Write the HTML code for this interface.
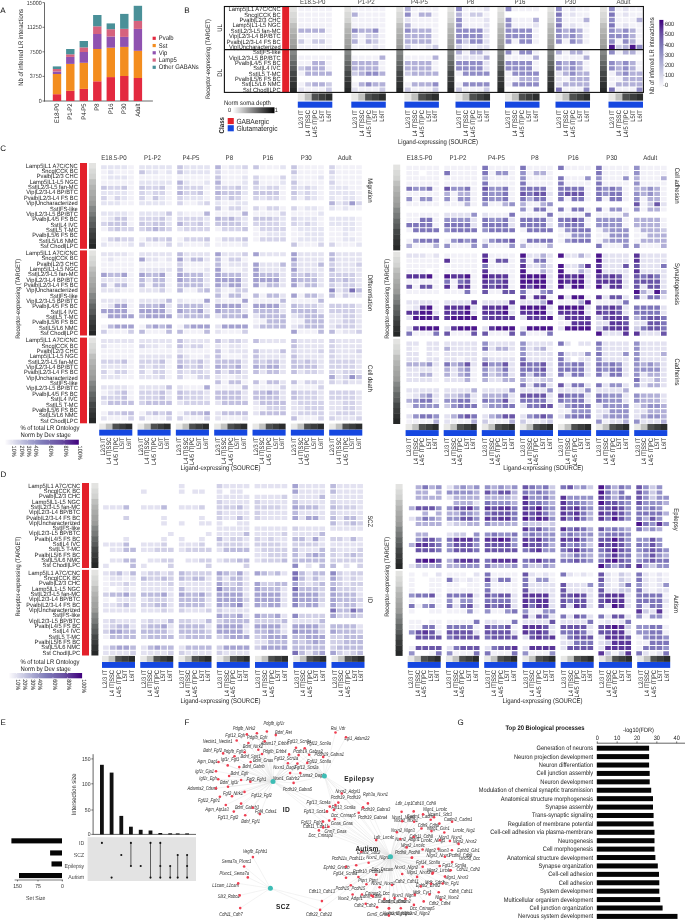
<!DOCTYPE html>
<html><head><meta charset="utf-8"><title>Figure</title>
<style>html,body{margin:0;padding:0;background:#fff;}body{width:685px;height:920px;overflow:hidden;}svg{display:block;}</style>
</head><body>
<svg width="685" height="920" viewBox="0 0 685 920" text-rendering="geometricPrecision" font-family='"Liberation Sans", Arial, sans-serif'>
<text x="0.2" y="13.1" font-size="8" fill="#111">A</text>
<text x="184.2" y="13.1" font-size="8" fill="#111">B</text>
<text x="0.2" y="151.3" font-size="8" fill="#111">C</text>
<text x="0.4" y="476.8" font-size="8" fill="#111">D</text>
<text x="0.4" y="725" font-size="8" fill="#111">E</text>
<text x="184.5" y="725" font-size="8" fill="#111">F</text>
<text x="457.6" y="725" font-size="8" fill="#111">G</text>
<line x1="44.5" y1="2.6" x2="44.5" y2="101.5" stroke="#444" stroke-width="0.8"/>
<line x1="44.1" y1="101" x2="152.9" y2="101" stroke="#444" stroke-width="0.8"/>
<line x1="42.5" y1="2.6" x2="44.5" y2="2.6" stroke="#444" stroke-width="0.7"/>
<text x="41.6" y="4.5" text-anchor="end" font-size="5.99" fill="#333" textLength="14.74" lengthAdjust="spacingAndGlyphs">15000</text>
<line x1="42.5" y1="27.3" x2="44.5" y2="27.3" stroke="#444" stroke-width="0.7"/>
<text x="41.6" y="29.2" text-anchor="end" font-size="5.99" fill="#333" textLength="14.35" lengthAdjust="spacingAndGlyphs">11250</text>
<line x1="42.5" y1="51.8" x2="44.5" y2="51.8" stroke="#444" stroke-width="0.7"/>
<text x="41.6" y="53.7" text-anchor="end" font-size="5.99" fill="#333" textLength="11.79" lengthAdjust="spacingAndGlyphs">7500</text>
<line x1="42.5" y1="76.4" x2="44.5" y2="76.4" stroke="#444" stroke-width="0.7"/>
<text x="41.6" y="78.3" text-anchor="end" font-size="5.99" fill="#333" textLength="11.79" lengthAdjust="spacingAndGlyphs">3750</text>
<line x1="42.5" y1="101" x2="44.5" y2="101" stroke="#444" stroke-width="0.7"/>
<text x="41.6" y="102.9" text-anchor="end" font-size="5.99" fill="#333" textLength="2.95" lengthAdjust="spacingAndGlyphs">0</text>
<text transform="translate(23 47.4) rotate(-90)" text-anchor="middle" font-size="6.67" fill="#222" textLength="76.74" lengthAdjust="spacingAndGlyphs">Nb of inferred LR interactions</text>
<rect x="52.8" y="94.2" width="8.4" height="6.8" fill="#e32a40"/>
<rect x="52.8" y="74" width="8.4" height="20.2" fill="#f38d1f"/>
<rect x="52.8" y="71.5" width="8.4" height="2.5" fill="#8f52b0"/>
<rect x="52.8" y="69" width="8.4" height="2.5" fill="#d6637e"/>
<rect x="52.8" y="66.4" width="8.4" height="2.6" fill="#4a9098"/>
<rect x="66.1" y="90.8" width="8.4" height="10.2" fill="#e32a40"/>
<rect x="66.1" y="63.9" width="8.4" height="26.9" fill="#f38d1f"/>
<rect x="66.1" y="56.9" width="8.4" height="7" fill="#8f52b0"/>
<rect x="66.1" y="54.3" width="8.4" height="2.6" fill="#d6637e"/>
<rect x="66.1" y="49" width="8.4" height="5.3" fill="#4a9098"/>
<rect x="79.6" y="88.9" width="8.4" height="12.1" fill="#e32a40"/>
<rect x="79.6" y="62.8" width="8.4" height="26.1" fill="#f38d1f"/>
<rect x="79.6" y="52" width="8.4" height="10.8" fill="#8f52b0"/>
<rect x="79.6" y="47.4" width="8.4" height="4.6" fill="#d6637e"/>
<rect x="79.6" y="41" width="8.4" height="6.4" fill="#4a9098"/>
<rect x="93.1" y="81.3" width="8.4" height="19.7" fill="#e32a40"/>
<rect x="93.1" y="49" width="8.4" height="32.3" fill="#f38d1f"/>
<rect x="93.1" y="34" width="8.4" height="15" fill="#8f52b0"/>
<rect x="93.1" y="26.3" width="8.4" height="7.7" fill="#d6637e"/>
<rect x="93.1" y="15" width="8.4" height="11.3" fill="#4a9098"/>
<rect x="106.6" y="77.1" width="8.4" height="23.9" fill="#e32a40"/>
<rect x="106.6" y="47.7" width="8.4" height="29.4" fill="#f38d1f"/>
<rect x="106.6" y="36.5" width="8.4" height="11.2" fill="#8f52b0"/>
<rect x="106.6" y="29.2" width="8.4" height="7.3" fill="#d6637e"/>
<rect x="106.6" y="23.4" width="8.4" height="5.8" fill="#4a9098"/>
<rect x="120.1" y="76" width="8.4" height="25" fill="#e32a40"/>
<rect x="120.1" y="46.9" width="8.4" height="29.1" fill="#f38d1f"/>
<rect x="120.1" y="36.9" width="8.4" height="10" fill="#8f52b0"/>
<rect x="120.1" y="28.8" width="8.4" height="8.1" fill="#d6637e"/>
<rect x="120.1" y="13.9" width="8.4" height="14.9" fill="#4a9098"/>
<rect x="133.7" y="78" width="8.4" height="23" fill="#e32a40"/>
<rect x="133.7" y="50.8" width="8.4" height="27.2" fill="#f38d1f"/>
<rect x="133.7" y="28.9" width="8.4" height="21.9" fill="#8f52b0"/>
<rect x="133.7" y="20.9" width="8.4" height="8" fill="#d6637e"/>
<rect x="133.7" y="5.8" width="8.4" height="15.1" fill="#4a9098"/>
<text transform="translate(59 103.6) rotate(-90)" text-anchor="end" font-size="6.55" fill="#222" textLength="19.35" lengthAdjust="spacingAndGlyphs">E18-P0</text>
<text transform="translate(72.3 103.6) rotate(-90)" text-anchor="end" font-size="6.55" fill="#222" textLength="16.12" lengthAdjust="spacingAndGlyphs">P1-P2</text>
<text transform="translate(85.8 103.6) rotate(-90)" text-anchor="end" font-size="6.55" fill="#222" textLength="16.12" lengthAdjust="spacingAndGlyphs">P4-P5</text>
<text transform="translate(99.3 103.6) rotate(-90)" text-anchor="end" font-size="6.55" fill="#222" textLength="7.09" lengthAdjust="spacingAndGlyphs">P8</text>
<text transform="translate(112.8 103.6) rotate(-90)" text-anchor="end" font-size="6.55" fill="#222" textLength="10.32" lengthAdjust="spacingAndGlyphs">P16</text>
<text transform="translate(126.3 103.6) rotate(-90)" text-anchor="end" font-size="6.55" fill="#222" textLength="10.32" lengthAdjust="spacingAndGlyphs">P30</text>
<text transform="translate(139.9 103.6) rotate(-90)" text-anchor="end" font-size="6.55" fill="#222" textLength="13.22" lengthAdjust="spacingAndGlyphs">Adult</text>
<rect x="152.6" y="36.7" width="3.2" height="3.2" fill="#e32a40"/>
<text x="158.8" y="40.3" font-size="6.67" fill="#222" textLength="14.76" lengthAdjust="spacingAndGlyphs">Pvalb</text>
<rect x="152.6" y="43.95" width="3.2" height="3.2" fill="#f38d1f"/>
<text x="158.8" y="47.55" font-size="6.67" fill="#222" textLength="8.52" lengthAdjust="spacingAndGlyphs">Sst</text>
<rect x="152.6" y="51.2" width="3.2" height="3.2" fill="#8f52b0"/>
<text x="158.8" y="54.8" font-size="6.67" fill="#222" textLength="8.42" lengthAdjust="spacingAndGlyphs">Vip</text>
<rect x="152.6" y="58.45" width="3.2" height="3.2" fill="#d6637e"/>
<text x="158.8" y="62.05" font-size="6.67" fill="#222" textLength="18.04" lengthAdjust="spacingAndGlyphs">Lamp5</text>
<rect x="152.6" y="65.7" width="3.2" height="3.2" fill="#4a9098"/>
<text x="158.8" y="69.3" font-size="6.67" fill="#222" textLength="40" lengthAdjust="spacingAndGlyphs">Other GABANs</text>
<rect x="282.2" y="6.5" width="7" height="85.9" fill="#e3212b"/>
<rect x="290" y="6.5" width="6.9" height="5.44" fill="#e3e3e1"/>
<rect x="290" y="11.89" width="6.9" height="5.44" fill="#d9dad8"/>
<rect x="290" y="17.27" width="6.9" height="5.44" fill="#d2d3d1"/>
<rect x="290" y="22.66" width="6.9" height="5.44" fill="#bfc0be"/>
<rect x="290" y="28.05" width="6.9" height="5.44" fill="#b3b4b2"/>
<rect x="290" y="33.44" width="6.9" height="5.44" fill="#aaaba9"/>
<rect x="290" y="38.83" width="6.9" height="5.44" fill="#a2a3a1"/>
<rect x="290" y="44.21" width="6.9" height="5.44" fill="#9a9b99"/>
<rect x="290" y="49.6" width="6.9" height="5.4" fill="#848786"/>
<rect x="290" y="54.95" width="6.9" height="5.4" fill="#777a79"/>
<rect x="290" y="60.3" width="6.9" height="5.4" fill="#636766"/>
<rect x="290" y="65.65" width="6.9" height="5.4" fill="#585b5b"/>
<rect x="290" y="71" width="6.9" height="5.4" fill="#444747"/>
<rect x="290" y="76.35" width="6.9" height="5.4" fill="#3a3c3c"/>
<rect x="290" y="81.7" width="6.9" height="5.4" fill="#2f3131"/>
<rect x="290" y="87.05" width="6.9" height="5.4" fill="#262828"/>
<rect x="344.4" y="6.5" width="6.9" height="5.44" fill="#e3e3e1"/>
<rect x="344.4" y="11.89" width="6.9" height="5.44" fill="#d9dad8"/>
<rect x="344.4" y="17.27" width="6.9" height="5.44" fill="#d2d3d1"/>
<rect x="344.4" y="22.66" width="6.9" height="5.44" fill="#bfc0be"/>
<rect x="344.4" y="28.05" width="6.9" height="5.44" fill="#b3b4b2"/>
<rect x="344.4" y="33.44" width="6.9" height="5.44" fill="#aaaba9"/>
<rect x="344.4" y="38.83" width="6.9" height="5.44" fill="#a2a3a1"/>
<rect x="344.4" y="44.21" width="6.9" height="5.44" fill="#9a9b99"/>
<rect x="344.4" y="49.6" width="6.9" height="5.4" fill="#848786"/>
<rect x="344.4" y="54.95" width="6.9" height="5.4" fill="#777a79"/>
<rect x="344.4" y="60.3" width="6.9" height="5.4" fill="#636766"/>
<rect x="344.4" y="65.65" width="6.9" height="5.4" fill="#585b5b"/>
<rect x="344.4" y="71" width="6.9" height="5.4" fill="#444747"/>
<rect x="344.4" y="76.35" width="6.9" height="5.4" fill="#3a3c3c"/>
<rect x="344.4" y="81.7" width="6.9" height="5.4" fill="#2f3131"/>
<rect x="344.4" y="87.05" width="6.9" height="5.4" fill="#262828"/>
<rect x="396.3" y="6.5" width="6.9" height="5.44" fill="#e3e3e1"/>
<rect x="396.3" y="11.89" width="6.9" height="5.44" fill="#d9dad8"/>
<rect x="396.3" y="17.27" width="6.9" height="5.44" fill="#d2d3d1"/>
<rect x="396.3" y="22.66" width="6.9" height="5.44" fill="#bfc0be"/>
<rect x="396.3" y="28.05" width="6.9" height="5.44" fill="#b3b4b2"/>
<rect x="396.3" y="33.44" width="6.9" height="5.44" fill="#aaaba9"/>
<rect x="396.3" y="38.83" width="6.9" height="5.44" fill="#a2a3a1"/>
<rect x="396.3" y="44.21" width="6.9" height="5.44" fill="#9a9b99"/>
<rect x="396.3" y="49.6" width="6.9" height="5.4" fill="#848786"/>
<rect x="396.3" y="54.95" width="6.9" height="5.4" fill="#777a79"/>
<rect x="396.3" y="60.3" width="6.9" height="5.4" fill="#636766"/>
<rect x="396.3" y="65.65" width="6.9" height="5.4" fill="#585b5b"/>
<rect x="396.3" y="71" width="6.9" height="5.4" fill="#444747"/>
<rect x="396.3" y="76.35" width="6.9" height="5.4" fill="#3a3c3c"/>
<rect x="396.3" y="81.7" width="6.9" height="5.4" fill="#2f3131"/>
<rect x="396.3" y="87.05" width="6.9" height="5.4" fill="#262828"/>
<rect x="447.4" y="6.5" width="6.9" height="5.44" fill="#e3e3e1"/>
<rect x="447.4" y="11.89" width="6.9" height="5.44" fill="#d9dad8"/>
<rect x="447.4" y="17.27" width="6.9" height="5.44" fill="#d2d3d1"/>
<rect x="447.4" y="22.66" width="6.9" height="5.44" fill="#bfc0be"/>
<rect x="447.4" y="28.05" width="6.9" height="5.44" fill="#b3b4b2"/>
<rect x="447.4" y="33.44" width="6.9" height="5.44" fill="#aaaba9"/>
<rect x="447.4" y="38.83" width="6.9" height="5.44" fill="#a2a3a1"/>
<rect x="447.4" y="44.21" width="6.9" height="5.44" fill="#9a9b99"/>
<rect x="447.4" y="49.6" width="6.9" height="5.4" fill="#848786"/>
<rect x="447.4" y="54.95" width="6.9" height="5.4" fill="#777a79"/>
<rect x="447.4" y="60.3" width="6.9" height="5.4" fill="#636766"/>
<rect x="447.4" y="65.65" width="6.9" height="5.4" fill="#585b5b"/>
<rect x="447.4" y="71" width="6.9" height="5.4" fill="#444747"/>
<rect x="447.4" y="76.35" width="6.9" height="5.4" fill="#3a3c3c"/>
<rect x="447.4" y="81.7" width="6.9" height="5.4" fill="#2f3131"/>
<rect x="447.4" y="87.05" width="6.9" height="5.4" fill="#262828"/>
<rect x="497.4" y="6.5" width="6.9" height="5.44" fill="#e3e3e1"/>
<rect x="497.4" y="11.89" width="6.9" height="5.44" fill="#d9dad8"/>
<rect x="497.4" y="17.27" width="6.9" height="5.44" fill="#d2d3d1"/>
<rect x="497.4" y="22.66" width="6.9" height="5.44" fill="#bfc0be"/>
<rect x="497.4" y="28.05" width="6.9" height="5.44" fill="#b3b4b2"/>
<rect x="497.4" y="33.44" width="6.9" height="5.44" fill="#aaaba9"/>
<rect x="497.4" y="38.83" width="6.9" height="5.44" fill="#a2a3a1"/>
<rect x="497.4" y="44.21" width="6.9" height="5.44" fill="#9a9b99"/>
<rect x="497.4" y="49.6" width="6.9" height="5.4" fill="#848786"/>
<rect x="497.4" y="54.95" width="6.9" height="5.4" fill="#777a79"/>
<rect x="497.4" y="60.3" width="6.9" height="5.4" fill="#636766"/>
<rect x="497.4" y="65.65" width="6.9" height="5.4" fill="#585b5b"/>
<rect x="497.4" y="71" width="6.9" height="5.4" fill="#444747"/>
<rect x="497.4" y="76.35" width="6.9" height="5.4" fill="#3a3c3c"/>
<rect x="497.4" y="81.7" width="6.9" height="5.4" fill="#2f3131"/>
<rect x="497.4" y="87.05" width="6.9" height="5.4" fill="#262828"/>
<rect x="547.4" y="6.5" width="6.9" height="5.44" fill="#e3e3e1"/>
<rect x="547.4" y="11.89" width="6.9" height="5.44" fill="#d9dad8"/>
<rect x="547.4" y="17.27" width="6.9" height="5.44" fill="#d2d3d1"/>
<rect x="547.4" y="22.66" width="6.9" height="5.44" fill="#bfc0be"/>
<rect x="547.4" y="28.05" width="6.9" height="5.44" fill="#b3b4b2"/>
<rect x="547.4" y="33.44" width="6.9" height="5.44" fill="#aaaba9"/>
<rect x="547.4" y="38.83" width="6.9" height="5.44" fill="#a2a3a1"/>
<rect x="547.4" y="44.21" width="6.9" height="5.44" fill="#9a9b99"/>
<rect x="547.4" y="49.6" width="6.9" height="5.4" fill="#848786"/>
<rect x="547.4" y="54.95" width="6.9" height="5.4" fill="#777a79"/>
<rect x="547.4" y="60.3" width="6.9" height="5.4" fill="#636766"/>
<rect x="547.4" y="65.65" width="6.9" height="5.4" fill="#585b5b"/>
<rect x="547.4" y="71" width="6.9" height="5.4" fill="#444747"/>
<rect x="547.4" y="76.35" width="6.9" height="5.4" fill="#3a3c3c"/>
<rect x="547.4" y="81.7" width="6.9" height="5.4" fill="#2f3131"/>
<rect x="547.4" y="87.05" width="6.9" height="5.4" fill="#262828"/>
<rect x="600" y="6.5" width="6.9" height="5.44" fill="#e3e3e1"/>
<rect x="600" y="11.89" width="6.9" height="5.44" fill="#d9dad8"/>
<rect x="600" y="17.27" width="6.9" height="5.44" fill="#d2d3d1"/>
<rect x="600" y="22.66" width="6.9" height="5.44" fill="#bfc0be"/>
<rect x="600" y="28.05" width="6.9" height="5.44" fill="#b3b4b2"/>
<rect x="600" y="33.44" width="6.9" height="5.44" fill="#aaaba9"/>
<rect x="600" y="38.83" width="6.9" height="5.44" fill="#a2a3a1"/>
<rect x="600" y="44.21" width="6.9" height="5.44" fill="#9a9b99"/>
<rect x="600" y="49.6" width="6.9" height="5.4" fill="#848786"/>
<rect x="600" y="54.95" width="6.9" height="5.4" fill="#777a79"/>
<rect x="600" y="60.3" width="6.9" height="5.4" fill="#636766"/>
<rect x="600" y="65.65" width="6.9" height="5.4" fill="#585b5b"/>
<rect x="600" y="71" width="6.9" height="5.4" fill="#444747"/>
<rect x="600" y="76.35" width="6.9" height="5.4" fill="#3a3c3c"/>
<rect x="600" y="81.7" width="6.9" height="5.4" fill="#2f3131"/>
<rect x="600" y="87.05" width="6.9" height="5.4" fill="#262828"/>
<path d="M298.4 9.2h5.8M305.2 9.2h5.8M312.2 9.2h5.8M319.1 9.2h5.8M326.0 9.2h5.8M351.9 9.2h5.8M358.8 9.2h5.8M365.7 9.2h5.8M372.6 9.2h5.8M379.5 9.2h5.8M411.8 9.2h5.8M418.8 9.2h5.8M425.6 9.2h5.8M432.6 9.2h5.8M462.9 9.2h5.8M469.9 9.2h5.8M476.8 9.2h5.8M512.4 9.2h5.8M519.3 9.2h5.8M526.2 9.2h5.8M533.1 9.2h5.8M562.9 9.2h5.8M576.8 9.2h5.8M583.6 9.2h5.8M615.9 9.2h5.8M629.8 9.2h5.8M636.6 9.2h5.8M298.4 14.6h5.8M305.2 14.6h5.8M312.2 14.6h5.8M319.1 14.6h5.8M326.0 14.6h5.8M358.8 14.6h5.8M365.7 14.6h5.8M372.6 14.6h5.8M379.5 14.6h5.8M411.8 14.6h5.8M432.6 14.6h5.8M462.9 14.6h5.8M483.7 14.6h5.8M562.9 14.6h5.8M576.8 14.6h5.8M583.6 14.6h5.8M615.9 14.6h5.8M629.8 14.6h5.8M636.6 14.6h5.8M298.4 20.0h5.8M305.2 20.0h5.8M312.2 20.0h5.8M319.1 20.0h5.8M326.0 20.0h5.8M351.9 20.0h5.8M358.8 20.0h5.8M365.7 20.0h5.8M372.6 20.0h5.8M379.5 20.0h5.8M411.8 20.0h5.8M418.8 20.0h5.8M425.6 20.0h5.8M432.6 20.0h5.8M462.9 20.0h5.8M469.9 20.0h5.8M476.8 20.0h5.8M512.4 20.0h5.8M519.3 20.0h5.8M526.2 20.0h5.8M562.9 20.0h5.8M569.8 20.0h5.8M576.8 20.0h5.8M615.9 20.0h5.8M622.8 20.0h5.8M629.8 20.0h5.8M298.4 25.4h5.8M305.2 25.4h5.8M312.2 25.4h5.8M319.1 25.4h5.8M326.0 25.4h5.8M351.9 25.4h5.8M358.8 25.4h5.8M365.7 25.4h5.8M372.6 25.4h5.8M379.5 25.4h5.8M411.8 25.4h5.8M418.8 25.4h5.8M425.6 25.4h5.8M432.6 25.4h5.8M462.9 25.4h5.8M469.9 25.4h5.8M476.8 25.4h5.8M512.4 25.4h5.8M519.3 25.4h5.8M526.2 25.4h5.8M562.9 25.4h5.8M576.8 25.4h5.8M583.6 25.4h5.8M615.9 25.4h5.8M629.8 25.4h5.8M636.6 25.4h5.8M326.0 30.7h5.8M379.5 30.7h5.8M432.6 30.7h5.8M533.1 30.7h5.8M583.6 30.7h5.8M636.6 30.7h5.8M298.4 36.1h5.8M305.2 36.1h5.8M312.2 36.1h5.8M319.1 36.1h5.8M326.0 36.1h5.8M358.8 36.1h5.8M379.5 36.1h5.8M432.6 36.1h5.8M533.1 36.1h5.8M583.6 36.1h5.8M636.6 36.1h5.8M305.2 41.5h5.8M326.0 41.5h5.8M358.8 41.5h5.8M379.5 41.5h5.8M432.6 41.5h5.8M512.4 41.5h5.8M533.1 41.5h5.8M562.9 41.5h5.8M583.6 41.5h5.8M615.9 41.5h5.8M636.6 41.5h5.8M298.4 46.9h5.8M305.2 46.9h5.8M312.2 46.9h5.8M319.1 46.9h5.8M326.0 46.9h5.8M351.9 46.9h5.8M358.8 46.9h5.8M365.7 46.9h5.8M379.5 46.9h5.8M411.8 46.9h5.8M418.8 46.9h5.8M462.9 46.9h5.8M469.9 46.9h5.8" stroke="#f2f1f8" stroke-width="4.29"/>
<path d="M483.7 9.2h5.8M569.8 9.2h5.8M622.8 9.2h5.8M569.8 14.6h5.8M622.8 14.6h5.8M404.9 20.0h5.8M483.7 20.0h5.8M483.7 25.4h5.8M533.1 25.4h5.8M569.8 25.4h5.8M622.8 25.4h5.8M483.7 30.7h5.8M483.7 36.1h5.8M483.7 41.5h5.8M372.6 46.9h5.8M425.6 46.9h5.8M476.8 46.9h5.8M483.7 46.9h5.8" stroke="#e3e2f1" stroke-width="4.29"/>
<path d="M469.9 14.6h5.8M476.8 14.6h5.8M351.9 36.1h5.8M365.7 36.1h5.8M372.6 36.1h5.8M298.4 41.5h5.8M312.2 41.5h5.8M319.1 41.5h5.8M372.6 41.5h5.8M462.9 41.5h5.8M404.9 46.9h5.8M432.6 46.9h5.8M456.1 46.9h5.8M615.9 46.9h5.8" stroke="#cccbe5" stroke-width="4.29"/>
<path d="M404.9 9.2h5.8M351.9 14.6h5.8M418.8 14.6h5.8M425.6 14.6h5.8M456.1 14.6h5.8M533.1 20.0h5.8M583.6 20.0h5.8M636.6 20.0h5.8M404.9 25.4h5.8M298.4 30.7h5.8M305.2 30.7h5.8M312.2 30.7h5.8M319.1 30.7h5.8M358.8 30.7h5.8M365.7 30.7h5.8M411.8 30.7h5.8M418.8 30.7h5.8M425.6 30.7h5.8M562.9 30.7h5.8M576.8 30.7h5.8M615.9 30.7h5.8M629.8 30.7h5.8M404.9 36.1h5.8M411.8 36.1h5.8M418.8 36.1h5.8M425.6 36.1h5.8M562.9 36.1h5.8M576.8 36.1h5.8M629.8 36.1h5.8M351.9 41.5h5.8M365.7 41.5h5.8M404.9 41.5h5.8M411.8 41.5h5.8M418.8 41.5h5.8M425.6 41.5h5.8M576.8 41.5h5.8M629.8 41.5h5.8M622.8 46.9h5.8" stroke="#b2b0d8" stroke-width="4.29"/>
<path d="M456.1 9.2h5.8M505.6 9.2h5.8M556.0 9.2h5.8M609.0 9.2h5.8M404.9 14.6h5.8M456.1 20.0h5.8M505.6 20.0h5.8M556.0 20.0h5.8M609.0 20.0h5.8M456.1 25.4h5.8M505.6 25.4h5.8M351.9 30.7h5.8M372.6 30.7h5.8M404.9 30.7h5.8M456.1 30.7h5.8M462.9 30.7h5.8M469.9 30.7h5.8M476.8 30.7h5.8M505.6 30.7h5.8M512.4 30.7h5.8M519.3 30.7h5.8M526.2 30.7h5.8M556.0 30.7h5.8M569.8 30.7h5.8M609.0 30.7h5.8M622.8 30.7h5.8M456.1 36.1h5.8M462.9 36.1h5.8M469.9 36.1h5.8M476.8 36.1h5.8M505.6 36.1h5.8M512.4 36.1h5.8M519.3 36.1h5.8M526.2 36.1h5.8M556.0 36.1h5.8M569.8 36.1h5.8M609.0 36.1h5.8M615.9 36.1h5.8M622.8 36.1h5.8M456.1 41.5h5.8M469.9 41.5h5.8M476.8 41.5h5.8M505.6 41.5h5.8M519.3 41.5h5.8M526.2 41.5h5.8M556.0 41.5h5.8M569.8 41.5h5.8M609.0 41.5h5.8M622.8 41.5h5.8M636.6 46.9h5.8" stroke="#908cc6" stroke-width="4.29"/>
<path d="M556.0 14.6h5.8M609.0 14.6h5.8M556.0 25.4h5.8M609.0 25.4h5.8" stroke="#7e76ba" stroke-width="4.29"/>
<path d="M609.0 46.9h5.8M629.8 46.9h5.8" stroke="#4b168c" stroke-width="4.29"/>
<path d="M462.9 52.3h5.8M483.7 52.3h5.8M512.4 52.3h5.8M533.1 52.3h5.8M562.9 52.3h5.8M583.6 52.3h5.8M615.9 52.3h5.8M636.6 52.3h5.8M298.4 57.6h5.8M305.2 57.6h5.8M312.2 57.6h5.8M319.1 57.6h5.8M326.0 57.6h5.8M351.9 57.6h5.8M358.8 57.6h5.8M365.7 57.6h5.8M372.6 57.6h5.8M404.9 57.6h5.8M411.8 57.6h5.8M418.8 57.6h5.8M425.6 57.6h5.8M505.6 57.6h5.8M512.4 57.6h5.8M519.3 57.6h5.8M526.2 57.6h5.8M556.0 57.6h5.8M562.9 57.6h5.8M569.8 57.6h5.8M576.8 57.6h5.8M298.4 63.0h5.8M305.2 63.0h5.8M326.0 63.0h5.8M379.5 63.0h5.8M432.6 63.0h5.8M533.1 63.0h5.8M583.6 63.0h5.8M636.6 63.0h5.8M326.0 68.3h5.8M379.5 68.3h5.8M432.6 68.3h5.8M533.1 68.3h5.8M583.6 68.3h5.8M636.6 68.3h5.8M298.4 73.7h5.8M456.1 73.7h5.8M505.6 73.7h5.8M609.0 73.7h5.8M505.6 79.0h5.8M512.4 79.0h5.8M562.9 79.0h5.8M609.0 79.0h5.8M615.9 79.0h5.8M298.4 84.4h5.8M351.9 84.4h5.8M404.9 84.4h5.8M456.1 84.4h5.8M505.6 84.4h5.8M609.0 84.4h5.8M305.2 89.7h5.8M312.2 89.7h5.8M319.1 89.7h5.8M358.8 89.7h5.8M365.7 89.7h5.8M372.6 89.7h5.8M411.8 89.7h5.8M418.8 89.7h5.8M425.6 89.7h5.8M462.9 89.7h5.8M469.9 89.7h5.8M476.8 89.7h5.8M562.9 89.7h5.8M569.8 89.7h5.8M576.8 89.7h5.8M615.9 89.7h5.8M622.8 89.7h5.8M629.8 89.7h5.8" stroke="#f2f1f8" stroke-width="4.25"/>
<path d="M456.1 57.6h5.8M462.9 57.6h5.8M469.9 57.6h5.8M476.8 57.6h5.8M483.7 63.0h5.8M483.7 68.3h5.8M556.0 73.7h5.8M556.0 79.0h5.8M556.0 84.4h5.8M298.4 89.7h5.8M351.9 89.7h5.8" stroke="#e3e2f1" stroke-width="4.25"/>
<path d="M298.4 68.3h5.8M351.9 73.7h5.8M404.9 73.7h5.8M305.2 84.4h5.8M326.0 84.4h5.8M326.0 89.7h5.8M379.5 89.7h5.8M404.9 89.7h5.8M432.6 89.7h5.8M456.1 89.7h5.8M483.7 89.7h5.8" stroke="#cccbe5" stroke-width="4.25"/>
<path d="M456.1 52.3h5.8M469.9 52.3h5.8M476.8 52.3h5.8M556.0 52.3h5.8M569.8 52.3h5.8M576.8 52.3h5.8M622.8 52.3h5.8M629.8 52.3h5.8M379.5 57.6h5.8M432.6 57.6h5.8M483.7 57.6h5.8M533.1 57.6h5.8M583.6 57.6h5.8M312.2 63.0h5.8M319.1 63.0h5.8M351.9 63.0h5.8M358.8 63.0h5.8M365.7 63.0h5.8M372.6 63.0h5.8M404.9 63.0h5.8M411.8 63.0h5.8M418.8 63.0h5.8M425.6 63.0h5.8M562.9 63.0h5.8M576.8 63.0h5.8M615.9 63.0h5.8M629.8 63.0h5.8M305.2 68.3h5.8M312.2 68.3h5.8M319.1 68.3h5.8M351.9 68.3h5.8M358.8 68.3h5.8M365.7 68.3h5.8M372.6 68.3h5.8M404.9 68.3h5.8M411.8 68.3h5.8M418.8 68.3h5.8M425.6 68.3h5.8M562.9 68.3h5.8M576.8 68.3h5.8M615.9 68.3h5.8M629.8 68.3h5.8M305.2 73.7h5.8M312.2 73.7h5.8M319.1 73.7h5.8M326.0 73.7h5.8M358.8 73.7h5.8M379.5 73.7h5.8M411.8 73.7h5.8M418.8 73.7h5.8M425.6 73.7h5.8M432.6 73.7h5.8M562.9 73.7h5.8M576.8 73.7h5.8M583.6 73.7h5.8M615.9 73.7h5.8M629.8 73.7h5.8M636.6 73.7h5.8M519.3 79.0h5.8M526.2 79.0h5.8M533.1 79.0h5.8M569.8 79.0h5.8M576.8 79.0h5.8M583.6 79.0h5.8M622.8 79.0h5.8M629.8 79.0h5.8M636.6 79.0h5.8M312.2 84.4h5.8M319.1 84.4h5.8M358.8 84.4h5.8M372.6 84.4h5.8M379.5 84.4h5.8M411.8 84.4h5.8M418.8 84.4h5.8M425.6 84.4h5.8M562.9 84.4h5.8M569.8 84.4h5.8M576.8 84.4h5.8M583.6 84.4h5.8M615.9 84.4h5.8M622.8 84.4h5.8M629.8 84.4h5.8M636.6 84.4h5.8" stroke="#b2b0d8" stroke-width="4.25"/>
<path d="M505.6 52.3h5.8M519.3 52.3h5.8M526.2 52.3h5.8M609.0 52.3h5.8M456.1 63.0h5.8M462.9 63.0h5.8M469.9 63.0h5.8M476.8 63.0h5.8M505.6 63.0h5.8M512.4 63.0h5.8M519.3 63.0h5.8M526.2 63.0h5.8M556.0 63.0h5.8M569.8 63.0h5.8M609.0 63.0h5.8M622.8 63.0h5.8M456.1 68.3h5.8M462.9 68.3h5.8M469.9 68.3h5.8M476.8 68.3h5.8M505.6 68.3h5.8M512.4 68.3h5.8M519.3 68.3h5.8M526.2 68.3h5.8M556.0 68.3h5.8M569.8 68.3h5.8M609.0 68.3h5.8M622.8 68.3h5.8M365.7 73.7h5.8M372.6 73.7h5.8M462.9 73.7h5.8M469.9 73.7h5.8M476.8 73.7h5.8M483.7 73.7h5.8M512.4 73.7h5.8M519.3 73.7h5.8M526.2 73.7h5.8M533.1 73.7h5.8M569.8 73.7h5.8M622.8 73.7h5.8M365.7 84.4h5.8M432.6 84.4h5.8M462.9 84.4h5.8M469.9 84.4h5.8M476.8 84.4h5.8M483.7 84.4h5.8M512.4 84.4h5.8M519.3 84.4h5.8M526.2 84.4h5.8M533.1 84.4h5.8M583.6 89.7h5.8M636.6 89.7h5.8" stroke="#908cc6" stroke-width="4.25"/>
<path d="M556.0 89.7h5.8M609.0 89.7h5.8" stroke="#7e76ba" stroke-width="4.25"/>
<text x="280.6" y="11.19" text-anchor="end" font-size="6.04" fill="#222" textLength="51.99" lengthAdjust="spacingAndGlyphs">Lamp5|L1 A7C/CNC</text>
<text x="280.6" y="16.58" text-anchor="end" font-size="6.04" fill="#222" textLength="36.33" lengthAdjust="spacingAndGlyphs">Sncg|CCK BC</text>
<text x="280.6" y="21.97" text-anchor="end" font-size="6.04" fill="#222" textLength="41.12" lengthAdjust="spacingAndGlyphs">Pvalb|L2/3 CHC</text>
<text x="280.6" y="27.36" text-anchor="end" font-size="6.04" fill="#222" textLength="48.16" lengthAdjust="spacingAndGlyphs">Lamp5|L1-L5 NGC</text>
<text x="280.6" y="32.74" text-anchor="end" font-size="6.04" fill="#222" textLength="49.75" lengthAdjust="spacingAndGlyphs">Sst|L2/3-L5 fan-MC</text>
<text x="280.6" y="38.13" text-anchor="end" font-size="6.04" fill="#222" textLength="51.57" lengthAdjust="spacingAndGlyphs">Vip|L2/3-L4 BP/BTC</text>
<text x="280.6" y="43.52" text-anchor="end" font-size="6.04" fill="#222" textLength="53.91" lengthAdjust="spacingAndGlyphs">Pvalb|L2/3-L4 FS BC</text>
<text x="280.6" y="48.91" text-anchor="end" font-size="6.04" fill="#222" textLength="51.57" lengthAdjust="spacingAndGlyphs">Vip|Uncharacterized</text>
<text x="280.6" y="54.27" text-anchor="end" font-size="6.04" fill="#222" textLength="27.69" lengthAdjust="spacingAndGlyphs">Sst|FS-like</text>
<text x="280.6" y="59.62" text-anchor="end" font-size="6.04" fill="#222" textLength="51.57" lengthAdjust="spacingAndGlyphs">Vip|L2/3-L5 BP/BTC</text>
<text x="280.6" y="64.97" text-anchor="end" font-size="6.04" fill="#222" textLength="45.6" lengthAdjust="spacingAndGlyphs">Pvalb|L4/5 FS BC</text>
<text x="280.6" y="70.33" text-anchor="end" font-size="6.04" fill="#222" textLength="27.38" lengthAdjust="spacingAndGlyphs">Sst|L4 IVC</text>
<text x="280.6" y="75.67" text-anchor="end" font-size="6.04" fill="#222" textLength="31.74" lengthAdjust="spacingAndGlyphs">Sst|L5 T-MC</text>
<text x="280.6" y="81.03" text-anchor="end" font-size="6.04" fill="#222" textLength="45.6" lengthAdjust="spacingAndGlyphs">Pvalb|L5/6 FS BC</text>
<text x="280.6" y="86.38" text-anchor="end" font-size="6.04" fill="#222" textLength="38.88" lengthAdjust="spacingAndGlyphs">Sst|L5/L6 NMC</text>
<text x="280.6" y="91.73" text-anchor="end" font-size="6.04" fill="#222" textLength="37.61" lengthAdjust="spacingAndGlyphs">Sst Chodl|LPC</text>
<rect x="224.4" y="6.5" width="419.0" height="85.9" fill="none" stroke="#111" stroke-width="1.1"/>
<line x1="224.4" y1="49.6" x2="643.4" y2="49.6" stroke="#111" stroke-width="1.3"/>
<text transform="translate(221.6 28) rotate(-90)" text-anchor="middle" font-size="6.78" fill="#222" textLength="7.67" lengthAdjust="spacingAndGlyphs">UL</text>
<text transform="translate(221.6 72.8) rotate(-90)" text-anchor="middle" font-size="6.78" fill="#222" textLength="7.67" lengthAdjust="spacingAndGlyphs">DL</text>
<text transform="translate(210 59) rotate(-90)" text-anchor="middle" font-size="6.38" fill="#222" textLength="79.96" lengthAdjust="spacingAndGlyphs">Receptor-expressing (TARGET)</text>
<text x="312.75" y="4.3" text-anchor="middle" font-size="6.89" fill="#444" textLength="25.43" lengthAdjust="spacingAndGlyphs">E18.5-P0</text>
<text x="366.25" y="4.3" text-anchor="middle" font-size="6.89" fill="#444" textLength="16.95" lengthAdjust="spacingAndGlyphs">P1-P2</text>
<text x="419.35" y="4.3" text-anchor="middle" font-size="6.89" fill="#444" textLength="16.95" lengthAdjust="spacingAndGlyphs">P4-P5</text>
<text x="470.45" y="4.3" text-anchor="middle" font-size="6.89" fill="#444" textLength="7.46" lengthAdjust="spacingAndGlyphs">P8</text>
<text x="519.95" y="4.3" text-anchor="middle" font-size="6.89" fill="#444" textLength="10.85" lengthAdjust="spacingAndGlyphs">P16</text>
<text x="570.45" y="4.3" text-anchor="middle" font-size="6.89" fill="#444" textLength="10.85" lengthAdjust="spacingAndGlyphs">P30</text>
<text x="623.45" y="4.3" text-anchor="middle" font-size="6.89" fill="#444" textLength="13.9" lengthAdjust="spacingAndGlyphs">Adult</text>
<rect x="297.8" y="93.4" width="6.95" height="7.2" fill="#e8e8e6"/>
<rect x="304.7" y="93.4" width="6.95" height="7.2" fill="#c0c1bf"/>
<rect x="311.6" y="93.4" width="6.95" height="7.2" fill="#4d4f4f"/>
<rect x="318.5" y="93.4" width="6.95" height="7.2" fill="#3b3d3d"/>
<rect x="325.4" y="93.4" width="6.95" height="7.2" fill="#2b2d2d"/>
<rect x="297.8" y="101.6" width="34.5" height="6.1" fill="#1547e0"/>
<text transform="translate(303.25 110.2) rotate(-90)" text-anchor="end" font-size="6.5" fill="#222" textLength="17.9" lengthAdjust="spacingAndGlyphs">L2/3 IT</text>
<text transform="translate(310.15 110.2) rotate(-90)" text-anchor="end" font-size="6.5" fill="#222" textLength="26.42" lengthAdjust="spacingAndGlyphs">L4 IT|SSC</text>
<text transform="translate(317.05 110.2) rotate(-90)" text-anchor="end" font-size="6.5" fill="#222" textLength="27.38" lengthAdjust="spacingAndGlyphs">L4/5 IT|PC</text>
<text transform="translate(323.95 110.2) rotate(-90)" text-anchor="end" font-size="6.5" fill="#222" textLength="11.51" lengthAdjust="spacingAndGlyphs">L5IT</text>
<text transform="translate(330.85 110.2) rotate(-90)" text-anchor="end" font-size="6.5" fill="#222" textLength="11.51" lengthAdjust="spacingAndGlyphs">L6IT</text>
<rect x="351.3" y="93.4" width="6.95" height="7.2" fill="#e8e8e6"/>
<rect x="358.2" y="93.4" width="6.95" height="7.2" fill="#c0c1bf"/>
<rect x="365.1" y="93.4" width="6.95" height="7.2" fill="#4d4f4f"/>
<rect x="372" y="93.4" width="6.95" height="7.2" fill="#3b3d3d"/>
<rect x="378.9" y="93.4" width="6.95" height="7.2" fill="#2b2d2d"/>
<rect x="351.3" y="101.6" width="34.5" height="6.1" fill="#1547e0"/>
<text transform="translate(356.75 110.2) rotate(-90)" text-anchor="end" font-size="6.5" fill="#222" textLength="17.9" lengthAdjust="spacingAndGlyphs">L2/3 IT</text>
<text transform="translate(363.65 110.2) rotate(-90)" text-anchor="end" font-size="6.5" fill="#222" textLength="26.42" lengthAdjust="spacingAndGlyphs">L4 IT|SSC</text>
<text transform="translate(370.55 110.2) rotate(-90)" text-anchor="end" font-size="6.5" fill="#222" textLength="27.38" lengthAdjust="spacingAndGlyphs">L4/5 IT|PC</text>
<text transform="translate(377.45 110.2) rotate(-90)" text-anchor="end" font-size="6.5" fill="#222" textLength="11.51" lengthAdjust="spacingAndGlyphs">L5IT</text>
<text transform="translate(384.35 110.2) rotate(-90)" text-anchor="end" font-size="6.5" fill="#222" textLength="11.51" lengthAdjust="spacingAndGlyphs">L6IT</text>
<rect x="404.4" y="93.4" width="6.95" height="7.2" fill="#e8e8e6"/>
<rect x="411.3" y="93.4" width="6.95" height="7.2" fill="#c0c1bf"/>
<rect x="418.2" y="93.4" width="6.95" height="7.2" fill="#4d4f4f"/>
<rect x="425.1" y="93.4" width="6.95" height="7.2" fill="#3b3d3d"/>
<rect x="432" y="93.4" width="6.95" height="7.2" fill="#2b2d2d"/>
<rect x="404.4" y="101.6" width="34.5" height="6.1" fill="#1547e0"/>
<text transform="translate(409.85 110.2) rotate(-90)" text-anchor="end" font-size="6.5" fill="#222" textLength="17.9" lengthAdjust="spacingAndGlyphs">L2/3 IT</text>
<text transform="translate(416.75 110.2) rotate(-90)" text-anchor="end" font-size="6.5" fill="#222" textLength="26.42" lengthAdjust="spacingAndGlyphs">L4 IT|SSC</text>
<text transform="translate(423.65 110.2) rotate(-90)" text-anchor="end" font-size="6.5" fill="#222" textLength="27.38" lengthAdjust="spacingAndGlyphs">L4/5 IT|PC</text>
<text transform="translate(430.55 110.2) rotate(-90)" text-anchor="end" font-size="6.5" fill="#222" textLength="11.51" lengthAdjust="spacingAndGlyphs">L5IT</text>
<text transform="translate(437.45 110.2) rotate(-90)" text-anchor="end" font-size="6.5" fill="#222" textLength="11.51" lengthAdjust="spacingAndGlyphs">L6IT</text>
<rect x="455.5" y="93.4" width="6.95" height="7.2" fill="#e8e8e6"/>
<rect x="462.4" y="93.4" width="6.95" height="7.2" fill="#c0c1bf"/>
<rect x="469.3" y="93.4" width="6.95" height="7.2" fill="#4d4f4f"/>
<rect x="476.2" y="93.4" width="6.95" height="7.2" fill="#3b3d3d"/>
<rect x="483.1" y="93.4" width="6.95" height="7.2" fill="#2b2d2d"/>
<rect x="455.5" y="101.6" width="34.5" height="6.1" fill="#1547e0"/>
<text transform="translate(460.95 110.2) rotate(-90)" text-anchor="end" font-size="6.5" fill="#222" textLength="17.9" lengthAdjust="spacingAndGlyphs">L2/3 IT</text>
<text transform="translate(467.85 110.2) rotate(-90)" text-anchor="end" font-size="6.5" fill="#222" textLength="26.42" lengthAdjust="spacingAndGlyphs">L4 IT|SSC</text>
<text transform="translate(474.75 110.2) rotate(-90)" text-anchor="end" font-size="6.5" fill="#222" textLength="27.38" lengthAdjust="spacingAndGlyphs">L4/5 IT|PC</text>
<text transform="translate(481.65 110.2) rotate(-90)" text-anchor="end" font-size="6.5" fill="#222" textLength="11.51" lengthAdjust="spacingAndGlyphs">L5IT</text>
<text transform="translate(488.55 110.2) rotate(-90)" text-anchor="end" font-size="6.5" fill="#222" textLength="11.51" lengthAdjust="spacingAndGlyphs">L6IT</text>
<rect x="505" y="93.4" width="6.95" height="7.2" fill="#e8e8e6"/>
<rect x="511.9" y="93.4" width="6.95" height="7.2" fill="#c0c1bf"/>
<rect x="518.8" y="93.4" width="6.95" height="7.2" fill="#4d4f4f"/>
<rect x="525.7" y="93.4" width="6.95" height="7.2" fill="#3b3d3d"/>
<rect x="532.6" y="93.4" width="6.95" height="7.2" fill="#2b2d2d"/>
<rect x="505" y="101.6" width="34.5" height="6.1" fill="#1547e0"/>
<text transform="translate(510.45 110.2) rotate(-90)" text-anchor="end" font-size="6.5" fill="#222" textLength="17.9" lengthAdjust="spacingAndGlyphs">L2/3 IT</text>
<text transform="translate(517.35 110.2) rotate(-90)" text-anchor="end" font-size="6.5" fill="#222" textLength="26.42" lengthAdjust="spacingAndGlyphs">L4 IT|SSC</text>
<text transform="translate(524.25 110.2) rotate(-90)" text-anchor="end" font-size="6.5" fill="#222" textLength="27.38" lengthAdjust="spacingAndGlyphs">L4/5 IT|PC</text>
<text transform="translate(531.15 110.2) rotate(-90)" text-anchor="end" font-size="6.5" fill="#222" textLength="11.51" lengthAdjust="spacingAndGlyphs">L5IT</text>
<text transform="translate(538.05 110.2) rotate(-90)" text-anchor="end" font-size="6.5" fill="#222" textLength="11.51" lengthAdjust="spacingAndGlyphs">L6IT</text>
<rect x="555.5" y="93.4" width="6.95" height="7.2" fill="#e8e8e6"/>
<rect x="562.4" y="93.4" width="6.95" height="7.2" fill="#c0c1bf"/>
<rect x="569.3" y="93.4" width="6.95" height="7.2" fill="#4d4f4f"/>
<rect x="576.2" y="93.4" width="6.95" height="7.2" fill="#3b3d3d"/>
<rect x="583.1" y="93.4" width="6.95" height="7.2" fill="#2b2d2d"/>
<rect x="555.5" y="101.6" width="34.5" height="6.1" fill="#1547e0"/>
<text transform="translate(560.95 110.2) rotate(-90)" text-anchor="end" font-size="6.5" fill="#222" textLength="17.9" lengthAdjust="spacingAndGlyphs">L2/3 IT</text>
<text transform="translate(567.85 110.2) rotate(-90)" text-anchor="end" font-size="6.5" fill="#222" textLength="26.42" lengthAdjust="spacingAndGlyphs">L4 IT|SSC</text>
<text transform="translate(574.75 110.2) rotate(-90)" text-anchor="end" font-size="6.5" fill="#222" textLength="27.38" lengthAdjust="spacingAndGlyphs">L4/5 IT|PC</text>
<text transform="translate(581.65 110.2) rotate(-90)" text-anchor="end" font-size="6.5" fill="#222" textLength="11.51" lengthAdjust="spacingAndGlyphs">L5IT</text>
<text transform="translate(588.55 110.2) rotate(-90)" text-anchor="end" font-size="6.5" fill="#222" textLength="11.51" lengthAdjust="spacingAndGlyphs">L6IT</text>
<rect x="608.5" y="93.4" width="6.95" height="7.2" fill="#e8e8e6"/>
<rect x="615.4" y="93.4" width="6.95" height="7.2" fill="#c0c1bf"/>
<rect x="622.3" y="93.4" width="6.95" height="7.2" fill="#4d4f4f"/>
<rect x="629.2" y="93.4" width="6.95" height="7.2" fill="#3b3d3d"/>
<rect x="636.1" y="93.4" width="6.95" height="7.2" fill="#2b2d2d"/>
<rect x="608.5" y="101.6" width="34.5" height="6.1" fill="#1547e0"/>
<text transform="translate(613.95 110.2) rotate(-90)" text-anchor="end" font-size="6.5" fill="#222" textLength="17.9" lengthAdjust="spacingAndGlyphs">L2/3 IT</text>
<text transform="translate(620.85 110.2) rotate(-90)" text-anchor="end" font-size="6.5" fill="#222" textLength="26.42" lengthAdjust="spacingAndGlyphs">L4 IT|SSC</text>
<text transform="translate(627.75 110.2) rotate(-90)" text-anchor="end" font-size="6.5" fill="#222" textLength="27.38" lengthAdjust="spacingAndGlyphs">L4/5 IT|PC</text>
<text transform="translate(634.65 110.2) rotate(-90)" text-anchor="end" font-size="6.5" fill="#222" textLength="11.51" lengthAdjust="spacingAndGlyphs">L5IT</text>
<text transform="translate(641.55 110.2) rotate(-90)" text-anchor="end" font-size="6.5" fill="#222" textLength="11.51" lengthAdjust="spacingAndGlyphs">L6IT</text>
<text x="438" y="144.3" text-anchor="middle" font-size="6.75" fill="#222" textLength="79.97" lengthAdjust="spacingAndGlyphs">Ligand-expressing (SOURCE)</text>
<text x="224" y="105.2" font-size="6.67" fill="#222" textLength="46.89" lengthAdjust="spacingAndGlyphs">Norm soma depth</text>
<defs><linearGradient id="gdep" x1="0" x2="1" y1="0" y2="0"><stop offset="0" stop-color="#ffffff"/><stop offset="1" stop-color="#000000"/></linearGradient><linearGradient id="gpur" x1="0" x2="1" y1="0" y2="0"><stop offset="0" stop-color="#fcfbfd"/><stop offset="0.25" stop-color="#bcbddc"/><stop offset="0.5" stop-color="#807dba"/><stop offset="0.75" stop-color="#6a51a3"/><stop offset="1" stop-color="#3f007d"/></linearGradient><linearGradient id="gpurv" x1="0" x2="0" y1="1" y2="0"><stop offset="0" stop-color="#fcfbfd"/><stop offset="0.3" stop-color="#bcbddc"/><stop offset="0.6" stop-color="#807dba"/><stop offset="0.8" stop-color="#6a51a3"/><stop offset="1" stop-color="#3f007d"/></linearGradient></defs>
<rect x="232.7" y="107.3" width="41.8" height="5.9" fill="url(#gdep)"/>
<text x="229.5" y="112.3" text-anchor="middle" font-size="6.21" fill="#222" textLength="3.06" lengthAdjust="spacingAndGlyphs">0</text>
<text x="276.3" y="112.3" text-anchor="middle" font-size="6.21" fill="#222" textLength="3.06" lengthAdjust="spacingAndGlyphs">1</text>
<text transform="translate(223.6 125.2) rotate(-90)" text-anchor="middle" font-size="7.01" font-weight="bold" fill="#222" textLength="16.54" lengthAdjust="spacingAndGlyphs">Class</text>
<rect x="227.7" y="118" width="6.1" height="6.1" fill="#e3212b"/>
<rect x="227.7" y="125.2" width="6.1" height="6.1" fill="#1547e0"/>
<text x="236.4" y="123.6" font-size="7.46" fill="#222" textLength="32.65" lengthAdjust="spacingAndGlyphs">GABAergic</text>
<text x="236.4" y="131" font-size="7.46" fill="#222" textLength="41.08" lengthAdjust="spacingAndGlyphs">Glutamatergic</text>
<rect x="659.3" y="19.9" width="4.1" height="67.6" fill="url(#gpurv)"/>
<line x1="663.4" y1="85.4" x2="664.4" y2="85.4" stroke="#444" stroke-width="0.5"/>
<text x="665" y="87.4" font-size="6.21" fill="#222" textLength="3.06" lengthAdjust="spacingAndGlyphs">0</text>
<line x1="663.4" y1="75.2" x2="664.4" y2="75.2" stroke="#444" stroke-width="0.5"/>
<text x="665" y="77.2" font-size="6.21" fill="#222" textLength="9.18" lengthAdjust="spacingAndGlyphs">100</text>
<line x1="663.4" y1="65" x2="664.4" y2="65" stroke="#444" stroke-width="0.5"/>
<text x="665" y="67" font-size="6.21" fill="#222" textLength="9.18" lengthAdjust="spacingAndGlyphs">200</text>
<line x1="663.4" y1="54.8" x2="664.4" y2="54.8" stroke="#444" stroke-width="0.5"/>
<text x="665" y="56.8" font-size="6.21" fill="#222" textLength="9.18" lengthAdjust="spacingAndGlyphs">300</text>
<line x1="663.4" y1="44.6" x2="664.4" y2="44.6" stroke="#444" stroke-width="0.5"/>
<text x="665" y="46.6" font-size="6.21" fill="#222" textLength="9.18" lengthAdjust="spacingAndGlyphs">400</text>
<line x1="663.4" y1="34.4" x2="664.4" y2="34.4" stroke="#444" stroke-width="0.5"/>
<text x="665" y="36.4" font-size="6.21" fill="#222" textLength="9.18" lengthAdjust="spacingAndGlyphs">500</text>
<line x1="663.4" y1="24.2" x2="664.4" y2="24.2" stroke="#444" stroke-width="0.5"/>
<text x="665" y="26.2" font-size="6.21" fill="#222" textLength="9.18" lengthAdjust="spacingAndGlyphs">600</text>
<text transform="translate(653.8 55.8) rotate(-90)" text-anchor="middle" font-size="6.67" fill="#222" textLength="76.74" lengthAdjust="spacingAndGlyphs">Nb of inferred LR interactions</text>
<rect x="80" y="163" width="7" height="85.8" fill="#e3212b"/>
<rect x="89" y="163" width="7" height="5.76" fill="#e3e3e1"/>
<rect x="89" y="168.36" width="7" height="5.76" fill="#d9dad8"/>
<rect x="89" y="173.72" width="7" height="5.76" fill="#d2d3d1"/>
<rect x="89" y="179.09" width="7" height="5.76" fill="#bfc0be"/>
<rect x="89" y="184.45" width="7" height="5.76" fill="#b3b4b2"/>
<rect x="89" y="189.81" width="7" height="5.76" fill="#aaaba9"/>
<rect x="89" y="195.18" width="7" height="5.76" fill="#a2a3a1"/>
<rect x="89" y="200.54" width="7" height="5.76" fill="#9a9b99"/>
<rect x="89" y="205.9" width="7" height="5.76" fill="#848786"/>
<rect x="89" y="211.26" width="7" height="5.76" fill="#777a79"/>
<rect x="89" y="216.62" width="7" height="5.76" fill="#636766"/>
<rect x="89" y="221.99" width="7" height="5.76" fill="#585b5b"/>
<rect x="89" y="227.35" width="7" height="5.76" fill="#444747"/>
<rect x="89" y="232.71" width="7" height="5.76" fill="#3a3c3c"/>
<rect x="89" y="238.08" width="7" height="5.76" fill="#2f3131"/>
<rect x="89" y="243.44" width="7" height="5.36" fill="#262828"/>
<path d="M128.2 167.2h5.65M221.9 167.2h5.65M259.9 167.2h5.65M266.7 167.2h5.65M273.4 167.2h5.65M297.9 167.2h5.65M304.7 167.2h5.65M311.4 167.2h5.65M318.2 167.2h5.65M335.9 167.2h5.65M342.7 167.2h5.65M349.4 167.2h5.65M356.2 167.2h5.65M101.1 172.3h5.65M114.6 172.3h5.65M121.4 172.3h5.65M128.2 172.3h5.65M159.4 172.3h5.65M221.9 172.3h5.65M228.7 172.3h5.65M235.4 172.3h5.65M242.2 172.3h5.65M297.9 172.3h5.65M304.7 172.3h5.65M311.4 172.3h5.65M318.2 172.3h5.65M335.9 172.3h5.65M342.7 172.3h5.65M349.4 172.3h5.65M356.2 172.3h5.65M101.1 177.5h5.65M128.2 177.5h5.65M139.2 177.5h5.65M145.9 177.5h5.65M152.7 177.5h5.65M159.4 177.5h5.65M166.2 177.5h5.65M177.2 177.5h5.65M183.9 177.5h5.65M190.7 177.5h5.65M197.4 177.5h5.65M204.2 177.5h5.65M221.9 177.5h5.65M228.7 177.5h5.65M235.4 177.5h5.65M259.9 177.5h5.65M266.7 177.5h5.65M273.4 177.5h5.65M297.9 177.5h5.65M304.7 177.5h5.65M311.4 177.5h5.65M335.9 177.5h5.65M342.7 177.5h5.65M349.4 177.5h5.65M356.2 177.5h5.65M101.1 182.6h5.65M107.9 182.6h5.65M114.6 182.6h5.65M121.4 182.6h5.65M128.2 182.6h5.65M190.7 182.6h5.65M197.4 182.6h5.65M221.9 182.6h5.65M228.7 182.6h5.65M235.4 182.6h5.65M259.9 182.6h5.65M266.7 182.6h5.65M273.4 182.6h5.65M297.9 182.6h5.65M304.7 182.6h5.65M311.4 182.6h5.65M318.2 182.6h5.65M335.9 182.6h5.65M342.7 182.6h5.65M349.4 182.6h5.65M356.2 182.6h5.65M128.2 187.8h5.65M166.2 187.8h5.65M204.2 187.8h5.65M280.2 187.8h5.65M318.2 187.8h5.65M349.4 187.8h5.65M356.2 187.8h5.65M128.2 193.0h5.65M166.2 193.0h5.65M204.2 193.0h5.65M280.2 193.0h5.65M318.2 193.0h5.65M356.2 193.0h5.65M107.9 198.1h5.65M128.2 198.1h5.65M145.9 198.1h5.65M166.2 198.1h5.65M204.2 198.1h5.65M242.2 198.1h5.65M280.2 198.1h5.65M297.9 198.1h5.65M318.2 198.1h5.65M335.9 198.1h5.65M356.2 198.1h5.65M121.4 203.3h5.65M128.2 203.3h5.65M166.2 203.3h5.65M183.9 203.3h5.65M190.7 203.3h5.65M221.9 203.3h5.65M228.7 203.3h5.65M221.9 208.4h5.65M242.2 208.4h5.65M259.9 208.4h5.65M280.2 208.4h5.65M297.9 208.4h5.65M318.2 208.4h5.65M335.9 208.4h5.65M349.4 208.4h5.65M356.2 208.4h5.65M128.2 213.6h5.65M183.9 213.6h5.65M190.7 213.6h5.65M197.4 213.6h5.65M215.2 213.6h5.65M221.9 213.6h5.65M228.7 213.6h5.65M235.4 213.6h5.65M253.2 213.6h5.65M259.9 213.6h5.65M266.7 213.6h5.65M273.4 213.6h5.65M291.2 213.6h5.65M297.9 213.6h5.65M304.7 213.6h5.65M311.4 213.6h5.65M101.1 218.8h5.65M128.2 218.8h5.65M318.2 218.8h5.65M356.2 218.8h5.65M128.2 223.9h5.65M318.2 223.9h5.65M356.2 223.9h5.65M101.1 229.1h5.65M215.2 229.1h5.65M253.2 229.1h5.65M291.2 229.1h5.65M329.2 229.1h5.65M335.9 229.1h5.65M356.2 229.1h5.65M253.2 234.2h5.65M259.9 234.2h5.65M291.2 234.2h5.65M297.9 234.2h5.65M329.2 234.2h5.65M335.9 234.2h5.65M349.4 234.2h5.65M356.2 234.2h5.65M101.1 239.4h5.65M139.2 239.4h5.65M177.2 239.4h5.65M215.2 239.4h5.65M253.2 239.4h5.65M291.2 239.4h5.65M329.2 239.4h5.65M335.9 239.4h5.65M356.2 239.4h5.65M107.9 244.6h5.65M114.6 244.6h5.65M121.4 244.6h5.65M145.9 244.6h5.65M152.7 244.6h5.65M159.4 244.6h5.65M183.9 244.6h5.65M190.7 244.6h5.65M197.4 244.6h5.65M215.2 244.6h5.65M221.9 244.6h5.65M228.7 244.6h5.65M235.4 244.6h5.65M297.9 244.6h5.65M304.7 244.6h5.65M311.4 244.6h5.65M335.9 244.6h5.65M342.7 244.6h5.65M349.4 244.6h5.65" stroke="#f2f1f8" stroke-width="4.06"/>
<path d="M101.1 167.2h5.65M107.9 167.2h5.65M114.6 167.2h5.65M121.4 167.2h5.65M139.2 167.2h5.65M145.9 167.2h5.65M152.7 167.2h5.65M159.4 167.2h5.65M166.2 167.2h5.65M183.9 167.2h5.65M190.7 167.2h5.65M197.4 167.2h5.65M204.2 167.2h5.65M228.7 167.2h5.65M235.4 167.2h5.65M280.2 167.2h5.65M107.9 172.3h5.65M145.9 172.3h5.65M152.7 172.3h5.65M166.2 172.3h5.65M183.9 172.3h5.65M190.7 172.3h5.65M197.4 172.3h5.65M204.2 172.3h5.65M107.9 177.5h5.65M114.6 177.5h5.65M121.4 177.5h5.65M242.2 177.5h5.65M291.2 177.5h5.65M318.2 177.5h5.65M329.2 177.5h5.65M139.2 182.6h5.65M145.9 182.6h5.65M152.7 182.6h5.65M159.4 182.6h5.65M166.2 182.6h5.65M183.9 182.6h5.65M204.2 182.6h5.65M242.2 182.6h5.65M280.2 182.6h5.65M242.2 187.8h5.65M259.9 187.8h5.65M297.9 187.8h5.65M311.4 187.8h5.65M329.2 187.8h5.65M335.9 187.8h5.65M342.7 187.8h5.65M101.1 193.0h5.65M107.9 193.0h5.65M114.6 193.0h5.65M121.4 193.0h5.65M145.9 193.0h5.65M242.2 193.0h5.65M297.9 193.0h5.65M311.4 193.0h5.65M329.2 193.0h5.65M335.9 193.0h5.65M342.7 193.0h5.65M349.4 193.0h5.65M121.4 198.1h5.65M159.4 198.1h5.65M183.9 198.1h5.65M190.7 198.1h5.65M197.4 198.1h5.65M221.9 198.1h5.65M259.9 198.1h5.65M311.4 198.1h5.65M329.2 198.1h5.65M342.7 198.1h5.65M349.4 198.1h5.65M101.1 203.3h5.65M107.9 203.3h5.65M114.6 203.3h5.65M139.2 203.3h5.65M145.9 203.3h5.65M152.7 203.3h5.65M159.4 203.3h5.65M197.4 203.3h5.65M215.2 203.3h5.65M235.4 203.3h5.65M242.2 203.3h5.65M335.9 203.3h5.65M304.7 208.4h5.65M311.4 208.4h5.65M329.2 208.4h5.65M342.7 208.4h5.65M101.1 213.6h5.65M107.9 213.6h5.65M114.6 213.6h5.65M121.4 213.6h5.65M139.2 213.6h5.65M145.9 213.6h5.65M152.7 213.6h5.65M159.4 213.6h5.65M177.2 213.6h5.65M318.2 213.6h5.65M107.9 218.8h5.65M166.2 218.8h5.65M204.2 218.8h5.65M242.2 218.8h5.65M280.2 218.8h5.65M297.9 218.8h5.65M304.7 218.8h5.65M311.4 218.8h5.65M329.2 218.8h5.65M335.9 218.8h5.65M342.7 218.8h5.65M349.4 218.8h5.65M166.2 223.9h5.65M204.2 223.9h5.65M242.2 223.9h5.65M280.2 223.9h5.65M297.9 223.9h5.65M311.4 223.9h5.65M329.2 223.9h5.65M335.9 223.9h5.65M342.7 223.9h5.65M349.4 223.9h5.65M177.2 229.1h5.65M297.9 229.1h5.65M304.7 229.1h5.65M311.4 229.1h5.65M318.2 229.1h5.65M342.7 229.1h5.65M349.4 229.1h5.65M266.7 234.2h5.65M273.4 234.2h5.65M280.2 234.2h5.65M304.7 234.2h5.65M311.4 234.2h5.65M318.2 234.2h5.65M342.7 234.2h5.65M297.9 239.4h5.65M304.7 239.4h5.65M311.4 239.4h5.65M318.2 239.4h5.65M342.7 239.4h5.65M349.4 239.4h5.65M101.1 244.6h5.65M128.2 244.6h5.65M177.2 244.6h5.65M204.2 244.6h5.65M242.2 244.6h5.65M356.2 244.6h5.65" stroke="#e4e4f2" stroke-width="4.06"/>
<path d="M242.2 167.2h5.65M329.2 167.2h5.65M215.2 172.3h5.65M329.2 172.3h5.65M253.2 177.5h5.65M280.2 177.5h5.65M329.2 182.6h5.65M107.9 187.8h5.65M114.6 187.8h5.65M145.9 187.8h5.65M152.7 187.8h5.65M183.9 187.8h5.65M190.7 187.8h5.65M197.4 187.8h5.65M221.9 187.8h5.65M228.7 187.8h5.65M253.2 187.8h5.65M266.7 187.8h5.65M273.4 187.8h5.65M291.2 187.8h5.65M304.7 187.8h5.65M139.2 193.0h5.65M152.7 193.0h5.65M159.4 193.0h5.65M183.9 193.0h5.65M190.7 193.0h5.65M304.7 193.0h5.65M101.1 198.1h5.65M114.6 198.1h5.65M139.2 198.1h5.65M177.2 198.1h5.65M235.4 198.1h5.65M253.2 198.1h5.65M266.7 198.1h5.65M273.4 198.1h5.65M291.2 198.1h5.65M304.7 198.1h5.65M177.2 203.3h5.65M204.2 203.3h5.65M342.7 203.3h5.65M356.2 203.3h5.65M228.7 208.4h5.65M235.4 208.4h5.65M253.2 208.4h5.65M266.7 208.4h5.65M273.4 208.4h5.65M291.2 208.4h5.65M280.2 213.6h5.65M139.2 218.8h5.65M145.9 218.8h5.65M152.7 218.8h5.65M177.2 218.8h5.65M183.9 218.8h5.65M190.7 218.8h5.65M197.4 218.8h5.65M235.4 218.8h5.65M273.4 218.8h5.65M291.2 218.8h5.65M101.1 223.9h5.65M145.9 223.9h5.65M183.9 223.9h5.65M190.7 223.9h5.65M253.2 223.9h5.65M259.9 223.9h5.65M266.7 223.9h5.65M273.4 223.9h5.65M291.2 223.9h5.65M304.7 223.9h5.65M107.9 229.1h5.65M121.4 229.1h5.65M128.2 229.1h5.65M139.2 229.1h5.65M166.2 229.1h5.65M183.9 229.1h5.65M190.7 229.1h5.65M197.4 229.1h5.65M204.2 229.1h5.65M221.9 229.1h5.65M228.7 229.1h5.65M235.4 229.1h5.65M259.9 229.1h5.65M266.7 229.1h5.65M273.4 229.1h5.65M280.2 229.1h5.65M107.9 239.4h5.65M121.4 239.4h5.65M128.2 239.4h5.65M145.9 239.4h5.65M159.4 239.4h5.65M183.9 239.4h5.65M190.7 239.4h5.65M197.4 239.4h5.65M221.9 239.4h5.65M228.7 239.4h5.65M235.4 239.4h5.65M259.9 239.4h5.65M266.7 239.4h5.65M273.4 239.4h5.65M280.2 239.4h5.65M139.2 244.6h5.65M166.2 244.6h5.65M318.2 244.6h5.65M329.2 244.6h5.65" stroke="#d5d4ea" stroke-width="4.06"/>
<path d="M177.2 167.2h5.65M253.2 167.2h5.65M291.2 167.2h5.65M139.2 172.3h5.65M177.2 172.3h5.65M291.2 172.3h5.65M215.2 177.5h5.65M253.2 182.6h5.65M291.2 182.6h5.65M101.1 187.8h5.65M121.4 187.8h5.65M139.2 187.8h5.65M159.4 187.8h5.65M177.2 187.8h5.65M215.2 187.8h5.65M235.4 187.8h5.65M197.4 193.0h5.65M221.9 193.0h5.65M228.7 193.0h5.65M235.4 193.0h5.65M253.2 193.0h5.65M259.9 193.0h5.65M266.7 193.0h5.65M273.4 193.0h5.65M291.2 193.0h5.65M152.7 198.1h5.65M215.2 198.1h5.65M228.7 198.1h5.65M215.2 208.4h5.65M166.2 213.6h5.65M114.6 218.8h5.65M121.4 218.8h5.65M159.4 218.8h5.65M221.9 218.8h5.65M253.2 218.8h5.65M259.9 218.8h5.65M266.7 218.8h5.65M107.9 223.9h5.65M114.6 223.9h5.65M121.4 223.9h5.65M139.2 223.9h5.65M152.7 223.9h5.65M159.4 223.9h5.65M197.4 223.9h5.65M215.2 223.9h5.65M221.9 223.9h5.65M228.7 223.9h5.65M235.4 223.9h5.65M114.6 229.1h5.65M145.9 229.1h5.65M159.4 229.1h5.65M242.2 229.1h5.65M114.6 239.4h5.65M152.7 239.4h5.65M166.2 239.4h5.65M204.2 239.4h5.65M242.2 239.4h5.65M291.2 244.6h5.65" stroke="#c7c6e2" stroke-width="4.06"/>
<path d="M215.2 167.2h5.65M177.2 182.6h5.65M215.2 182.6h5.65M177.2 193.0h5.65M215.2 193.0h5.65M329.2 203.3h5.65M204.2 213.6h5.65M242.2 213.6h5.65M215.2 218.8h5.65M228.7 218.8h5.65M177.2 223.9h5.65M152.7 229.1h5.65" stroke="#b5b3d9" stroke-width="4.06"/>
<path d="M349.4 203.3h5.65" stroke="#9e9bce" stroke-width="4.06"/>
<text x="77.8" y="167.68" text-anchor="end" font-size="6.04" fill="#222" textLength="51.99" lengthAdjust="spacingAndGlyphs">Lamp5|L1 A7C/CNC</text>
<text x="77.8" y="173.04" text-anchor="end" font-size="6.04" fill="#222" textLength="36.33" lengthAdjust="spacingAndGlyphs">Sncg|CCK BC</text>
<text x="77.8" y="178.41" text-anchor="end" font-size="6.04" fill="#222" textLength="41.12" lengthAdjust="spacingAndGlyphs">Pvalb|L2/3 CHC</text>
<text x="77.8" y="183.77" text-anchor="end" font-size="6.04" fill="#222" textLength="48.16" lengthAdjust="spacingAndGlyphs">Lamp5|L1-L5 NGC</text>
<text x="77.8" y="189.13" text-anchor="end" font-size="6.04" fill="#222" textLength="49.75" lengthAdjust="spacingAndGlyphs">Sst|L2/3-L5 fan-MC</text>
<text x="77.8" y="194.49" text-anchor="end" font-size="6.04" fill="#222" textLength="51.57" lengthAdjust="spacingAndGlyphs">Vip|L2/3-L4 BP/BTC</text>
<text x="77.8" y="199.86" text-anchor="end" font-size="6.04" fill="#222" textLength="53.91" lengthAdjust="spacingAndGlyphs">Pvalb|L2/3-L4 FS BC</text>
<text x="77.8" y="205.22" text-anchor="end" font-size="6.04" fill="#222" textLength="51.57" lengthAdjust="spacingAndGlyphs">Vip|Uncharacterized</text>
<text x="77.8" y="210.58" text-anchor="end" font-size="6.04" fill="#222" textLength="27.69" lengthAdjust="spacingAndGlyphs">Sst|FS-like</text>
<text x="77.8" y="215.94" text-anchor="end" font-size="6.04" fill="#222" textLength="51.57" lengthAdjust="spacingAndGlyphs">Vip|L2/3-L5 BP/BTC</text>
<text x="77.8" y="221.31" text-anchor="end" font-size="6.04" fill="#222" textLength="45.6" lengthAdjust="spacingAndGlyphs">Pvalb|L4/5 FS BC</text>
<text x="77.8" y="226.67" text-anchor="end" font-size="6.04" fill="#222" textLength="27.38" lengthAdjust="spacingAndGlyphs">Sst|L4 IVC</text>
<text x="77.8" y="232.03" text-anchor="end" font-size="6.04" fill="#222" textLength="31.74" lengthAdjust="spacingAndGlyphs">Sst|L5 T-MC</text>
<text x="77.8" y="237.39" text-anchor="end" font-size="6.04" fill="#222" textLength="45.6" lengthAdjust="spacingAndGlyphs">Pvalb|L5/6 FS BC</text>
<text x="77.8" y="242.76" text-anchor="end" font-size="6.04" fill="#222" textLength="38.88" lengthAdjust="spacingAndGlyphs">Sst|L5/L6 NMC</text>
<text x="77.8" y="248.12" text-anchor="end" font-size="6.04" fill="#222" textLength="37.61" lengthAdjust="spacingAndGlyphs">Sst Chodl|LPC</text>
<rect x="80" y="250.4" width="7" height="85.1" fill="#e3212b"/>
<rect x="89" y="250.4" width="7" height="5.72" fill="#e3e3e1"/>
<rect x="89" y="255.72" width="7" height="5.72" fill="#d9dad8"/>
<rect x="89" y="261.04" width="7" height="5.72" fill="#d2d3d1"/>
<rect x="89" y="266.36" width="7" height="5.72" fill="#bfc0be"/>
<rect x="89" y="271.68" width="7" height="5.72" fill="#b3b4b2"/>
<rect x="89" y="276.99" width="7" height="5.72" fill="#aaaba9"/>
<rect x="89" y="282.31" width="7" height="5.72" fill="#a2a3a1"/>
<rect x="89" y="287.63" width="7" height="5.72" fill="#9a9b99"/>
<rect x="89" y="292.95" width="7" height="5.72" fill="#848786"/>
<rect x="89" y="298.27" width="7" height="5.72" fill="#777a79"/>
<rect x="89" y="303.59" width="7" height="5.72" fill="#636766"/>
<rect x="89" y="308.91" width="7" height="5.72" fill="#585b5b"/>
<rect x="89" y="314.23" width="7" height="5.72" fill="#444747"/>
<rect x="89" y="319.54" width="7" height="5.72" fill="#3a3c3c"/>
<rect x="89" y="324.86" width="7" height="5.72" fill="#2f3131"/>
<rect x="89" y="330.18" width="7" height="5.32" fill="#262828"/>
<path d="M128.2 254.3h5.65M101.1 259.5h5.65M114.6 259.5h5.65M121.4 259.5h5.65M128.2 259.5h5.65M159.4 259.5h5.65M221.9 259.5h5.65M242.2 259.5h5.65M101.1 264.6h5.65M107.9 264.6h5.65M114.6 264.6h5.65M121.4 264.6h5.65M128.2 264.6h5.65M139.2 264.6h5.65M145.9 264.6h5.65M152.7 264.6h5.65M159.4 264.6h5.65M166.2 264.6h5.65M183.9 264.6h5.65M190.7 264.6h5.65M197.4 264.6h5.65M204.2 264.6h5.65M221.9 264.6h5.65M101.1 269.8h5.65M107.9 269.8h5.65M114.6 269.8h5.65M121.4 269.8h5.65M128.2 269.8h5.65M183.9 269.8h5.65M190.7 269.8h5.65M197.4 269.8h5.65M221.9 269.8h5.65M228.7 269.8h5.65M235.4 269.8h5.65M128.2 274.9h5.65M166.2 274.9h5.65M128.2 280.1h5.65M166.2 280.1h5.65M107.9 285.3h5.65M128.2 285.3h5.65M145.9 285.3h5.65M166.2 285.3h5.65M121.4 290.4h5.65M128.2 290.4h5.65M166.2 290.4h5.65M183.9 290.4h5.65M190.7 290.4h5.65M221.9 290.4h5.65M228.7 290.4h5.65M221.9 295.6h5.65M242.2 295.6h5.65M259.9 295.6h5.65M297.9 295.6h5.65M335.9 295.6h5.65M128.2 300.7h5.65M183.9 300.7h5.65M190.7 300.7h5.65M197.4 300.7h5.65M221.9 300.7h5.65M228.7 300.7h5.65M235.4 300.7h5.65M253.2 300.7h5.65M259.9 300.7h5.65M266.7 300.7h5.65M273.4 300.7h5.65M291.2 300.7h5.65M297.9 300.7h5.65M304.7 300.7h5.65M311.4 300.7h5.65M101.1 305.9h5.65M128.2 305.9h5.65M128.2 311.1h5.65M101.1 316.2h5.65M253.2 321.4h5.65M259.9 321.4h5.65M291.2 321.4h5.65M297.9 321.4h5.65M101.1 326.5h5.65M139.2 326.5h5.65M177.2 326.5h5.65M107.9 331.7h5.65M114.6 331.7h5.65M121.4 331.7h5.65M145.9 331.7h5.65M152.7 331.7h5.65M159.4 331.7h5.65M183.9 331.7h5.65M190.7 331.7h5.65M197.4 331.7h5.65M221.9 331.7h5.65M228.7 331.7h5.65M235.4 331.7h5.65M297.9 331.7h5.65M304.7 331.7h5.65M311.4 331.7h5.65M335.9 331.7h5.65" stroke="#f2f1f8" stroke-width="4.06"/>
<path d="M101.1 254.3h5.65M107.9 254.3h5.65M114.6 254.3h5.65M121.4 254.3h5.65M139.2 254.3h5.65M145.9 254.3h5.65M152.7 254.3h5.65M159.4 254.3h5.65M166.2 254.3h5.65M183.9 254.3h5.65M190.7 254.3h5.65M197.4 254.3h5.65M204.2 254.3h5.65M221.9 254.3h5.65M228.7 254.3h5.65M235.4 254.3h5.65M259.9 254.3h5.65M266.7 254.3h5.65M273.4 254.3h5.65M280.2 254.3h5.65M297.9 254.3h5.65M304.7 254.3h5.65M311.4 254.3h5.65M318.2 254.3h5.65M335.9 254.3h5.65M342.7 254.3h5.65M349.4 254.3h5.65M356.2 254.3h5.65M107.9 259.5h5.65M145.9 259.5h5.65M152.7 259.5h5.65M166.2 259.5h5.65M183.9 259.5h5.65M204.2 259.5h5.65M297.9 259.5h5.65M304.7 259.5h5.65M311.4 259.5h5.65M318.2 259.5h5.65M335.9 259.5h5.65M342.7 259.5h5.65M349.4 259.5h5.65M356.2 259.5h5.65M228.7 264.6h5.65M235.4 264.6h5.65M242.2 264.6h5.65M259.9 264.6h5.65M266.7 264.6h5.65M273.4 264.6h5.65M297.9 264.6h5.65M304.7 264.6h5.65M311.4 264.6h5.65M335.9 264.6h5.65M342.7 264.6h5.65M349.4 264.6h5.65M139.2 269.8h5.65M145.9 269.8h5.65M152.7 269.8h5.65M159.4 269.8h5.65M166.2 269.8h5.65M204.2 269.8h5.65M242.2 269.8h5.65M259.9 269.8h5.65M266.7 269.8h5.65M273.4 269.8h5.65M280.2 269.8h5.65M297.9 269.8h5.65M304.7 269.8h5.65M311.4 269.8h5.65M318.2 269.8h5.65M335.9 269.8h5.65M342.7 269.8h5.65M349.4 269.8h5.65M356.2 269.8h5.65M204.2 274.9h5.65M242.2 274.9h5.65M280.2 274.9h5.65M318.2 274.9h5.65M356.2 274.9h5.65M101.1 280.1h5.65M107.9 280.1h5.65M114.6 280.1h5.65M121.4 280.1h5.65M145.9 280.1h5.65M204.2 280.1h5.65M242.2 280.1h5.65M280.2 280.1h5.65M318.2 280.1h5.65M356.2 280.1h5.65M204.2 285.3h5.65M242.2 285.3h5.65M259.9 285.3h5.65M280.2 285.3h5.65M297.9 285.3h5.65M318.2 285.3h5.65M335.9 285.3h5.65M356.2 285.3h5.65M101.1 290.4h5.65M107.9 290.4h5.65M114.6 290.4h5.65M139.2 290.4h5.65M145.9 290.4h5.65M152.7 290.4h5.65M335.9 290.4h5.65M280.2 295.6h5.65M318.2 295.6h5.65M349.4 295.6h5.65M356.2 295.6h5.65M101.1 300.7h5.65M107.9 300.7h5.65M114.6 300.7h5.65M121.4 300.7h5.65M139.2 300.7h5.65M145.9 300.7h5.65M152.7 300.7h5.65M159.4 300.7h5.65M177.2 300.7h5.65M215.2 300.7h5.65M107.9 305.9h5.65M166.2 305.9h5.65M204.2 305.9h5.65M242.2 305.9h5.65M280.2 305.9h5.65M318.2 305.9h5.65M356.2 305.9h5.65M166.2 311.1h5.65M204.2 311.1h5.65M242.2 311.1h5.65M280.2 311.1h5.65M318.2 311.1h5.65M356.2 311.1h5.65M215.2 316.2h5.65M253.2 316.2h5.65M291.2 316.2h5.65M329.2 316.2h5.65M335.9 316.2h5.65M356.2 316.2h5.65M329.2 321.4h5.65M335.9 321.4h5.65M356.2 321.4h5.65M215.2 326.5h5.65M253.2 326.5h5.65M291.2 326.5h5.65M329.2 326.5h5.65M356.2 326.5h5.65M215.2 331.7h5.65M342.7 331.7h5.65M349.4 331.7h5.65" stroke="#e4e3f1" stroke-width="4.06"/>
<path d="M242.2 254.3h5.65M228.7 259.5h5.65M235.4 259.5h5.65M177.2 264.6h5.65M329.2 264.6h5.65M356.2 264.6h5.65M297.9 274.9h5.65M311.4 274.9h5.65M329.2 274.9h5.65M335.9 274.9h5.65M342.7 274.9h5.65M349.4 274.9h5.65M335.9 280.1h5.65M349.4 280.1h5.65M221.9 285.3h5.65M329.2 285.3h5.65M342.7 285.3h5.65M349.4 285.3h5.65M159.4 290.4h5.65M197.4 290.4h5.65M215.2 290.4h5.65M235.4 290.4h5.65M242.2 290.4h5.65M342.7 290.4h5.65M342.7 295.6h5.65M297.9 305.9h5.65M304.7 305.9h5.65M311.4 305.9h5.65M329.2 305.9h5.65M335.9 305.9h5.65M342.7 305.9h5.65M349.4 305.9h5.65M329.2 311.1h5.65M335.9 311.1h5.65M342.7 311.1h5.65M349.4 311.1h5.65M177.2 316.2h5.65M297.9 316.2h5.65M342.7 316.2h5.65M349.4 316.2h5.65M342.7 321.4h5.65M349.4 321.4h5.65M297.9 326.5h5.65M335.9 326.5h5.65M342.7 326.5h5.65M349.4 326.5h5.65M101.1 331.7h5.65M128.2 331.7h5.65M242.2 331.7h5.65M356.2 331.7h5.65" stroke="#cfcee7" stroke-width="4.06"/>
<path d="M177.2 254.3h5.65M329.2 254.3h5.65M190.7 259.5h5.65M197.4 259.5h5.65M215.2 259.5h5.65M329.2 259.5h5.65M215.2 264.6h5.65M280.2 264.6h5.65M291.2 264.6h5.65M318.2 264.6h5.65M177.2 269.8h5.65M329.2 269.8h5.65M107.9 274.9h5.65M114.6 274.9h5.65M145.9 274.9h5.65M152.7 274.9h5.65M183.9 274.9h5.65M190.7 274.9h5.65M197.4 274.9h5.65M221.9 274.9h5.65M228.7 274.9h5.65M235.4 274.9h5.65M259.9 274.9h5.65M266.7 274.9h5.65M273.4 274.9h5.65M291.2 274.9h5.65M304.7 274.9h5.65M139.2 280.1h5.65M152.7 280.1h5.65M159.4 280.1h5.65M183.9 280.1h5.65M190.7 280.1h5.65M197.4 280.1h5.65M297.9 280.1h5.65M304.7 280.1h5.65M311.4 280.1h5.65M329.2 280.1h5.65M342.7 280.1h5.65M101.1 285.3h5.65M114.6 285.3h5.65M121.4 285.3h5.65M139.2 285.3h5.65M152.7 285.3h5.65M159.4 285.3h5.65M177.2 285.3h5.65M183.9 285.3h5.65M190.7 285.3h5.65M197.4 285.3h5.65M266.7 285.3h5.65M273.4 285.3h5.65M304.7 285.3h5.65M311.4 285.3h5.65M177.2 290.4h5.65M204.2 290.4h5.65M356.2 290.4h5.65M215.2 295.6h5.65M228.7 295.6h5.65M235.4 295.6h5.65M253.2 295.6h5.65M266.7 295.6h5.65M273.4 295.6h5.65M304.7 295.6h5.65M311.4 295.6h5.65M329.2 295.6h5.65M166.2 300.7h5.65M280.2 300.7h5.65M318.2 300.7h5.65M139.2 305.9h5.65M145.9 305.9h5.65M152.7 305.9h5.65M177.2 305.9h5.65M183.9 305.9h5.65M190.7 305.9h5.65M197.4 305.9h5.65M291.2 305.9h5.65M183.9 311.1h5.65M190.7 311.1h5.65M221.9 311.1h5.65M228.7 311.1h5.65M235.4 311.1h5.65M253.2 311.1h5.65M259.9 311.1h5.65M266.7 311.1h5.65M273.4 311.1h5.65M291.2 311.1h5.65M297.9 311.1h5.65M304.7 311.1h5.65M311.4 311.1h5.65M139.2 316.2h5.65M183.9 316.2h5.65M190.7 316.2h5.65M197.4 316.2h5.65M204.2 316.2h5.65M221.9 316.2h5.65M228.7 316.2h5.65M235.4 316.2h5.65M259.9 316.2h5.65M266.7 316.2h5.65M273.4 316.2h5.65M280.2 316.2h5.65M304.7 316.2h5.65M311.4 316.2h5.65M318.2 316.2h5.65M266.7 321.4h5.65M273.4 321.4h5.65M280.2 321.4h5.65M304.7 321.4h5.65M311.4 321.4h5.65M318.2 321.4h5.65M107.9 326.5h5.65M145.9 326.5h5.65M159.4 326.5h5.65M183.9 326.5h5.65M259.9 326.5h5.65M266.7 326.5h5.65M273.4 326.5h5.65M280.2 326.5h5.65M304.7 326.5h5.65M311.4 326.5h5.65M318.2 326.5h5.65M139.2 331.7h5.65M166.2 331.7h5.65M177.2 331.7h5.65M204.2 331.7h5.65M318.2 331.7h5.65M329.2 331.7h5.65" stroke="#bcbbdd" stroke-width="4.06"/>
<path d="M215.2 254.3h5.65M253.2 254.3h5.65M291.2 254.3h5.65M139.2 259.5h5.65M177.2 259.5h5.65M291.2 259.5h5.65M253.2 264.6h5.65M215.2 269.8h5.65M253.2 269.8h5.65M291.2 269.8h5.65M101.1 274.9h5.65M121.4 274.9h5.65M139.2 274.9h5.65M159.4 274.9h5.65M177.2 274.9h5.65M215.2 274.9h5.65M253.2 274.9h5.65M177.2 280.1h5.65M215.2 280.1h5.65M221.9 280.1h5.65M228.7 280.1h5.65M235.4 280.1h5.65M253.2 280.1h5.65M259.9 280.1h5.65M266.7 280.1h5.65M273.4 280.1h5.65M291.2 280.1h5.65M215.2 285.3h5.65M228.7 285.3h5.65M235.4 285.3h5.65M253.2 285.3h5.65M291.2 285.3h5.65M291.2 295.6h5.65M204.2 300.7h5.65M242.2 300.7h5.65M114.6 305.9h5.65M121.4 305.9h5.65M159.4 305.9h5.65M215.2 305.9h5.65M221.9 305.9h5.65M228.7 305.9h5.65M235.4 305.9h5.65M253.2 305.9h5.65M259.9 305.9h5.65M266.7 305.9h5.65M273.4 305.9h5.65M101.1 311.1h5.65M107.9 311.1h5.65M114.6 311.1h5.65M121.4 311.1h5.65M139.2 311.1h5.65M145.9 311.1h5.65M152.7 311.1h5.65M159.4 311.1h5.65M177.2 311.1h5.65M197.4 311.1h5.65M215.2 311.1h5.65M107.9 316.2h5.65M114.6 316.2h5.65M121.4 316.2h5.65M128.2 316.2h5.65M145.9 316.2h5.65M152.7 316.2h5.65M159.4 316.2h5.65M166.2 316.2h5.65M242.2 316.2h5.65M114.6 326.5h5.65M121.4 326.5h5.65M128.2 326.5h5.65M152.7 326.5h5.65M166.2 326.5h5.65M190.7 326.5h5.65M197.4 326.5h5.65M204.2 326.5h5.65M221.9 326.5h5.65M228.7 326.5h5.65M235.4 326.5h5.65M242.2 326.5h5.65M291.2 331.7h5.65" stroke="#a4a1d0" stroke-width="4.06"/>
<path d="M329.2 290.4h5.65" stroke="#8e8ac4" stroke-width="4.06"/>
<path d="M349.4 290.4h5.65" stroke="#7a70b6" stroke-width="4.06"/>
<text x="77.8" y="255.06" text-anchor="end" font-size="6.04" fill="#222" textLength="51.99" lengthAdjust="spacingAndGlyphs">Lamp5|L1 A7C/CNC</text>
<text x="77.8" y="260.38" text-anchor="end" font-size="6.04" fill="#222" textLength="36.33" lengthAdjust="spacingAndGlyphs">Sncg|CCK BC</text>
<text x="77.8" y="265.7" text-anchor="end" font-size="6.04" fill="#222" textLength="41.12" lengthAdjust="spacingAndGlyphs">Pvalb|L2/3 CHC</text>
<text x="77.8" y="271.02" text-anchor="end" font-size="6.04" fill="#222" textLength="48.16" lengthAdjust="spacingAndGlyphs">Lamp5|L1-L5 NGC</text>
<text x="77.8" y="276.33" text-anchor="end" font-size="6.04" fill="#222" textLength="49.75" lengthAdjust="spacingAndGlyphs">Sst|L2/3-L5 fan-MC</text>
<text x="77.8" y="281.65" text-anchor="end" font-size="6.04" fill="#222" textLength="51.57" lengthAdjust="spacingAndGlyphs">Vip|L2/3-L4 BP/BTC</text>
<text x="77.8" y="286.97" text-anchor="end" font-size="6.04" fill="#222" textLength="53.91" lengthAdjust="spacingAndGlyphs">Pvalb|L2/3-L4 FS BC</text>
<text x="77.8" y="292.29" text-anchor="end" font-size="6.04" fill="#222" textLength="51.57" lengthAdjust="spacingAndGlyphs">Vip|Uncharacterized</text>
<text x="77.8" y="297.61" text-anchor="end" font-size="6.04" fill="#222" textLength="27.69" lengthAdjust="spacingAndGlyphs">Sst|FS-like</text>
<text x="77.8" y="302.93" text-anchor="end" font-size="6.04" fill="#222" textLength="51.57" lengthAdjust="spacingAndGlyphs">Vip|L2/3-L5 BP/BTC</text>
<text x="77.8" y="308.25" text-anchor="end" font-size="6.04" fill="#222" textLength="45.6" lengthAdjust="spacingAndGlyphs">Pvalb|L4/5 FS BC</text>
<text x="77.8" y="313.57" text-anchor="end" font-size="6.04" fill="#222" textLength="27.38" lengthAdjust="spacingAndGlyphs">Sst|L4 IVC</text>
<text x="77.8" y="318.88" text-anchor="end" font-size="6.04" fill="#222" textLength="31.74" lengthAdjust="spacingAndGlyphs">Sst|L5 T-MC</text>
<text x="77.8" y="324.2" text-anchor="end" font-size="6.04" fill="#222" textLength="45.6" lengthAdjust="spacingAndGlyphs">Pvalb|L5/6 FS BC</text>
<text x="77.8" y="329.52" text-anchor="end" font-size="6.04" fill="#222" textLength="38.88" lengthAdjust="spacingAndGlyphs">Sst|L5/L6 NMC</text>
<text x="77.8" y="334.84" text-anchor="end" font-size="6.04" fill="#222" textLength="37.61" lengthAdjust="spacingAndGlyphs">Sst Chodl|LPC</text>
<rect x="80" y="337.6" width="7" height="85.7" fill="#e3212b"/>
<rect x="89" y="337.6" width="7" height="5.76" fill="#e3e3e1"/>
<rect x="89" y="342.96" width="7" height="5.76" fill="#d9dad8"/>
<rect x="89" y="348.31" width="7" height="5.76" fill="#d2d3d1"/>
<rect x="89" y="353.67" width="7" height="5.76" fill="#bfc0be"/>
<rect x="89" y="359.03" width="7" height="5.76" fill="#b3b4b2"/>
<rect x="89" y="364.38" width="7" height="5.76" fill="#aaaba9"/>
<rect x="89" y="369.74" width="7" height="5.76" fill="#a2a3a1"/>
<rect x="89" y="375.09" width="7" height="5.76" fill="#9a9b99"/>
<rect x="89" y="380.45" width="7" height="5.76" fill="#848786"/>
<rect x="89" y="385.81" width="7" height="5.76" fill="#777a79"/>
<rect x="89" y="391.16" width="7" height="5.76" fill="#636766"/>
<rect x="89" y="396.52" width="7" height="5.76" fill="#585b5b"/>
<rect x="89" y="401.88" width="7" height="5.76" fill="#444747"/>
<rect x="89" y="407.23" width="7" height="5.76" fill="#3a3c3c"/>
<rect x="89" y="412.59" width="7" height="5.76" fill="#2f3131"/>
<rect x="89" y="417.94" width="7" height="5.36" fill="#262828"/>
<path d="M107.9 346.2h5.65M114.6 346.2h5.65M121.4 346.2h5.65M128.2 346.2h5.65M159.4 346.2h5.65M204.2 346.2h5.65M221.9 346.2h5.65M242.2 346.2h5.65M101.1 351.3h5.65M107.9 351.3h5.65M114.6 351.3h5.65M121.4 351.3h5.65M128.2 351.3h5.65M139.2 351.3h5.65M145.9 351.3h5.65M152.7 351.3h5.65M159.4 351.3h5.65M166.2 351.3h5.65M183.9 351.3h5.65M190.7 351.3h5.65M197.4 351.3h5.65M204.2 351.3h5.65M221.9 351.3h5.65M101.1 356.5h5.65M107.9 356.5h5.65M114.6 356.5h5.65M121.4 356.5h5.65M128.2 356.5h5.65M190.7 356.5h5.65M197.4 356.5h5.65M221.9 356.5h5.65M228.7 356.5h5.65M235.4 356.5h5.65M128.2 361.6h5.65M166.2 361.6h5.65M128.2 366.8h5.65M166.2 366.8h5.65M107.9 372.0h5.65M128.2 372.0h5.65M145.9 372.0h5.65M166.2 372.0h5.65M121.4 377.1h5.65M128.2 377.1h5.65M166.2 377.1h5.65M183.9 377.1h5.65M190.7 377.1h5.65M221.9 377.1h5.65M228.7 377.1h5.65M221.9 382.3h5.65M242.2 382.3h5.65M259.9 382.3h5.65M297.9 382.3h5.65M128.2 387.4h5.65M183.9 387.4h5.65M190.7 387.4h5.65M197.4 387.4h5.65M215.2 387.4h5.65M221.9 387.4h5.65M228.7 387.4h5.65M235.4 387.4h5.65M253.2 387.4h5.65M259.9 387.4h5.65M266.7 387.4h5.65M273.4 387.4h5.65M291.2 387.4h5.65M297.9 387.4h5.65M304.7 387.4h5.65M311.4 387.4h5.65M101.1 392.6h5.65M128.2 392.6h5.65M128.2 397.8h5.65M253.2 408.1h5.65M259.9 408.1h5.65M101.1 413.2h5.65M139.2 413.2h5.65M177.2 413.2h5.65M107.9 418.4h5.65M114.6 418.4h5.65M121.4 418.4h5.65M145.9 418.4h5.65M152.7 418.4h5.65M159.4 418.4h5.65M183.9 418.4h5.65M190.7 418.4h5.65M197.4 418.4h5.65M221.9 418.4h5.65M228.7 418.4h5.65M235.4 418.4h5.65M297.9 418.4h5.65M304.7 418.4h5.65M311.4 418.4h5.65" stroke="#f2f1f8" stroke-width="4.06"/>
<path d="M101.1 341.0h5.65M107.9 341.0h5.65M114.6 341.0h5.65M121.4 341.0h5.65M128.2 341.0h5.65M139.2 341.0h5.65M145.9 341.0h5.65M152.7 341.0h5.65M159.4 341.0h5.65M166.2 341.0h5.65M183.9 341.0h5.65M190.7 341.0h5.65M197.4 341.0h5.65M204.2 341.0h5.65M221.9 341.0h5.65M242.2 341.0h5.65M259.9 341.0h5.65M266.7 341.0h5.65M273.4 341.0h5.65M280.2 341.0h5.65M297.9 341.0h5.65M304.7 341.0h5.65M311.4 341.0h5.65M318.2 341.0h5.65M335.9 341.0h5.65M342.7 341.0h5.65M349.4 341.0h5.65M356.2 341.0h5.65M101.1 346.2h5.65M145.9 346.2h5.65M152.7 346.2h5.65M166.2 346.2h5.65M183.9 346.2h5.65M215.2 346.2h5.65M228.7 346.2h5.65M235.4 346.2h5.65M297.9 346.2h5.65M304.7 346.2h5.65M311.4 346.2h5.65M318.2 346.2h5.65M335.9 346.2h5.65M342.7 346.2h5.65M349.4 346.2h5.65M356.2 346.2h5.65M177.2 351.3h5.65M228.7 351.3h5.65M235.4 351.3h5.65M242.2 351.3h5.65M259.9 351.3h5.65M266.7 351.3h5.65M273.4 351.3h5.65M297.9 351.3h5.65M304.7 351.3h5.65M311.4 351.3h5.65M335.9 351.3h5.65M342.7 351.3h5.65M349.4 351.3h5.65M139.2 356.5h5.65M145.9 356.5h5.65M152.7 356.5h5.65M159.4 356.5h5.65M166.2 356.5h5.65M183.9 356.5h5.65M204.2 356.5h5.65M242.2 356.5h5.65M259.9 356.5h5.65M266.7 356.5h5.65M273.4 356.5h5.65M280.2 356.5h5.65M297.9 356.5h5.65M304.7 356.5h5.65M311.4 356.5h5.65M318.2 356.5h5.65M335.9 356.5h5.65M342.7 356.5h5.65M349.4 356.5h5.65M356.2 356.5h5.65M204.2 361.6h5.65M242.2 361.6h5.65M280.2 361.6h5.65M318.2 361.6h5.65M356.2 361.6h5.65M101.1 366.8h5.65M107.9 366.8h5.65M114.6 366.8h5.65M121.4 366.8h5.65M145.9 366.8h5.65M204.2 366.8h5.65M242.2 366.8h5.65M280.2 366.8h5.65M318.2 366.8h5.65M356.2 366.8h5.65M183.9 372.0h5.65M204.2 372.0h5.65M221.9 372.0h5.65M242.2 372.0h5.65M259.9 372.0h5.65M280.2 372.0h5.65M297.9 372.0h5.65M318.2 372.0h5.65M335.9 372.0h5.65M356.2 372.0h5.65M101.1 377.1h5.65M107.9 377.1h5.65M114.6 377.1h5.65M139.2 377.1h5.65M145.9 377.1h5.65M152.7 377.1h5.65M215.2 377.1h5.65M235.4 377.1h5.65M242.2 377.1h5.65M335.9 377.1h5.65M280.2 382.3h5.65M318.2 382.3h5.65M335.9 382.3h5.65M349.4 382.3h5.65M356.2 382.3h5.65M101.1 387.4h5.65M107.9 387.4h5.65M114.6 387.4h5.65M121.4 387.4h5.65M139.2 387.4h5.65M145.9 387.4h5.65M152.7 387.4h5.65M159.4 387.4h5.65M177.2 387.4h5.65M107.9 392.6h5.65M166.2 392.6h5.65M204.2 392.6h5.65M242.2 392.6h5.65M280.2 392.6h5.65M318.2 392.6h5.65M356.2 392.6h5.65M166.2 397.8h5.65M204.2 397.8h5.65M242.2 397.8h5.65M280.2 397.8h5.65M318.2 397.8h5.65M356.2 397.8h5.65M101.1 402.9h5.65M177.2 402.9h5.65M215.2 402.9h5.65M253.2 402.9h5.65M291.2 402.9h5.65M329.2 402.9h5.65M335.9 402.9h5.65M356.2 402.9h5.65M291.2 408.1h5.65M297.9 408.1h5.65M329.2 408.1h5.65M335.9 408.1h5.65M356.2 408.1h5.65M215.2 413.2h5.65M253.2 413.2h5.65M291.2 413.2h5.65M329.2 413.2h5.65M356.2 413.2h5.65M101.1 418.4h5.65M215.2 418.4h5.65M242.2 418.4h5.65M335.9 418.4h5.65M342.7 418.4h5.65M349.4 418.4h5.65" stroke="#e4e3f1" stroke-width="4.06"/>
<path d="M228.7 341.0h5.65M235.4 341.0h5.65M329.2 341.0h5.65M139.2 346.2h5.65M190.7 346.2h5.65M197.4 346.2h5.65M329.2 346.2h5.65M291.2 351.3h5.65M318.2 351.3h5.65M329.2 351.3h5.65M356.2 351.3h5.65M329.2 356.5h5.65M101.1 361.6h5.65M107.9 361.6h5.65M114.6 361.6h5.65M139.2 361.6h5.65M145.9 361.6h5.65M152.7 361.6h5.65M183.9 361.6h5.65M190.7 361.6h5.65M259.9 361.6h5.65M297.9 361.6h5.65M311.4 361.6h5.65M329.2 361.6h5.65M335.9 361.6h5.65M342.7 361.6h5.65M349.4 361.6h5.65M139.2 366.8h5.65M152.7 366.8h5.65M159.4 366.8h5.65M183.9 366.8h5.65M190.7 366.8h5.65M329.2 366.8h5.65M335.9 366.8h5.65M342.7 366.8h5.65M349.4 366.8h5.65M101.1 372.0h5.65M114.6 372.0h5.65M121.4 372.0h5.65M139.2 372.0h5.65M152.7 372.0h5.65M159.4 372.0h5.65M177.2 372.0h5.65M190.7 372.0h5.65M197.4 372.0h5.65M304.7 372.0h5.65M311.4 372.0h5.65M329.2 372.0h5.65M342.7 372.0h5.65M349.4 372.0h5.65M159.4 377.1h5.65M177.2 377.1h5.65M197.4 377.1h5.65M204.2 377.1h5.65M342.7 377.1h5.65M304.7 382.3h5.65M311.4 382.3h5.65M329.2 382.3h5.65M342.7 382.3h5.65M280.2 387.4h5.65M318.2 387.4h5.65M114.6 392.6h5.65M139.2 392.6h5.65M145.9 392.6h5.65M152.7 392.6h5.65M183.9 392.6h5.65M190.7 392.6h5.65M197.4 392.6h5.65M297.9 392.6h5.65M304.7 392.6h5.65M311.4 392.6h5.65M329.2 392.6h5.65M335.9 392.6h5.65M342.7 392.6h5.65M349.4 392.6h5.65M101.1 397.8h5.65M107.9 397.8h5.65M114.6 397.8h5.65M139.2 397.8h5.65M145.9 397.8h5.65M152.7 397.8h5.65M183.9 397.8h5.65M190.7 397.8h5.65M197.4 397.8h5.65M297.9 397.8h5.65M304.7 397.8h5.65M311.4 397.8h5.65M329.2 397.8h5.65M335.9 397.8h5.65M342.7 397.8h5.65M349.4 397.8h5.65M139.2 402.9h5.65M183.9 402.9h5.65M190.7 402.9h5.65M197.4 402.9h5.65M204.2 402.9h5.65M297.9 402.9h5.65M304.7 402.9h5.65M311.4 402.9h5.65M318.2 402.9h5.65M342.7 402.9h5.65M349.4 402.9h5.65M266.7 408.1h5.65M273.4 408.1h5.65M280.2 408.1h5.65M304.7 408.1h5.65M311.4 408.1h5.65M318.2 408.1h5.65M342.7 408.1h5.65M349.4 408.1h5.65M107.9 413.2h5.65M114.6 413.2h5.65M145.9 413.2h5.65M159.4 413.2h5.65M183.9 413.2h5.65M297.9 413.2h5.65M304.7 413.2h5.65M311.4 413.2h5.65M318.2 413.2h5.65M335.9 413.2h5.65M342.7 413.2h5.65M349.4 413.2h5.65M128.2 418.4h5.65M139.2 418.4h5.65M166.2 418.4h5.65M177.2 418.4h5.65M204.2 418.4h5.65M318.2 418.4h5.65M329.2 418.4h5.65M356.2 418.4h5.65" stroke="#d3d2e9" stroke-width="4.06"/>
<path d="M177.2 341.0h5.65M215.2 341.0h5.65M253.2 341.0h5.65M291.2 341.0h5.65M177.2 346.2h5.65M291.2 346.2h5.65M215.2 351.3h5.65M253.2 351.3h5.65M280.2 351.3h5.65M177.2 356.5h5.65M215.2 356.5h5.65M253.2 356.5h5.65M291.2 356.5h5.65M121.4 361.6h5.65M159.4 361.6h5.65M177.2 361.6h5.65M197.4 361.6h5.65M215.2 361.6h5.65M221.9 361.6h5.65M228.7 361.6h5.65M235.4 361.6h5.65M253.2 361.6h5.65M266.7 361.6h5.65M273.4 361.6h5.65M291.2 361.6h5.65M304.7 361.6h5.65M197.4 366.8h5.65M221.9 366.8h5.65M228.7 366.8h5.65M259.9 366.8h5.65M291.2 366.8h5.65M297.9 366.8h5.65M304.7 366.8h5.65M311.4 366.8h5.65M215.2 372.0h5.65M228.7 372.0h5.65M235.4 372.0h5.65M253.2 372.0h5.65M266.7 372.0h5.65M273.4 372.0h5.65M291.2 372.0h5.65M356.2 377.1h5.65M215.2 382.3h5.65M228.7 382.3h5.65M235.4 382.3h5.65M253.2 382.3h5.65M266.7 382.3h5.65M273.4 382.3h5.65M291.2 382.3h5.65M166.2 387.4h5.65M242.2 387.4h5.65M121.4 392.6h5.65M159.4 392.6h5.65M177.2 392.6h5.65M215.2 392.6h5.65M221.9 392.6h5.65M228.7 392.6h5.65M235.4 392.6h5.65M253.2 392.6h5.65M259.9 392.6h5.65M273.4 392.6h5.65M291.2 392.6h5.65M121.4 397.8h5.65M159.4 397.8h5.65M177.2 397.8h5.65M215.2 397.8h5.65M221.9 397.8h5.65M228.7 397.8h5.65M235.4 397.8h5.65M253.2 397.8h5.65M259.9 397.8h5.65M266.7 397.8h5.65M273.4 397.8h5.65M291.2 397.8h5.65M107.9 402.9h5.65M114.6 402.9h5.65M121.4 402.9h5.65M128.2 402.9h5.65M145.9 402.9h5.65M152.7 402.9h5.65M159.4 402.9h5.65M166.2 402.9h5.65M221.9 402.9h5.65M228.7 402.9h5.65M235.4 402.9h5.65M242.2 402.9h5.65M259.9 402.9h5.65M266.7 402.9h5.65M273.4 402.9h5.65M280.2 402.9h5.65M121.4 413.2h5.65M128.2 413.2h5.65M152.7 413.2h5.65M166.2 413.2h5.65M190.7 413.2h5.65M197.4 413.2h5.65M221.9 413.2h5.65M228.7 413.2h5.65M235.4 413.2h5.65M242.2 413.2h5.65M259.9 413.2h5.65M266.7 413.2h5.65M273.4 413.2h5.65M280.2 413.2h5.65M291.2 418.4h5.65" stroke="#c2c0e0" stroke-width="4.06"/>
<path d="M177.2 366.8h5.65M215.2 366.8h5.65M235.4 366.8h5.65M253.2 366.8h5.65M266.7 366.8h5.65M273.4 366.8h5.65M329.2 377.1h5.65M204.2 387.4h5.65M266.7 392.6h5.65M204.2 413.2h5.65" stroke="#acaad5" stroke-width="4.06"/>
<path d="M349.4 377.1h5.65" stroke="#9592c9" stroke-width="4.06"/>
<text x="77.8" y="342.28" text-anchor="end" font-size="6.04" fill="#222" textLength="51.99" lengthAdjust="spacingAndGlyphs">Lamp5|L1 A7C/CNC</text>
<text x="77.8" y="347.63" text-anchor="end" font-size="6.04" fill="#222" textLength="36.33" lengthAdjust="spacingAndGlyphs">Sncg|CCK BC</text>
<text x="77.8" y="352.99" text-anchor="end" font-size="6.04" fill="#222" textLength="41.12" lengthAdjust="spacingAndGlyphs">Pvalb|L2/3 CHC</text>
<text x="77.8" y="358.35" text-anchor="end" font-size="6.04" fill="#222" textLength="48.16" lengthAdjust="spacingAndGlyphs">Lamp5|L1-L5 NGC</text>
<text x="77.8" y="363.7" text-anchor="end" font-size="6.04" fill="#222" textLength="49.75" lengthAdjust="spacingAndGlyphs">Sst|L2/3-L5 fan-MC</text>
<text x="77.8" y="369.06" text-anchor="end" font-size="6.04" fill="#222" textLength="51.57" lengthAdjust="spacingAndGlyphs">Vip|L2/3-L4 BP/BTC</text>
<text x="77.8" y="374.42" text-anchor="end" font-size="6.04" fill="#222" textLength="53.91" lengthAdjust="spacingAndGlyphs">Pvalb|L2/3-L4 FS BC</text>
<text x="77.8" y="379.77" text-anchor="end" font-size="6.04" fill="#222" textLength="51.57" lengthAdjust="spacingAndGlyphs">Vip|Uncharacterized</text>
<text x="77.8" y="385.13" text-anchor="end" font-size="6.04" fill="#222" textLength="27.69" lengthAdjust="spacingAndGlyphs">Sst|FS-like</text>
<text x="77.8" y="390.48" text-anchor="end" font-size="6.04" fill="#222" textLength="51.57" lengthAdjust="spacingAndGlyphs">Vip|L2/3-L5 BP/BTC</text>
<text x="77.8" y="395.84" text-anchor="end" font-size="6.04" fill="#222" textLength="45.6" lengthAdjust="spacingAndGlyphs">Pvalb|L4/5 FS BC</text>
<text x="77.8" y="401.2" text-anchor="end" font-size="6.04" fill="#222" textLength="27.38" lengthAdjust="spacingAndGlyphs">Sst|L4 IVC</text>
<text x="77.8" y="406.55" text-anchor="end" font-size="6.04" fill="#222" textLength="31.74" lengthAdjust="spacingAndGlyphs">Sst|L5 T-MC</text>
<text x="77.8" y="411.91" text-anchor="end" font-size="6.04" fill="#222" textLength="45.6" lengthAdjust="spacingAndGlyphs">Pvalb|L5/6 FS BC</text>
<text x="77.8" y="417.27" text-anchor="end" font-size="6.04" fill="#222" textLength="38.88" lengthAdjust="spacingAndGlyphs">Sst|L5/L6 NMC</text>
<text x="77.8" y="422.62" text-anchor="end" font-size="6.04" fill="#222" textLength="37.61" lengthAdjust="spacingAndGlyphs">Sst Chodl|LPC</text>
<text x="114" y="160.4" text-anchor="middle" font-size="6.89" fill="#333" textLength="25.43" lengthAdjust="spacingAndGlyphs">E18.5-P0</text>
<text x="152.45" y="160.4" text-anchor="middle" font-size="6.89" fill="#333" textLength="16.95" lengthAdjust="spacingAndGlyphs">P1-P2</text>
<text x="190.9" y="160.4" text-anchor="middle" font-size="6.89" fill="#333" textLength="16.95" lengthAdjust="spacingAndGlyphs">P4-P5</text>
<text x="229.35" y="160.4" text-anchor="middle" font-size="6.89" fill="#333" textLength="7.46" lengthAdjust="spacingAndGlyphs">P8</text>
<text x="267.8" y="160.4" text-anchor="middle" font-size="6.89" fill="#333" textLength="10.85" lengthAdjust="spacingAndGlyphs">P16</text>
<text x="306.25" y="160.4" text-anchor="middle" font-size="6.89" fill="#333" textLength="10.85" lengthAdjust="spacingAndGlyphs">P30</text>
<text x="344.7" y="160.4" text-anchor="middle" font-size="6.89" fill="#333" textLength="13.9" lengthAdjust="spacingAndGlyphs">Adult</text>
<rect x="99.2" y="423.6" width="6.92" height="6" fill="#e8e8e6"/>
<rect x="105.82" y="423.6" width="6.92" height="6" fill="#c0c1bf"/>
<rect x="112.44" y="423.6" width="6.92" height="6" fill="#4d4f4f"/>
<rect x="119.06" y="423.6" width="6.92" height="6" fill="#3b3d3d"/>
<rect x="125.68" y="423.6" width="6.62" height="6" fill="#2b2d2d"/>
<rect x="99.2" y="429.7" width="33.1" height="5.9" fill="#1547e0"/>
<text transform="translate(104.51 437.6) rotate(-90)" text-anchor="end" font-size="6.5" fill="#222" textLength="17.9" lengthAdjust="spacingAndGlyphs">L2/3 IT</text>
<text transform="translate(111.13 437.6) rotate(-90)" text-anchor="end" font-size="6.5" fill="#222" textLength="26.42" lengthAdjust="spacingAndGlyphs">L4 IT|SSC</text>
<text transform="translate(117.75 437.6) rotate(-90)" text-anchor="end" font-size="6.5" fill="#222" textLength="27.38" lengthAdjust="spacingAndGlyphs">L4/5 IT|PC</text>
<text transform="translate(124.37 437.6) rotate(-90)" text-anchor="end" font-size="6.5" fill="#222" textLength="11.51" lengthAdjust="spacingAndGlyphs">L5IT</text>
<text transform="translate(130.99 437.6) rotate(-90)" text-anchor="end" font-size="6.5" fill="#222" textLength="11.51" lengthAdjust="spacingAndGlyphs">L6IT</text>
<rect x="137.53" y="423.6" width="6.92" height="6" fill="#e8e8e6"/>
<rect x="144.15" y="423.6" width="6.92" height="6" fill="#c0c1bf"/>
<rect x="150.77" y="423.6" width="6.92" height="6" fill="#4d4f4f"/>
<rect x="157.39" y="423.6" width="6.92" height="6" fill="#3b3d3d"/>
<rect x="164.01" y="423.6" width="6.62" height="6" fill="#2b2d2d"/>
<rect x="137.53" y="429.7" width="33.1" height="5.9" fill="#1547e0"/>
<text transform="translate(142.84 437.6) rotate(-90)" text-anchor="end" font-size="6.5" fill="#222" textLength="17.9" lengthAdjust="spacingAndGlyphs">L2/3 IT</text>
<text transform="translate(149.46 437.6) rotate(-90)" text-anchor="end" font-size="6.5" fill="#222" textLength="26.42" lengthAdjust="spacingAndGlyphs">L4 IT|SSC</text>
<text transform="translate(156.08 437.6) rotate(-90)" text-anchor="end" font-size="6.5" fill="#222" textLength="27.38" lengthAdjust="spacingAndGlyphs">L4/5 IT|PC</text>
<text transform="translate(162.7 437.6) rotate(-90)" text-anchor="end" font-size="6.5" fill="#222" textLength="11.51" lengthAdjust="spacingAndGlyphs">L5IT</text>
<text transform="translate(169.32 437.6) rotate(-90)" text-anchor="end" font-size="6.5" fill="#222" textLength="11.51" lengthAdjust="spacingAndGlyphs">L6IT</text>
<rect x="175.86" y="423.6" width="6.92" height="6" fill="#e8e8e6"/>
<rect x="182.48" y="423.6" width="6.92" height="6" fill="#c0c1bf"/>
<rect x="189.1" y="423.6" width="6.92" height="6" fill="#4d4f4f"/>
<rect x="195.72" y="423.6" width="6.92" height="6" fill="#3b3d3d"/>
<rect x="202.34" y="423.6" width="6.62" height="6" fill="#2b2d2d"/>
<rect x="175.86" y="429.7" width="33.1" height="5.9" fill="#1547e0"/>
<text transform="translate(181.17 437.6) rotate(-90)" text-anchor="end" font-size="6.5" fill="#222" textLength="17.9" lengthAdjust="spacingAndGlyphs">L2/3 IT</text>
<text transform="translate(187.79 437.6) rotate(-90)" text-anchor="end" font-size="6.5" fill="#222" textLength="26.42" lengthAdjust="spacingAndGlyphs">L4 IT|SSC</text>
<text transform="translate(194.41 437.6) rotate(-90)" text-anchor="end" font-size="6.5" fill="#222" textLength="27.38" lengthAdjust="spacingAndGlyphs">L4/5 IT|PC</text>
<text transform="translate(201.03 437.6) rotate(-90)" text-anchor="end" font-size="6.5" fill="#222" textLength="11.51" lengthAdjust="spacingAndGlyphs">L5IT</text>
<text transform="translate(207.65 437.6) rotate(-90)" text-anchor="end" font-size="6.5" fill="#222" textLength="11.51" lengthAdjust="spacingAndGlyphs">L6IT</text>
<rect x="214.19" y="423.6" width="6.92" height="6" fill="#e8e8e6"/>
<rect x="220.81" y="423.6" width="6.92" height="6" fill="#c0c1bf"/>
<rect x="227.43" y="423.6" width="6.92" height="6" fill="#4d4f4f"/>
<rect x="234.05" y="423.6" width="6.92" height="6" fill="#3b3d3d"/>
<rect x="240.67" y="423.6" width="6.62" height="6" fill="#2b2d2d"/>
<rect x="214.19" y="429.7" width="33.1" height="5.9" fill="#1547e0"/>
<text transform="translate(219.5 437.6) rotate(-90)" text-anchor="end" font-size="6.5" fill="#222" textLength="17.9" lengthAdjust="spacingAndGlyphs">L2/3 IT</text>
<text transform="translate(226.12 437.6) rotate(-90)" text-anchor="end" font-size="6.5" fill="#222" textLength="26.42" lengthAdjust="spacingAndGlyphs">L4 IT|SSC</text>
<text transform="translate(232.74 437.6) rotate(-90)" text-anchor="end" font-size="6.5" fill="#222" textLength="27.38" lengthAdjust="spacingAndGlyphs">L4/5 IT|PC</text>
<text transform="translate(239.36 437.6) rotate(-90)" text-anchor="end" font-size="6.5" fill="#222" textLength="11.51" lengthAdjust="spacingAndGlyphs">L5IT</text>
<text transform="translate(245.98 437.6) rotate(-90)" text-anchor="end" font-size="6.5" fill="#222" textLength="11.51" lengthAdjust="spacingAndGlyphs">L6IT</text>
<rect x="252.52" y="423.6" width="6.92" height="6" fill="#e8e8e6"/>
<rect x="259.14" y="423.6" width="6.92" height="6" fill="#c0c1bf"/>
<rect x="265.76" y="423.6" width="6.92" height="6" fill="#4d4f4f"/>
<rect x="272.38" y="423.6" width="6.92" height="6" fill="#3b3d3d"/>
<rect x="279" y="423.6" width="6.62" height="6" fill="#2b2d2d"/>
<rect x="252.52" y="429.7" width="33.1" height="5.9" fill="#1547e0"/>
<text transform="translate(257.83 437.6) rotate(-90)" text-anchor="end" font-size="6.5" fill="#222" textLength="17.9" lengthAdjust="spacingAndGlyphs">L2/3 IT</text>
<text transform="translate(264.45 437.6) rotate(-90)" text-anchor="end" font-size="6.5" fill="#222" textLength="26.42" lengthAdjust="spacingAndGlyphs">L4 IT|SSC</text>
<text transform="translate(271.07 437.6) rotate(-90)" text-anchor="end" font-size="6.5" fill="#222" textLength="27.38" lengthAdjust="spacingAndGlyphs">L4/5 IT|PC</text>
<text transform="translate(277.69 437.6) rotate(-90)" text-anchor="end" font-size="6.5" fill="#222" textLength="11.51" lengthAdjust="spacingAndGlyphs">L5IT</text>
<text transform="translate(284.31 437.6) rotate(-90)" text-anchor="end" font-size="6.5" fill="#222" textLength="11.51" lengthAdjust="spacingAndGlyphs">L6IT</text>
<rect x="290.85" y="423.6" width="6.92" height="6" fill="#e8e8e6"/>
<rect x="297.47" y="423.6" width="6.92" height="6" fill="#c0c1bf"/>
<rect x="304.09" y="423.6" width="6.92" height="6" fill="#4d4f4f"/>
<rect x="310.71" y="423.6" width="6.92" height="6" fill="#3b3d3d"/>
<rect x="317.33" y="423.6" width="6.62" height="6" fill="#2b2d2d"/>
<rect x="290.85" y="429.7" width="33.1" height="5.9" fill="#1547e0"/>
<text transform="translate(296.16 437.6) rotate(-90)" text-anchor="end" font-size="6.5" fill="#222" textLength="17.9" lengthAdjust="spacingAndGlyphs">L2/3 IT</text>
<text transform="translate(302.78 437.6) rotate(-90)" text-anchor="end" font-size="6.5" fill="#222" textLength="26.42" lengthAdjust="spacingAndGlyphs">L4 IT|SSC</text>
<text transform="translate(309.4 437.6) rotate(-90)" text-anchor="end" font-size="6.5" fill="#222" textLength="27.38" lengthAdjust="spacingAndGlyphs">L4/5 IT|PC</text>
<text transform="translate(316.02 437.6) rotate(-90)" text-anchor="end" font-size="6.5" fill="#222" textLength="11.51" lengthAdjust="spacingAndGlyphs">L5IT</text>
<text transform="translate(322.64 437.6) rotate(-90)" text-anchor="end" font-size="6.5" fill="#222" textLength="11.51" lengthAdjust="spacingAndGlyphs">L6IT</text>
<rect x="329.18" y="423.6" width="6.92" height="6" fill="#e8e8e6"/>
<rect x="335.8" y="423.6" width="6.92" height="6" fill="#c0c1bf"/>
<rect x="342.42" y="423.6" width="6.92" height="6" fill="#4d4f4f"/>
<rect x="349.04" y="423.6" width="6.92" height="6" fill="#3b3d3d"/>
<rect x="355.66" y="423.6" width="6.62" height="6" fill="#2b2d2d"/>
<rect x="329.18" y="429.7" width="33.1" height="5.9" fill="#1547e0"/>
<text transform="translate(334.49 437.6) rotate(-90)" text-anchor="end" font-size="6.5" fill="#222" textLength="17.9" lengthAdjust="spacingAndGlyphs">L2/3 IT</text>
<text transform="translate(341.11 437.6) rotate(-90)" text-anchor="end" font-size="6.5" fill="#222" textLength="26.42" lengthAdjust="spacingAndGlyphs">L4 IT|SSC</text>
<text transform="translate(347.73 437.6) rotate(-90)" text-anchor="end" font-size="6.5" fill="#222" textLength="27.38" lengthAdjust="spacingAndGlyphs">L4/5 IT|PC</text>
<text transform="translate(354.35 437.6) rotate(-90)" text-anchor="end" font-size="6.5" fill="#222" textLength="11.51" lengthAdjust="spacingAndGlyphs">L5IT</text>
<text transform="translate(360.97 437.6) rotate(-90)" text-anchor="end" font-size="6.5" fill="#222" textLength="11.51" lengthAdjust="spacingAndGlyphs">L6IT</text>
<text transform="translate(367.7 190.3) rotate(90)" text-anchor="middle" font-size="6.67" fill="#222" textLength="24.27" lengthAdjust="spacingAndGlyphs">Migration</text>
<text transform="translate(367.7 292.9) rotate(90)" text-anchor="middle" font-size="6.67" fill="#222" textLength="36.3" lengthAdjust="spacingAndGlyphs">Differentiation</text>
<text transform="translate(367.7 378.4) rotate(90)" text-anchor="middle" font-size="6.67" fill="#222" textLength="26.57" lengthAdjust="spacingAndGlyphs">Cell death</text>
<text transform="translate(19.6 298.8) rotate(-90)" text-anchor="middle" font-size="6.38" fill="#222" textLength="79.96" lengthAdjust="spacingAndGlyphs">Receptor-expressing (TARGET)</text>
<rect x="393.2" y="164.6" width="7" height="5.76" fill="#e3e3e1"/>
<rect x="393.2" y="169.96" width="7" height="5.76" fill="#d9dad8"/>
<rect x="393.2" y="175.32" width="7" height="5.76" fill="#d2d3d1"/>
<rect x="393.2" y="180.69" width="7" height="5.76" fill="#bfc0be"/>
<rect x="393.2" y="186.05" width="7" height="5.76" fill="#b3b4b2"/>
<rect x="393.2" y="191.41" width="7" height="5.76" fill="#aaaba9"/>
<rect x="393.2" y="196.78" width="7" height="5.76" fill="#a2a3a1"/>
<rect x="393.2" y="202.14" width="7" height="5.76" fill="#9a9b99"/>
<rect x="393.2" y="207.5" width="7" height="5.76" fill="#848786"/>
<rect x="393.2" y="212.86" width="7" height="5.76" fill="#777a79"/>
<rect x="393.2" y="218.22" width="7" height="5.76" fill="#636766"/>
<rect x="393.2" y="223.59" width="7" height="5.76" fill="#585b5b"/>
<rect x="393.2" y="228.95" width="7" height="5.76" fill="#444747"/>
<rect x="393.2" y="234.31" width="7" height="5.76" fill="#3a3c3c"/>
<rect x="393.2" y="239.68" width="7" height="5.76" fill="#2f3131"/>
<rect x="393.2" y="245.04" width="7" height="5.36" fill="#262828"/>
<path d="M406.4 167.9h5.65M413.1 167.9h5.65M419.9 167.9h5.65M426.6 167.9h5.65M433.4 167.9h5.65M444.3 167.9h5.65M451.1 167.9h5.65M457.8 167.9h5.65M464.6 167.9h5.65M471.3 167.9h5.65M489.0 167.9h5.65M495.8 167.9h5.65M502.5 167.9h5.65M509.3 167.9h5.65M526.9 167.9h5.65M533.7 167.9h5.65M540.4 167.9h5.65M547.2 167.9h5.65M564.9 167.9h5.65M571.6 167.9h5.65M578.4 167.9h5.65M585.1 167.9h5.65M602.8 167.9h5.65M609.6 167.9h5.65M616.3 167.9h5.65M623.1 167.9h5.65M640.8 167.9h5.65M647.5 167.9h5.65M654.3 167.9h5.65M661.0 167.9h5.65M406.4 173.1h5.65M413.1 173.1h5.65M426.6 173.1h5.65M433.4 173.1h5.65M451.1 173.1h5.65M457.8 173.1h5.65M464.6 173.1h5.65M471.3 173.1h5.65M489.0 173.1h5.65M509.3 173.1h5.65M526.9 173.1h5.65M547.2 173.1h5.65M602.8 173.1h5.65M609.6 173.1h5.65M616.3 173.1h5.65M623.1 173.1h5.65M640.8 173.1h5.65M647.5 173.1h5.65M654.3 173.1h5.65M661.0 173.1h5.65M406.4 178.3h5.65M413.1 178.3h5.65M419.9 178.3h5.65M426.6 178.3h5.65M433.4 178.3h5.65M444.3 178.3h5.65M451.1 178.3h5.65M457.8 178.3h5.65M464.6 178.3h5.65M471.3 178.3h5.65M489.0 178.3h5.65M495.8 178.3h5.65M502.5 178.3h5.65M509.3 178.3h5.65M526.9 178.3h5.65M533.7 178.3h5.65M540.4 178.3h5.65M547.2 178.3h5.65M564.9 178.3h5.65M571.6 178.3h5.65M578.4 178.3h5.65M602.8 178.3h5.65M609.6 178.3h5.65M616.3 178.3h5.65M640.8 178.3h5.65M647.5 178.3h5.65M654.3 178.3h5.65M406.4 183.5h5.65M413.1 183.5h5.65M419.9 183.5h5.65M426.6 183.5h5.65M433.4 183.5h5.65M444.3 183.5h5.65M451.1 183.5h5.65M457.8 183.5h5.65M464.6 183.5h5.65M471.3 183.5h5.65M489.0 183.5h5.65M495.8 183.5h5.65M502.5 183.5h5.65M509.3 183.5h5.65M526.9 183.5h5.65M533.7 183.5h5.65M540.4 183.5h5.65M547.2 183.5h5.65M564.9 183.5h5.65M571.6 183.5h5.65M578.4 183.5h5.65M585.1 183.5h5.65M602.8 183.5h5.65M609.6 183.5h5.65M616.3 183.5h5.65M623.1 183.5h5.65M640.8 183.5h5.65M647.5 183.5h5.65M654.3 183.5h5.65M661.0 183.5h5.65M433.4 188.7h5.65M471.3 188.7h5.65M509.3 188.7h5.65M547.2 188.7h5.65M585.1 188.7h5.65M623.1 188.7h5.65M661.0 188.7h5.65M406.4 193.9h5.65M413.1 193.9h5.65M419.9 193.9h5.65M426.6 193.9h5.65M433.4 193.9h5.65M451.1 193.9h5.65M471.3 193.9h5.65M509.3 193.9h5.65M585.1 193.9h5.65M623.1 193.9h5.65M661.0 193.9h5.65M413.1 199.1h5.65M433.4 199.1h5.65M451.1 199.1h5.65M471.3 199.1h5.65M509.3 199.1h5.65M547.2 199.1h5.65M564.9 199.1h5.65M585.1 199.1h5.65M602.8 199.1h5.65M623.1 199.1h5.65M640.8 199.1h5.65M661.0 199.1h5.65M406.4 204.3h5.65M413.1 204.3h5.65M419.9 204.3h5.65M426.6 204.3h5.65M433.4 204.3h5.65M444.3 204.3h5.65M451.1 204.3h5.65M457.8 204.3h5.65M471.3 204.3h5.65M489.0 204.3h5.65M495.8 204.3h5.65M526.9 204.3h5.65M533.7 204.3h5.65M640.8 204.3h5.65M526.9 209.5h5.65M547.2 209.5h5.65M564.9 209.5h5.65M585.1 209.5h5.65M602.8 209.5h5.65M623.1 209.5h5.65M640.8 209.5h5.65M661.0 209.5h5.65M406.4 214.7h5.65M413.1 214.7h5.65M419.9 214.7h5.65M426.6 214.7h5.65M433.4 214.7h5.65M489.0 214.7h5.65M495.8 214.7h5.65M502.5 214.7h5.65M520.2 214.7h5.65M526.9 214.7h5.65M533.7 214.7h5.65M540.4 214.7h5.65M558.1 214.7h5.65M564.9 214.7h5.65M571.6 214.7h5.65M578.4 214.7h5.65M596.1 214.7h5.65M602.8 214.7h5.65M609.6 214.7h5.65M616.3 214.7h5.65M406.4 219.9h5.65M413.1 219.9h5.65M433.4 219.9h5.65M585.1 219.9h5.65M623.1 219.9h5.65M661.0 219.9h5.65M433.4 225.1h5.65M585.1 225.1h5.65M623.1 225.1h5.65M661.0 225.1h5.65M406.4 230.3h5.65M520.2 230.3h5.65M558.1 230.3h5.65M596.1 230.3h5.65M634.0 230.3h5.65M558.1 235.5h5.65M564.9 235.5h5.65M596.1 235.5h5.65M602.8 235.5h5.65M634.0 235.5h5.65M640.8 235.5h5.65M406.4 240.7h5.65M444.3 240.7h5.65M520.2 240.7h5.65M558.1 240.7h5.65M596.1 240.7h5.65M634.0 240.7h5.65M413.1 245.9h5.65M419.9 245.9h5.65M426.6 245.9h5.65M451.1 245.9h5.65M457.8 245.9h5.65M464.6 245.9h5.65M489.0 245.9h5.65M495.8 245.9h5.65M502.5 245.9h5.65M526.9 245.9h5.65M533.7 245.9h5.65M540.4 245.9h5.65M602.8 245.9h5.65M609.6 245.9h5.65M616.3 245.9h5.65M640.8 245.9h5.65M647.5 245.9h5.65M654.3 245.9h5.65" stroke="#f2f1f8" stroke-width="4.1"/>
<path d="M547.2 193.9h5.65M661.0 204.3h5.65M444.3 214.7h5.65M451.1 214.7h5.65M457.8 214.7h5.65M464.6 214.7h5.65M482.3 214.7h5.65M471.3 219.9h5.65M509.3 219.9h5.65M547.2 219.9h5.65M471.3 225.1h5.65M509.3 225.1h5.65M547.2 225.1h5.65M482.3 240.7h5.65" stroke="#e3e2f1" stroke-width="4.1"/>
<path d="M647.5 204.3h5.65M661.0 230.3h5.65" stroke="#cccbe5" stroke-width="4.1"/>
<path d="M533.7 173.1h5.65M540.4 173.1h5.65M482.3 178.3h5.65M634.0 178.3h5.65M661.0 178.3h5.65M634.0 188.7h5.65M640.8 188.7h5.65M654.3 188.7h5.65M444.3 193.9h5.65M457.8 193.9h5.65M464.6 193.9h5.65M640.8 193.9h5.65M654.3 193.9h5.65M526.9 199.1h5.65M647.5 199.1h5.65M654.3 199.1h5.65M464.6 204.3h5.65M502.5 204.3h5.65M520.2 204.3h5.65M540.4 204.3h5.65M647.5 209.5h5.65M654.3 209.5h5.65M623.1 214.7h5.65M634.0 219.9h5.65M640.8 219.9h5.65M647.5 219.9h5.65M654.3 219.9h5.65M634.0 225.1h5.65M640.8 225.1h5.65M647.5 225.1h5.65M654.3 225.1h5.65M602.8 230.3h5.65M640.8 230.3h5.65M647.5 230.3h5.65M654.3 230.3h5.65M647.5 235.5h5.65M654.3 235.5h5.65M661.0 235.5h5.65M602.8 240.7h5.65M640.8 240.7h5.65M647.5 240.7h5.65M654.3 240.7h5.65M661.0 240.7h5.65M406.4 245.9h5.65M433.4 245.9h5.65M520.2 245.9h5.65M547.2 245.9h5.65M661.0 245.9h5.65" stroke="#b2b0d8" stroke-width="4.1"/>
<path d="M634.0 167.9h5.65M495.8 173.1h5.65M502.5 173.1h5.65M520.2 173.1h5.65M634.0 173.1h5.65M520.2 178.3h5.65M585.1 178.3h5.65M596.1 178.3h5.65M623.1 178.3h5.65M634.0 183.5h5.65M413.1 188.7h5.65M419.9 188.7h5.65M451.1 188.7h5.65M457.8 188.7h5.65M489.0 188.7h5.65M495.8 188.7h5.65M602.8 188.7h5.65M616.3 188.7h5.65M647.5 188.7h5.65M489.0 193.9h5.65M495.8 193.9h5.65M602.8 193.9h5.65M634.0 193.9h5.65M647.5 193.9h5.65M406.4 199.1h5.65M419.9 199.1h5.65M426.6 199.1h5.65M444.3 199.1h5.65M457.8 199.1h5.65M464.6 199.1h5.65M489.0 199.1h5.65M495.8 199.1h5.65M634.0 199.1h5.65M482.3 204.3h5.65M509.3 204.3h5.65M547.2 204.3h5.65M520.2 209.5h5.65M609.6 209.5h5.65M616.3 209.5h5.65M634.0 209.5h5.65M471.3 214.7h5.65M444.3 219.9h5.65M451.1 219.9h5.65M457.8 219.9h5.65M464.6 219.9h5.65M489.0 219.9h5.65M495.8 219.9h5.65M596.1 219.9h5.65M602.8 219.9h5.65M609.6 219.9h5.65M616.3 219.9h5.65M558.1 225.1h5.65M596.1 225.1h5.65M602.8 225.1h5.65M609.6 225.1h5.65M616.3 225.1h5.65M444.3 230.3h5.65M482.3 230.3h5.65M564.9 230.3h5.65M609.6 230.3h5.65M616.3 230.3h5.65M623.1 230.3h5.65M571.6 235.5h5.65M578.4 235.5h5.65M585.1 235.5h5.65M609.6 235.5h5.65M616.3 235.5h5.65M623.1 235.5h5.65M413.1 240.7h5.65M451.1 240.7h5.65M464.6 240.7h5.65M489.0 240.7h5.65M564.9 240.7h5.65M609.6 240.7h5.65M616.3 240.7h5.65M623.1 240.7h5.65M444.3 245.9h5.65M471.3 245.9h5.65M482.3 245.9h5.65M509.3 245.9h5.65M623.1 245.9h5.65M634.0 245.9h5.65" stroke="#9592c9" stroke-width="4.1"/>
<path d="M482.3 167.9h5.65M520.2 167.9h5.65M558.1 167.9h5.65M596.1 167.9h5.65M444.3 173.1h5.65M482.3 173.1h5.65M596.1 173.1h5.65M558.1 178.3h5.65M482.3 183.5h5.65M520.2 183.5h5.65M558.1 183.5h5.65M596.1 183.5h5.65M406.4 188.7h5.65M426.6 188.7h5.65M464.6 188.7h5.65M502.5 188.7h5.65M520.2 188.7h5.65M526.9 188.7h5.65M533.7 188.7h5.65M540.4 188.7h5.65M558.1 188.7h5.65M564.9 188.7h5.65M571.6 188.7h5.65M578.4 188.7h5.65M596.1 188.7h5.65M609.6 188.7h5.65M482.3 193.9h5.65M502.5 193.9h5.65M526.9 193.9h5.65M558.1 193.9h5.65M596.1 193.9h5.65M609.6 193.9h5.65M616.3 193.9h5.65M482.3 199.1h5.65M502.5 199.1h5.65M520.2 199.1h5.65M533.7 199.1h5.65M540.4 199.1h5.65M558.1 199.1h5.65M571.6 199.1h5.65M578.4 199.1h5.65M596.1 199.1h5.65M609.6 199.1h5.65M616.3 199.1h5.65M533.7 209.5h5.65M540.4 209.5h5.65M558.1 209.5h5.65M571.6 209.5h5.65M578.4 209.5h5.65M596.1 209.5h5.65M509.3 214.7h5.65M547.2 214.7h5.65M585.1 214.7h5.65M419.9 219.9h5.65M426.6 219.9h5.65M482.3 219.9h5.65M502.5 219.9h5.65M520.2 219.9h5.65M526.9 219.9h5.65M533.7 219.9h5.65M540.4 219.9h5.65M558.1 219.9h5.65M564.9 219.9h5.65M578.4 219.9h5.65M406.4 225.1h5.65M413.1 225.1h5.65M419.9 225.1h5.65M426.6 225.1h5.65M444.3 225.1h5.65M451.1 225.1h5.65M457.8 225.1h5.65M464.6 225.1h5.65M482.3 225.1h5.65M489.0 225.1h5.65M495.8 225.1h5.65M502.5 225.1h5.65M520.2 225.1h5.65M526.9 225.1h5.65M533.7 225.1h5.65M540.4 225.1h5.65M564.9 225.1h5.65M571.6 225.1h5.65M578.4 225.1h5.65M413.1 230.3h5.65M419.9 230.3h5.65M426.6 230.3h5.65M433.4 230.3h5.65M451.1 230.3h5.65M457.8 230.3h5.65M464.6 230.3h5.65M471.3 230.3h5.65M489.0 230.3h5.65M495.8 230.3h5.65M502.5 230.3h5.65M509.3 230.3h5.65M526.9 230.3h5.65M533.7 230.3h5.65M540.4 230.3h5.65M547.2 230.3h5.65M571.6 230.3h5.65M578.4 230.3h5.65M585.1 230.3h5.65M419.9 240.7h5.65M426.6 240.7h5.65M433.4 240.7h5.65M457.8 240.7h5.65M471.3 240.7h5.65M495.8 240.7h5.65M502.5 240.7h5.65M526.9 240.7h5.65M533.7 240.7h5.65M540.4 240.7h5.65M547.2 240.7h5.65M571.6 240.7h5.65M578.4 240.7h5.65M585.1 240.7h5.65M596.1 245.9h5.65" stroke="#7e76ba" stroke-width="4.1"/>
<path d="M444.3 188.7h5.65M482.3 188.7h5.65M520.2 193.9h5.65M533.7 193.9h5.65M540.4 193.9h5.65M564.9 193.9h5.65M571.6 193.9h5.65M578.4 193.9h5.65M634.0 204.3h5.65M654.3 204.3h5.65M571.6 219.9h5.65M509.3 240.7h5.65" stroke="#6a56a8" stroke-width="4.1"/>
<rect x="393.2" y="251.7" width="7" height="5.71" fill="#e3e3e1"/>
<rect x="393.2" y="257.01" width="7" height="5.71" fill="#d9dad8"/>
<rect x="393.2" y="262.31" width="7" height="5.71" fill="#d2d3d1"/>
<rect x="393.2" y="267.62" width="7" height="5.71" fill="#bfc0be"/>
<rect x="393.2" y="272.93" width="7" height="5.71" fill="#b3b4b2"/>
<rect x="393.2" y="278.23" width="7" height="5.71" fill="#aaaba9"/>
<rect x="393.2" y="283.54" width="7" height="5.71" fill="#a2a3a1"/>
<rect x="393.2" y="288.84" width="7" height="5.71" fill="#9a9b99"/>
<rect x="393.2" y="294.15" width="7" height="5.71" fill="#848786"/>
<rect x="393.2" y="299.46" width="7" height="5.71" fill="#777a79"/>
<rect x="393.2" y="304.76" width="7" height="5.71" fill="#636766"/>
<rect x="393.2" y="310.07" width="7" height="5.71" fill="#585b5b"/>
<rect x="393.2" y="315.38" width="7" height="5.71" fill="#444747"/>
<rect x="393.2" y="320.68" width="7" height="5.71" fill="#3a3c3c"/>
<rect x="393.2" y="325.99" width="7" height="5.71" fill="#2f3131"/>
<rect x="393.2" y="331.29" width="7" height="5.31" fill="#262828"/>
<path d="M426.6 255.6h5.65M444.3 255.6h5.65M451.1 255.6h5.65M457.8 255.6h5.65M464.6 255.6h5.65M471.3 255.6h5.65M489.0 255.6h5.65M495.8 255.6h5.65M502.5 255.6h5.65M509.3 255.6h5.65M406.4 260.8h5.65M413.1 260.8h5.65M419.9 260.8h5.65M426.6 260.8h5.65M433.4 260.8h5.65M451.1 260.8h5.65M457.8 260.8h5.65M464.6 260.8h5.65M471.3 260.8h5.65M489.0 260.8h5.65M509.3 260.8h5.65M526.9 260.8h5.65M547.2 260.8h5.65M406.4 266.0h5.65M413.1 266.0h5.65M419.9 266.0h5.65M426.6 266.0h5.65M433.4 266.0h5.65M444.3 266.0h5.65M451.1 266.0h5.65M457.8 266.0h5.65M464.6 266.0h5.65M471.3 266.0h5.65M489.0 266.0h5.65M495.8 266.0h5.65M502.5 266.0h5.65M509.3 266.0h5.65M406.4 271.2h5.65M413.1 271.2h5.65M419.9 271.2h5.65M433.4 271.2h5.65M444.3 271.2h5.65M451.1 271.2h5.65M457.8 271.2h5.65M464.6 271.2h5.65M471.3 271.2h5.65M489.0 271.2h5.65M495.8 271.2h5.65M502.5 271.2h5.65M509.3 271.2h5.65M526.9 271.2h5.65M533.7 271.2h5.65M564.9 271.2h5.65M571.6 271.2h5.65M433.4 276.4h5.65M471.3 276.4h5.65M509.3 276.4h5.65M406.4 281.6h5.65M413.1 281.6h5.65M419.9 281.6h5.65M426.6 281.6h5.65M433.4 281.6h5.65M451.1 281.6h5.65M471.3 281.6h5.65M509.3 281.6h5.65M413.1 286.8h5.65M433.4 286.8h5.65M451.1 286.8h5.65M471.3 286.8h5.65M509.3 286.8h5.65M406.4 292.0h5.65M413.1 292.0h5.65M419.9 292.0h5.65M426.6 292.0h5.65M433.4 292.0h5.65M444.3 292.0h5.65M451.1 292.0h5.65M457.8 292.0h5.65M471.3 292.0h5.65M489.0 292.0h5.65M495.8 292.0h5.65M526.9 292.0h5.65M533.7 292.0h5.65M526.9 297.2h5.65M547.2 297.2h5.65M585.1 297.2h5.65M433.4 302.4h5.65M558.1 302.4h5.65M564.9 302.4h5.65M571.6 302.4h5.65M596.1 302.4h5.65M602.8 302.4h5.65M609.6 302.4h5.65M406.4 307.6h5.65M433.4 307.6h5.65M558.1 323.2h5.65M564.9 323.2h5.65M413.1 333.6h5.65M419.9 333.6h5.65M426.6 333.6h5.65M451.1 333.6h5.65M457.8 333.6h5.65M464.6 333.6h5.65M489.0 333.6h5.65M495.8 333.6h5.65M502.5 333.6h5.65M526.9 333.6h5.65M533.7 333.6h5.65M540.4 333.6h5.65" stroke="#f2f1f8" stroke-width="4.1"/>
<path d="M406.4 255.6h5.65M413.1 255.6h5.65M419.9 255.6h5.65M433.4 255.6h5.65M526.9 255.6h5.65M533.7 255.6h5.65M547.2 255.6h5.65M564.9 255.6h5.65M571.6 255.6h5.65M585.1 255.6h5.65M602.8 255.6h5.65M609.6 255.6h5.65M616.3 255.6h5.65M623.1 255.6h5.65M640.8 255.6h5.65M647.5 255.6h5.65M654.3 255.6h5.65M661.0 255.6h5.65M602.8 260.8h5.65M609.6 260.8h5.65M616.3 260.8h5.65M623.1 260.8h5.65M640.8 260.8h5.65M647.5 260.8h5.65M654.3 260.8h5.65M661.0 260.8h5.65M526.9 266.0h5.65M533.7 266.0h5.65M547.2 266.0h5.65M564.9 266.0h5.65M571.6 266.0h5.65M602.8 266.0h5.65M609.6 266.0h5.65M616.3 266.0h5.65M640.8 266.0h5.65M647.5 266.0h5.65M654.3 266.0h5.65M547.2 271.2h5.65M585.1 271.2h5.65M602.8 271.2h5.65M609.6 271.2h5.65M616.3 271.2h5.65M623.1 271.2h5.65M640.8 271.2h5.65M647.5 271.2h5.65M654.3 271.2h5.65M661.0 271.2h5.65M547.2 276.4h5.65M585.1 276.4h5.65M623.1 276.4h5.65M661.0 276.4h5.65M547.2 281.6h5.65M585.1 281.6h5.65M623.1 281.6h5.65M661.0 281.6h5.65M547.2 286.8h5.65M564.9 286.8h5.65M585.1 286.8h5.65M602.8 286.8h5.65M623.1 286.8h5.65M640.8 286.8h5.65M661.0 286.8h5.65M647.5 292.0h5.65M564.9 297.2h5.65M602.8 297.2h5.65M623.1 297.2h5.65M640.8 297.2h5.65M661.0 297.2h5.65M406.4 302.4h5.65M413.1 302.4h5.65M419.9 302.4h5.65M426.6 302.4h5.65M444.3 302.4h5.65M451.1 302.4h5.65M457.8 302.4h5.65M464.6 302.4h5.65M482.3 302.4h5.65M489.0 302.4h5.65M495.8 302.4h5.65M502.5 302.4h5.65M520.2 302.4h5.65M526.9 302.4h5.65M533.7 302.4h5.65M616.3 302.4h5.65M413.1 307.6h5.65M471.3 307.6h5.65M509.3 307.6h5.65M547.2 307.6h5.65M585.1 307.6h5.65M623.1 307.6h5.65M661.0 307.6h5.65M433.4 312.8h5.65M471.3 312.8h5.65M509.3 312.8h5.65M547.2 312.8h5.65M585.1 312.8h5.65M623.1 312.8h5.65M661.0 312.8h5.65M406.4 318.0h5.65M520.2 318.0h5.65M558.1 318.0h5.65M596.1 323.2h5.65M602.8 323.2h5.65M634.0 323.2h5.65M640.8 323.2h5.65M406.4 328.4h5.65M444.3 328.4h5.65M482.3 328.4h5.65M520.2 328.4h5.65M558.1 328.4h5.65M602.8 333.6h5.65M609.6 333.6h5.65M616.3 333.6h5.65M640.8 333.6h5.65M647.5 333.6h5.65M654.3 333.6h5.65" stroke="#e3e2f1" stroke-width="4.1"/>
<path d="M596.1 318.0h5.65M596.1 328.4h5.65M634.0 328.4h5.65" stroke="#cccbe5" stroke-width="4.1"/>
<path d="M540.4 255.6h5.65M578.4 255.6h5.65M540.4 266.0h5.65M578.4 266.0h5.65M540.4 271.2h5.65M578.4 271.2h5.65M640.8 292.0h5.65M661.0 292.0h5.65M540.4 302.4h5.65M578.4 302.4h5.65M634.0 318.0h5.65" stroke="#b2b0d8" stroke-width="4.1"/>
<path d="M540.4 292.0h5.65" stroke="#9592c9" stroke-width="4.1"/>
<path d="M533.7 260.8h5.65M540.4 260.8h5.65M482.3 266.0h5.65M661.0 266.0h5.65M640.8 276.4h5.65M654.3 276.4h5.65M444.3 281.6h5.65M457.8 281.6h5.65M464.6 292.0h5.65M520.2 292.0h5.65M547.2 292.0h5.65M647.5 297.2h5.65M654.3 297.2h5.65M623.1 302.4h5.65M634.0 307.6h5.65M640.8 307.6h5.65M647.5 307.6h5.65M654.3 307.6h5.65M634.0 312.8h5.65M640.8 312.8h5.65M647.5 312.8h5.65M654.3 312.8h5.65M640.8 318.0h5.65M661.0 318.0h5.65M661.0 323.2h5.65M640.8 328.4h5.65M661.0 328.4h5.65M406.4 333.6h5.65M433.4 333.6h5.65M520.2 333.6h5.65M547.2 333.6h5.65" stroke="#7e76ba" stroke-width="4.1"/>
<path d="M495.8 260.8h5.65M502.5 260.8h5.65M520.2 260.8h5.65M623.1 266.0h5.65M634.0 266.0h5.65M602.8 276.4h5.65M616.3 276.4h5.65M634.0 276.4h5.65M647.5 276.4h5.65M464.6 281.6h5.65M489.0 281.6h5.65M495.8 281.6h5.65M634.0 281.6h5.65M640.8 281.6h5.65M647.5 281.6h5.65M654.3 281.6h5.65M406.4 286.8h5.65M419.9 286.8h5.65M426.6 286.8h5.65M489.0 286.8h5.65M526.9 286.8h5.65M634.0 286.8h5.65M647.5 286.8h5.65M654.3 286.8h5.65M482.3 292.0h5.65M502.5 292.0h5.65M509.3 292.0h5.65M609.6 297.2h5.65M616.3 297.2h5.65M634.0 297.2h5.65M596.1 307.6h5.65M602.8 307.6h5.65M616.3 307.6h5.65M602.8 312.8h5.65M616.3 312.8h5.65M482.3 318.0h5.65M602.8 318.0h5.65M623.1 318.0h5.65M647.5 318.0h5.65M654.3 318.0h5.65M623.1 323.2h5.65M647.5 323.2h5.65M654.3 323.2h5.65M602.8 328.4h5.65M647.5 328.4h5.65M654.3 328.4h5.65M444.3 333.6h5.65M471.3 333.6h5.65M482.3 333.6h5.65M509.3 333.6h5.65M661.0 333.6h5.65" stroke="#6a56a8" stroke-width="4.1"/>
<path d="M482.3 255.6h5.65M634.0 255.6h5.65M444.3 260.8h5.65M634.0 260.8h5.65M520.2 266.0h5.65M585.1 266.0h5.65M596.1 266.0h5.65M482.3 271.2h5.65M634.0 271.2h5.65M406.4 276.4h5.65M413.1 276.4h5.65M419.9 276.4h5.65M451.1 276.4h5.65M457.8 276.4h5.65M489.0 276.4h5.65M495.8 276.4h5.65M502.5 276.4h5.65M564.9 276.4h5.65M571.6 276.4h5.65M596.1 276.4h5.65M609.6 276.4h5.65M482.3 281.6h5.65M502.5 281.6h5.65M564.9 281.6h5.65M596.1 281.6h5.65M602.8 281.6h5.65M609.6 281.6h5.65M616.3 281.6h5.65M444.3 286.8h5.65M457.8 286.8h5.65M464.6 286.8h5.65M482.3 286.8h5.65M495.8 286.8h5.65M502.5 286.8h5.65M609.6 286.8h5.65M616.3 286.8h5.65M520.2 297.2h5.65M533.7 297.2h5.65M540.4 297.2h5.65M596.1 297.2h5.65M471.3 302.4h5.65M509.3 302.4h5.65M419.9 307.6h5.65M444.3 307.6h5.65M451.1 307.6h5.65M457.8 307.6h5.65M482.3 307.6h5.65M489.0 307.6h5.65M495.8 307.6h5.65M609.6 307.6h5.65M406.4 312.8h5.65M413.1 312.8h5.65M444.3 312.8h5.65M451.1 312.8h5.65M457.8 312.8h5.65M482.3 312.8h5.65M489.0 312.8h5.65M495.8 312.8h5.65M520.2 312.8h5.65M526.9 312.8h5.65M558.1 312.8h5.65M564.9 312.8h5.65M571.6 312.8h5.65M596.1 312.8h5.65M609.6 312.8h5.65M433.4 318.0h5.65M444.3 318.0h5.65M489.0 318.0h5.65M495.8 318.0h5.65M502.5 318.0h5.65M509.3 318.0h5.65M526.9 318.0h5.65M533.7 318.0h5.65M540.4 318.0h5.65M564.9 318.0h5.65M571.6 318.0h5.65M578.4 318.0h5.65M585.1 318.0h5.65M609.6 318.0h5.65M616.3 318.0h5.65M571.6 323.2h5.65M578.4 323.2h5.65M585.1 323.2h5.65M609.6 323.2h5.65M616.3 323.2h5.65M413.1 328.4h5.65M451.1 328.4h5.65M489.0 328.4h5.65M609.6 328.4h5.65M616.3 328.4h5.65M623.1 328.4h5.65M623.1 333.6h5.65M634.0 333.6h5.65" stroke="#5a3699" stroke-width="4.1"/>
<path d="M520.2 255.6h5.65M558.1 255.6h5.65M596.1 255.6h5.65M482.3 260.8h5.65M596.1 260.8h5.65M558.1 266.0h5.65M520.2 271.2h5.65M558.1 271.2h5.65M596.1 271.2h5.65M426.6 276.4h5.65M444.3 276.4h5.65M464.6 276.4h5.65M482.3 276.4h5.65M520.2 276.4h5.65M526.9 276.4h5.65M533.7 276.4h5.65M540.4 276.4h5.65M558.1 276.4h5.65M578.4 276.4h5.65M520.2 281.6h5.65M526.9 281.6h5.65M533.7 281.6h5.65M540.4 281.6h5.65M558.1 281.6h5.65M571.6 281.6h5.65M578.4 281.6h5.65M520.2 286.8h5.65M533.7 286.8h5.65M540.4 286.8h5.65M558.1 286.8h5.65M571.6 286.8h5.65M578.4 286.8h5.65M596.1 286.8h5.65M634.0 292.0h5.65M654.3 292.0h5.65M558.1 297.2h5.65M571.6 297.2h5.65M578.4 297.2h5.65M547.2 302.4h5.65M585.1 302.4h5.65M426.6 307.6h5.65M464.6 307.6h5.65M502.5 307.6h5.65M520.2 307.6h5.65M526.9 307.6h5.65M533.7 307.6h5.65M540.4 307.6h5.65M558.1 307.6h5.65M564.9 307.6h5.65M571.6 307.6h5.65M578.4 307.6h5.65M419.9 312.8h5.65M426.6 312.8h5.65M464.6 312.8h5.65M502.5 312.8h5.65M533.7 312.8h5.65M540.4 312.8h5.65M578.4 312.8h5.65M413.1 318.0h5.65M419.9 318.0h5.65M426.6 318.0h5.65M451.1 318.0h5.65M457.8 318.0h5.65M464.6 318.0h5.65M471.3 318.0h5.65M547.2 318.0h5.65M419.9 328.4h5.65M426.6 328.4h5.65M433.4 328.4h5.65M457.8 328.4h5.65M464.6 328.4h5.65M471.3 328.4h5.65M495.8 328.4h5.65M502.5 328.4h5.65M509.3 328.4h5.65M526.9 328.4h5.65M533.7 328.4h5.65M540.4 328.4h5.65M547.2 328.4h5.65M564.9 328.4h5.65M571.6 328.4h5.65M578.4 328.4h5.65M585.1 328.4h5.65M596.1 333.6h5.65" stroke="#4b168c" stroke-width="4.1"/>
<rect x="393.2" y="338.8" width="7" height="5.72" fill="#e3e3e1"/>
<rect x="393.2" y="344.12" width="7" height="5.72" fill="#d9dad8"/>
<rect x="393.2" y="349.45" width="7" height="5.72" fill="#d2d3d1"/>
<rect x="393.2" y="354.78" width="7" height="5.72" fill="#bfc0be"/>
<rect x="393.2" y="360.1" width="7" height="5.72" fill="#b3b4b2"/>
<rect x="393.2" y="365.43" width="7" height="5.72" fill="#aaaba9"/>
<rect x="393.2" y="370.75" width="7" height="5.72" fill="#a2a3a1"/>
<rect x="393.2" y="376.07" width="7" height="5.72" fill="#9a9b99"/>
<rect x="393.2" y="381.4" width="7" height="5.72" fill="#848786"/>
<rect x="393.2" y="386.73" width="7" height="5.72" fill="#777a79"/>
<rect x="393.2" y="392.05" width="7" height="5.72" fill="#636766"/>
<rect x="393.2" y="397.38" width="7" height="5.72" fill="#585b5b"/>
<rect x="393.2" y="402.7" width="7" height="5.72" fill="#444747"/>
<rect x="393.2" y="408.02" width="7" height="5.72" fill="#3a3c3c"/>
<rect x="393.2" y="413.35" width="7" height="5.72" fill="#2f3131"/>
<rect x="393.2" y="418.68" width="7" height="5.32" fill="#262828"/>
<path d="M413.1 348.8h5.65M547.2 348.8h5.65M433.4 354.0h5.65M489.0 354.0h5.65M495.8 354.0h5.65M502.5 354.0h5.65M509.3 354.0h5.65M457.8 359.2h5.65M433.4 369.6h5.65M471.3 369.6h5.65M433.4 374.8h5.65M471.3 374.8h5.65M433.4 380.0h5.65M471.3 380.0h5.65M406.4 395.6h5.65M406.4 406.0h5.65M558.1 411.2h5.65M564.9 411.2h5.65M406.4 421.6h5.65M413.1 421.6h5.65M419.9 421.6h5.65M426.6 421.6h5.65M451.1 421.6h5.65M457.8 421.6h5.65M464.6 421.6h5.65M489.0 421.6h5.65M495.8 421.6h5.65M502.5 421.6h5.65M526.9 421.6h5.65M533.7 421.6h5.65M602.8 421.6h5.65" stroke="#f2f1f8" stroke-width="4.1"/>
<path d="M406.4 343.6h5.65M413.1 343.6h5.65M426.6 343.6h5.65M433.4 343.6h5.65M444.3 343.6h5.65M451.1 343.6h5.65M457.8 343.6h5.65M464.6 343.6h5.65M471.3 343.6h5.65M489.0 343.6h5.65M495.8 343.6h5.65M502.5 343.6h5.65M509.3 343.6h5.65M526.9 343.6h5.65M533.7 343.6h5.65M540.4 343.6h5.65M547.2 343.6h5.65M564.9 343.6h5.65M578.4 343.6h5.65M585.1 343.6h5.65M602.8 343.6h5.65M609.6 343.6h5.65M616.3 343.6h5.65M623.1 343.6h5.65M640.8 343.6h5.65M647.5 343.6h5.65M654.3 343.6h5.65M661.0 343.6h5.65M406.4 348.8h5.65M426.6 348.8h5.65M433.4 348.8h5.65M451.1 348.8h5.65M457.8 348.8h5.65M464.6 348.8h5.65M471.3 348.8h5.65M489.0 348.8h5.65M509.3 348.8h5.65M526.9 348.8h5.65M602.8 348.8h5.65M609.6 348.8h5.65M616.3 348.8h5.65M623.1 348.8h5.65M640.8 348.8h5.65M647.5 348.8h5.65M654.3 348.8h5.65M661.0 348.8h5.65M406.4 354.0h5.65M413.1 354.0h5.65M426.6 354.0h5.65M444.3 354.0h5.65M451.1 354.0h5.65M457.8 354.0h5.65M464.6 354.0h5.65M471.3 354.0h5.65M482.3 354.0h5.65M526.9 354.0h5.65M533.7 354.0h5.65M540.4 354.0h5.65M547.2 354.0h5.65M564.9 354.0h5.65M571.6 354.0h5.65M578.4 354.0h5.65M602.8 354.0h5.65M609.6 354.0h5.65M616.3 354.0h5.65M640.8 354.0h5.65M647.5 354.0h5.65M654.3 354.0h5.65M406.4 359.2h5.65M413.1 359.2h5.65M426.6 359.2h5.65M433.4 359.2h5.65M444.3 359.2h5.65M451.1 359.2h5.65M464.6 359.2h5.65M471.3 359.2h5.65M489.0 359.2h5.65M495.8 359.2h5.65M502.5 359.2h5.65M509.3 359.2h5.65M526.9 359.2h5.65M533.7 359.2h5.65M540.4 359.2h5.65M547.2 359.2h5.65M564.9 359.2h5.65M578.4 359.2h5.65M585.1 359.2h5.65M602.8 359.2h5.65M609.6 359.2h5.65M616.3 359.2h5.65M623.1 359.2h5.65M640.8 359.2h5.65M647.5 359.2h5.65M654.3 359.2h5.65M661.0 359.2h5.65M433.4 364.4h5.65M471.3 364.4h5.65M509.3 364.4h5.65M547.2 364.4h5.65M585.1 364.4h5.65M623.1 364.4h5.65M661.0 364.4h5.65M406.4 369.6h5.65M413.1 369.6h5.65M419.9 369.6h5.65M426.6 369.6h5.65M451.1 369.6h5.65M509.3 369.6h5.65M547.2 369.6h5.65M585.1 369.6h5.65M623.1 369.6h5.65M661.0 369.6h5.65M406.4 374.8h5.65M413.1 374.8h5.65M451.1 374.8h5.65M509.3 374.8h5.65M547.2 374.8h5.65M564.9 374.8h5.65M585.1 374.8h5.65M602.8 374.8h5.65M623.1 374.8h5.65M640.8 374.8h5.65M661.0 374.8h5.65M406.4 380.0h5.65M413.1 380.0h5.65M419.9 380.0h5.65M426.6 380.0h5.65M444.3 380.0h5.65M451.1 380.0h5.65M457.8 380.0h5.65M489.0 380.0h5.65M495.8 380.0h5.65M526.9 380.0h5.65M533.7 380.0h5.65M640.8 380.0h5.65M647.5 380.0h5.65M661.0 380.0h5.65M526.9 385.2h5.65M547.2 385.2h5.65M564.9 385.2h5.65M585.1 385.2h5.65M602.8 385.2h5.65M623.1 385.2h5.65M640.8 385.2h5.65M661.0 385.2h5.65M406.4 390.4h5.65M413.1 390.4h5.65M419.9 390.4h5.65M426.6 390.4h5.65M433.4 390.4h5.65M444.3 390.4h5.65M451.1 390.4h5.65M457.8 390.4h5.65M464.6 390.4h5.65M482.3 390.4h5.65M489.0 390.4h5.65M495.8 390.4h5.65M502.5 390.4h5.65M520.2 390.4h5.65M526.9 390.4h5.65M533.7 390.4h5.65M540.4 390.4h5.65M558.1 390.4h5.65M564.9 390.4h5.65M571.6 390.4h5.65M578.4 390.4h5.65M596.1 390.4h5.65M602.8 390.4h5.65M609.6 390.4h5.65M616.3 390.4h5.65M413.1 395.6h5.65M433.4 395.6h5.65M471.3 395.6h5.65M509.3 395.6h5.65M547.2 395.6h5.65M585.1 395.6h5.65M623.1 395.6h5.65M661.0 395.6h5.65M433.4 400.8h5.65M471.3 400.8h5.65M509.3 400.8h5.65M547.2 400.8h5.65M585.1 400.8h5.65M623.1 400.8h5.65M661.0 400.8h5.65M520.2 406.0h5.65M558.1 406.0h5.65M596.1 406.0h5.65M634.0 406.0h5.65M596.1 411.2h5.65M602.8 411.2h5.65M634.0 411.2h5.65M640.8 411.2h5.65M406.4 416.4h5.65M444.3 416.4h5.65M482.3 416.4h5.65M520.2 416.4h5.65M558.1 416.4h5.65M596.1 416.4h5.65M634.0 416.4h5.65M444.3 421.6h5.65M540.4 421.6h5.65M609.6 421.6h5.65M616.3 421.6h5.65M640.8 421.6h5.65M647.5 421.6h5.65M654.3 421.6h5.65" stroke="#e3e2f1" stroke-width="4.1"/>
<path d="M533.7 348.8h5.65M489.0 369.6h5.65M489.0 374.8h5.65M526.9 374.8h5.65M540.4 380.0h5.65M547.2 380.0h5.65M444.3 395.6h5.65M451.1 395.6h5.65M444.3 406.0h5.65M482.3 406.0h5.65M482.3 421.6h5.65M520.2 421.6h5.65M547.2 421.6h5.65" stroke="#cccbe5" stroke-width="4.1"/>
<path d="M444.3 348.8h5.65M495.8 348.8h5.65M502.5 348.8h5.65M540.4 348.8h5.65M661.0 354.0h5.65M482.3 359.2h5.65M406.4 364.4h5.65M413.1 364.4h5.65M419.9 364.4h5.65M451.1 364.4h5.65M640.8 364.4h5.65M654.3 364.4h5.65M444.3 369.6h5.65M457.8 369.6h5.65M495.8 369.6h5.65M419.9 374.8h5.65M426.6 374.8h5.65M444.3 374.8h5.65M457.8 374.8h5.65M495.8 374.8h5.65M647.5 374.8h5.65M654.3 374.8h5.65M464.6 380.0h5.65M482.3 380.0h5.65M502.5 380.0h5.65M509.3 380.0h5.65M520.2 380.0h5.65M654.3 380.0h5.65M647.5 385.2h5.65M654.3 385.2h5.65M471.3 390.4h5.65M623.1 390.4h5.65M419.9 395.6h5.65M457.8 395.6h5.65M482.3 395.6h5.65M489.0 395.6h5.65M495.8 395.6h5.65M640.8 395.6h5.65M647.5 395.6h5.65M654.3 395.6h5.65M406.4 400.8h5.65M640.8 400.8h5.65M647.5 400.8h5.65M654.3 400.8h5.65M640.8 406.0h5.65M661.0 406.0h5.65M647.5 411.2h5.65M654.3 411.2h5.65M661.0 411.2h5.65M451.1 416.4h5.65M489.0 416.4h5.65M602.8 416.4h5.65M640.8 416.4h5.65M661.0 416.4h5.65M433.4 421.6h5.65M471.3 421.6h5.65M509.3 421.6h5.65M623.1 421.6h5.65M661.0 421.6h5.65" stroke="#b2b0d8" stroke-width="4.1"/>
<path d="M482.3 343.6h5.65M520.2 343.6h5.65M634.0 343.6h5.65M520.2 348.8h5.65M596.1 348.8h5.65M634.0 348.8h5.65M520.2 354.0h5.65M585.1 354.0h5.65M623.1 354.0h5.65M634.0 354.0h5.65M596.1 359.2h5.65M634.0 359.2h5.65M426.6 364.4h5.65M457.8 364.4h5.65M489.0 364.4h5.65M495.8 364.4h5.65M564.9 364.4h5.65M602.8 364.4h5.65M616.3 364.4h5.65M634.0 364.4h5.65M647.5 364.4h5.65M464.6 369.6h5.65M482.3 369.6h5.65M602.8 369.6h5.65M634.0 369.6h5.65M640.8 369.6h5.65M647.5 369.6h5.65M654.3 369.6h5.65M464.6 374.8h5.65M482.3 374.8h5.65M502.5 374.8h5.65M634.0 374.8h5.65M609.6 385.2h5.65M616.3 385.2h5.65M634.0 385.2h5.65M509.3 390.4h5.65M547.2 390.4h5.65M585.1 390.4h5.65M426.6 395.6h5.65M464.6 395.6h5.65M502.5 395.6h5.65M602.8 395.6h5.65M609.6 395.6h5.65M616.3 395.6h5.65M634.0 395.6h5.65M413.1 400.8h5.65M444.3 400.8h5.65M451.1 400.8h5.65M489.0 400.8h5.65M495.8 400.8h5.65M564.9 400.8h5.65M602.8 400.8h5.65M609.6 400.8h5.65M616.3 400.8h5.65M634.0 400.8h5.65M413.1 406.0h5.65M419.9 406.0h5.65M426.6 406.0h5.65M433.4 406.0h5.65M451.1 406.0h5.65M489.0 406.0h5.65M495.8 406.0h5.65M564.9 406.0h5.65M602.8 406.0h5.65M609.6 406.0h5.65M616.3 406.0h5.65M623.1 406.0h5.65M647.5 406.0h5.65M654.3 406.0h5.65M571.6 411.2h5.65M578.4 411.2h5.65M585.1 411.2h5.65M609.6 411.2h5.65M616.3 411.2h5.65M623.1 411.2h5.65M413.1 416.4h5.65M433.4 416.4h5.65M495.8 416.4h5.65M526.9 416.4h5.65M564.9 416.4h5.65M609.6 416.4h5.65M616.3 416.4h5.65M623.1 416.4h5.65M647.5 416.4h5.65M654.3 416.4h5.65M596.1 421.6h5.65M634.0 421.6h5.65" stroke="#9592c9" stroke-width="4.1"/>
<path d="M558.1 343.6h5.65M596.1 343.6h5.65M482.3 348.8h5.65M558.1 354.0h5.65M596.1 354.0h5.65M520.2 359.2h5.65M558.1 359.2h5.65M444.3 364.4h5.65M526.9 364.4h5.65M533.7 364.4h5.65M558.1 364.4h5.65M571.6 364.4h5.65M578.4 364.4h5.65M596.1 364.4h5.65M609.6 364.4h5.65M502.5 369.6h5.65M520.2 369.6h5.65M526.9 369.6h5.65M533.7 369.6h5.65M558.1 369.6h5.65M564.9 369.6h5.65M571.6 369.6h5.65M578.4 369.6h5.65M596.1 369.6h5.65M609.6 369.6h5.65M616.3 369.6h5.65M520.2 374.8h5.65M533.7 374.8h5.65M540.4 374.8h5.65M558.1 374.8h5.65M571.6 374.8h5.65M578.4 374.8h5.65M596.1 374.8h5.65M609.6 374.8h5.65M616.3 374.8h5.65M634.0 380.0h5.65M520.2 385.2h5.65M533.7 385.2h5.65M540.4 385.2h5.65M571.6 385.2h5.65M578.4 385.2h5.65M596.1 385.2h5.65M564.9 395.6h5.65M571.6 395.6h5.65M578.4 395.6h5.65M596.1 395.6h5.65M419.9 400.8h5.65M426.6 400.8h5.65M457.8 400.8h5.65M464.6 400.8h5.65M482.3 400.8h5.65M520.2 400.8h5.65M526.9 400.8h5.65M533.7 400.8h5.65M540.4 400.8h5.65M558.1 400.8h5.65M571.6 400.8h5.65M578.4 400.8h5.65M596.1 400.8h5.65M457.8 406.0h5.65M464.6 406.0h5.65M471.3 406.0h5.65M502.5 406.0h5.65M509.3 406.0h5.65M526.9 406.0h5.65M533.7 406.0h5.65M571.6 406.0h5.65M578.4 406.0h5.65M585.1 406.0h5.65M419.9 416.4h5.65M426.6 416.4h5.65M457.8 416.4h5.65M471.3 416.4h5.65M533.7 416.4h5.65M547.2 416.4h5.65M571.6 416.4h5.65M578.4 416.4h5.65M585.1 416.4h5.65" stroke="#7e76ba" stroke-width="4.1"/>
<path d="M464.6 364.4h5.65M482.3 364.4h5.65M502.5 364.4h5.65M520.2 364.4h5.65M540.4 364.4h5.65M540.4 369.6h5.65M558.1 385.2h5.65M520.2 395.6h5.65M526.9 395.6h5.65M533.7 395.6h5.65M540.4 395.6h5.65M558.1 395.6h5.65M502.5 400.8h5.65M540.4 406.0h5.65M547.2 406.0h5.65M464.6 416.4h5.65M502.5 416.4h5.65M509.3 416.4h5.65M540.4 416.4h5.65" stroke="#6a56a8" stroke-width="4.1"/>
<text x="419.5" y="160.4" text-anchor="middle" font-size="6.89" fill="#333" textLength="25.43" lengthAdjust="spacingAndGlyphs">E18.5-P0</text>
<text x="457.95" y="160.4" text-anchor="middle" font-size="6.89" fill="#333" textLength="16.95" lengthAdjust="spacingAndGlyphs">P1-P2</text>
<text x="496.4" y="160.4" text-anchor="middle" font-size="6.89" fill="#333" textLength="16.95" lengthAdjust="spacingAndGlyphs">P4-P5</text>
<text x="534.85" y="160.4" text-anchor="middle" font-size="6.89" fill="#333" textLength="7.46" lengthAdjust="spacingAndGlyphs">P8</text>
<text x="573.3" y="160.4" text-anchor="middle" font-size="6.89" fill="#333" textLength="10.85" lengthAdjust="spacingAndGlyphs">P16</text>
<text x="611.75" y="160.4" text-anchor="middle" font-size="6.89" fill="#333" textLength="10.85" lengthAdjust="spacingAndGlyphs">P30</text>
<text x="650.2" y="160.4" text-anchor="middle" font-size="6.89" fill="#333" textLength="13.9" lengthAdjust="spacingAndGlyphs">Adult</text>
<rect x="405.6" y="424" width="6.92" height="6" fill="#e8e8e6"/>
<rect x="412.22" y="424" width="6.92" height="6" fill="#c0c1bf"/>
<rect x="418.84" y="424" width="6.92" height="6" fill="#4d4f4f"/>
<rect x="425.46" y="424" width="6.92" height="6" fill="#3b3d3d"/>
<rect x="432.08" y="424" width="6.62" height="6" fill="#2b2d2d"/>
<rect x="405.6" y="430.1" width="33.1" height="5.9" fill="#1547e0"/>
<text transform="translate(410.91 438) rotate(-90)" text-anchor="end" font-size="6.5" fill="#222" textLength="17.9" lengthAdjust="spacingAndGlyphs">L2/3 IT</text>
<text transform="translate(417.53 438) rotate(-90)" text-anchor="end" font-size="6.5" fill="#222" textLength="26.42" lengthAdjust="spacingAndGlyphs">L4 IT|SSC</text>
<text transform="translate(424.15 438) rotate(-90)" text-anchor="end" font-size="6.5" fill="#222" textLength="27.38" lengthAdjust="spacingAndGlyphs">L4/5 IT|PC</text>
<text transform="translate(430.77 438) rotate(-90)" text-anchor="end" font-size="6.5" fill="#222" textLength="11.51" lengthAdjust="spacingAndGlyphs">L5IT</text>
<text transform="translate(437.39 438) rotate(-90)" text-anchor="end" font-size="6.5" fill="#222" textLength="11.51" lengthAdjust="spacingAndGlyphs">L6IT</text>
<rect x="443.7" y="424" width="6.92" height="6" fill="#e8e8e6"/>
<rect x="450.32" y="424" width="6.92" height="6" fill="#c0c1bf"/>
<rect x="456.94" y="424" width="6.92" height="6" fill="#4d4f4f"/>
<rect x="463.56" y="424" width="6.92" height="6" fill="#3b3d3d"/>
<rect x="470.18" y="424" width="6.62" height="6" fill="#2b2d2d"/>
<rect x="443.7" y="430.1" width="33.1" height="5.9" fill="#1547e0"/>
<text transform="translate(449.01 438) rotate(-90)" text-anchor="end" font-size="6.5" fill="#222" textLength="17.9" lengthAdjust="spacingAndGlyphs">L2/3 IT</text>
<text transform="translate(455.63 438) rotate(-90)" text-anchor="end" font-size="6.5" fill="#222" textLength="26.42" lengthAdjust="spacingAndGlyphs">L4 IT|SSC</text>
<text transform="translate(462.25 438) rotate(-90)" text-anchor="end" font-size="6.5" fill="#222" textLength="27.38" lengthAdjust="spacingAndGlyphs">L4/5 IT|PC</text>
<text transform="translate(468.87 438) rotate(-90)" text-anchor="end" font-size="6.5" fill="#222" textLength="11.51" lengthAdjust="spacingAndGlyphs">L5IT</text>
<text transform="translate(475.49 438) rotate(-90)" text-anchor="end" font-size="6.5" fill="#222" textLength="11.51" lengthAdjust="spacingAndGlyphs">L6IT</text>
<rect x="481.8" y="424" width="6.92" height="6" fill="#e8e8e6"/>
<rect x="488.42" y="424" width="6.92" height="6" fill="#c0c1bf"/>
<rect x="495.04" y="424" width="6.92" height="6" fill="#4d4f4f"/>
<rect x="501.66" y="424" width="6.92" height="6" fill="#3b3d3d"/>
<rect x="508.28" y="424" width="6.62" height="6" fill="#2b2d2d"/>
<rect x="481.8" y="430.1" width="33.1" height="5.9" fill="#1547e0"/>
<text transform="translate(487.11 438) rotate(-90)" text-anchor="end" font-size="6.5" fill="#222" textLength="17.9" lengthAdjust="spacingAndGlyphs">L2/3 IT</text>
<text transform="translate(493.73 438) rotate(-90)" text-anchor="end" font-size="6.5" fill="#222" textLength="26.42" lengthAdjust="spacingAndGlyphs">L4 IT|SSC</text>
<text transform="translate(500.35 438) rotate(-90)" text-anchor="end" font-size="6.5" fill="#222" textLength="27.38" lengthAdjust="spacingAndGlyphs">L4/5 IT|PC</text>
<text transform="translate(506.97 438) rotate(-90)" text-anchor="end" font-size="6.5" fill="#222" textLength="11.51" lengthAdjust="spacingAndGlyphs">L5IT</text>
<text transform="translate(513.59 438) rotate(-90)" text-anchor="end" font-size="6.5" fill="#222" textLength="11.51" lengthAdjust="spacingAndGlyphs">L6IT</text>
<rect x="519.9" y="424" width="6.92" height="6" fill="#e8e8e6"/>
<rect x="526.52" y="424" width="6.92" height="6" fill="#c0c1bf"/>
<rect x="533.14" y="424" width="6.92" height="6" fill="#4d4f4f"/>
<rect x="539.76" y="424" width="6.92" height="6" fill="#3b3d3d"/>
<rect x="546.38" y="424" width="6.62" height="6" fill="#2b2d2d"/>
<rect x="519.9" y="430.1" width="33.1" height="5.9" fill="#1547e0"/>
<text transform="translate(525.21 438) rotate(-90)" text-anchor="end" font-size="6.5" fill="#222" textLength="17.9" lengthAdjust="spacingAndGlyphs">L2/3 IT</text>
<text transform="translate(531.83 438) rotate(-90)" text-anchor="end" font-size="6.5" fill="#222" textLength="26.42" lengthAdjust="spacingAndGlyphs">L4 IT|SSC</text>
<text transform="translate(538.45 438) rotate(-90)" text-anchor="end" font-size="6.5" fill="#222" textLength="27.38" lengthAdjust="spacingAndGlyphs">L4/5 IT|PC</text>
<text transform="translate(545.07 438) rotate(-90)" text-anchor="end" font-size="6.5" fill="#222" textLength="11.51" lengthAdjust="spacingAndGlyphs">L5IT</text>
<text transform="translate(551.69 438) rotate(-90)" text-anchor="end" font-size="6.5" fill="#222" textLength="11.51" lengthAdjust="spacingAndGlyphs">L6IT</text>
<rect x="558" y="424" width="6.92" height="6" fill="#e8e8e6"/>
<rect x="564.62" y="424" width="6.92" height="6" fill="#c0c1bf"/>
<rect x="571.24" y="424" width="6.92" height="6" fill="#4d4f4f"/>
<rect x="577.86" y="424" width="6.92" height="6" fill="#3b3d3d"/>
<rect x="584.48" y="424" width="6.62" height="6" fill="#2b2d2d"/>
<rect x="558" y="430.1" width="33.1" height="5.9" fill="#1547e0"/>
<text transform="translate(563.31 438) rotate(-90)" text-anchor="end" font-size="6.5" fill="#222" textLength="17.9" lengthAdjust="spacingAndGlyphs">L2/3 IT</text>
<text transform="translate(569.93 438) rotate(-90)" text-anchor="end" font-size="6.5" fill="#222" textLength="26.42" lengthAdjust="spacingAndGlyphs">L4 IT|SSC</text>
<text transform="translate(576.55 438) rotate(-90)" text-anchor="end" font-size="6.5" fill="#222" textLength="27.38" lengthAdjust="spacingAndGlyphs">L4/5 IT|PC</text>
<text transform="translate(583.17 438) rotate(-90)" text-anchor="end" font-size="6.5" fill="#222" textLength="11.51" lengthAdjust="spacingAndGlyphs">L5IT</text>
<text transform="translate(589.79 438) rotate(-90)" text-anchor="end" font-size="6.5" fill="#222" textLength="11.51" lengthAdjust="spacingAndGlyphs">L6IT</text>
<rect x="596.1" y="424" width="6.92" height="6" fill="#e8e8e6"/>
<rect x="602.72" y="424" width="6.92" height="6" fill="#c0c1bf"/>
<rect x="609.34" y="424" width="6.92" height="6" fill="#4d4f4f"/>
<rect x="615.96" y="424" width="6.92" height="6" fill="#3b3d3d"/>
<rect x="622.58" y="424" width="6.62" height="6" fill="#2b2d2d"/>
<rect x="596.1" y="430.1" width="33.1" height="5.9" fill="#1547e0"/>
<text transform="translate(601.41 438) rotate(-90)" text-anchor="end" font-size="6.5" fill="#222" textLength="17.9" lengthAdjust="spacingAndGlyphs">L2/3 IT</text>
<text transform="translate(608.03 438) rotate(-90)" text-anchor="end" font-size="6.5" fill="#222" textLength="26.42" lengthAdjust="spacingAndGlyphs">L4 IT|SSC</text>
<text transform="translate(614.65 438) rotate(-90)" text-anchor="end" font-size="6.5" fill="#222" textLength="27.38" lengthAdjust="spacingAndGlyphs">L4/5 IT|PC</text>
<text transform="translate(621.27 438) rotate(-90)" text-anchor="end" font-size="6.5" fill="#222" textLength="11.51" lengthAdjust="spacingAndGlyphs">L5IT</text>
<text transform="translate(627.89 438) rotate(-90)" text-anchor="end" font-size="6.5" fill="#222" textLength="11.51" lengthAdjust="spacingAndGlyphs">L6IT</text>
<rect x="634.2" y="424" width="6.92" height="6" fill="#e8e8e6"/>
<rect x="640.82" y="424" width="6.92" height="6" fill="#c0c1bf"/>
<rect x="647.44" y="424" width="6.92" height="6" fill="#4d4f4f"/>
<rect x="654.06" y="424" width="6.92" height="6" fill="#3b3d3d"/>
<rect x="660.68" y="424" width="6.62" height="6" fill="#2b2d2d"/>
<rect x="634.2" y="430.1" width="33.1" height="5.9" fill="#1547e0"/>
<text transform="translate(639.51 438) rotate(-90)" text-anchor="end" font-size="6.5" fill="#222" textLength="17.9" lengthAdjust="spacingAndGlyphs">L2/3 IT</text>
<text transform="translate(646.13 438) rotate(-90)" text-anchor="end" font-size="6.5" fill="#222" textLength="26.42" lengthAdjust="spacingAndGlyphs">L4 IT|SSC</text>
<text transform="translate(652.75 438) rotate(-90)" text-anchor="end" font-size="6.5" fill="#222" textLength="27.38" lengthAdjust="spacingAndGlyphs">L4/5 IT|PC</text>
<text transform="translate(659.37 438) rotate(-90)" text-anchor="end" font-size="6.5" fill="#222" textLength="11.51" lengthAdjust="spacingAndGlyphs">L5IT</text>
<text transform="translate(665.99 438) rotate(-90)" text-anchor="end" font-size="6.5" fill="#222" textLength="11.51" lengthAdjust="spacingAndGlyphs">L6IT</text>
<text transform="translate(675.2 185.6) rotate(90)" text-anchor="middle" font-size="6.67" fill="#222" textLength="35.75" lengthAdjust="spacingAndGlyphs">Cell adhesion</text>
<text transform="translate(675.2 284) rotate(90)" text-anchor="middle" font-size="6.67" fill="#222" textLength="41.99" lengthAdjust="spacingAndGlyphs">Synaptogenesis</text>
<text transform="translate(675.2 372) rotate(90)" text-anchor="middle" font-size="6.67" fill="#222" textLength="26.89" lengthAdjust="spacingAndGlyphs">Cadherins</text>
<text transform="translate(389 298.9) rotate(-90)" text-anchor="middle" font-size="6.38" fill="#222" textLength="79.96" lengthAdjust="spacingAndGlyphs">Receptor-expressing (TARGET)</text>
<text x="20.4" y="429.9" font-size="6.67" fill="#111" textLength="59.03" lengthAdjust="spacingAndGlyphs">% of total LR Ontology</text>
<text x="20.4" y="436.7" font-size="6.67" fill="#111" textLength="50.5" lengthAdjust="spacingAndGlyphs">Norm by Dev stage</text>
<rect x="5.3" y="439.7" width="73.5" height="5" fill="url(#gpur)"/>
<line x1="12.65" y1="439.7" x2="12.65" y2="440.7" stroke="#ffffff" stroke-width="0.5"/>
<line x1="12.65" y1="443.7" x2="12.65" y2="444.7" stroke="#ffffff" stroke-width="0.5"/>
<text transform="translate(12.25 445.6) rotate(90)" font-size="6.21" fill="#222" textLength="11.01" lengthAdjust="spacingAndGlyphs">10%</text>
<line x1="20" y1="439.7" x2="20" y2="440.7" stroke="#ffffff" stroke-width="0.5"/>
<line x1="20" y1="443.7" x2="20" y2="444.7" stroke="#ffffff" stroke-width="0.5"/>
<text transform="translate(19.6 445.6) rotate(90)" font-size="6.21" fill="#222" textLength="11.01" lengthAdjust="spacingAndGlyphs">20%</text>
<line x1="27.35" y1="439.7" x2="27.35" y2="440.7" stroke="#ffffff" stroke-width="0.5"/>
<line x1="27.35" y1="443.7" x2="27.35" y2="444.7" stroke="#ffffff" stroke-width="0.5"/>
<text transform="translate(26.95 445.6) rotate(90)" font-size="6.21" fill="#222" textLength="11.01" lengthAdjust="spacingAndGlyphs">30%</text>
<line x1="34.7" y1="439.7" x2="34.7" y2="440.7" stroke="#ffffff" stroke-width="0.5"/>
<line x1="34.7" y1="443.7" x2="34.7" y2="444.7" stroke="#ffffff" stroke-width="0.5"/>
<text transform="translate(34.3 445.6) rotate(90)" font-size="6.21" fill="#222" textLength="11.01" lengthAdjust="spacingAndGlyphs">40%</text>
<line x1="49.4" y1="439.7" x2="49.4" y2="440.7" stroke="#ffffff" stroke-width="0.5"/>
<line x1="49.4" y1="443.7" x2="49.4" y2="444.7" stroke="#ffffff" stroke-width="0.5"/>
<text transform="translate(49 445.6) rotate(90)" font-size="6.21" fill="#222" textLength="11.01" lengthAdjust="spacingAndGlyphs">60%</text>
<line x1="64.1" y1="439.7" x2="64.1" y2="440.7" stroke="#ffffff" stroke-width="0.5"/>
<line x1="64.1" y1="443.7" x2="64.1" y2="444.7" stroke="#ffffff" stroke-width="0.5"/>
<text transform="translate(63.7 445.6) rotate(90)" font-size="6.21" fill="#222" textLength="11.01" lengthAdjust="spacingAndGlyphs">80%</text>
<text transform="translate(78.4 445.6) rotate(90)" font-size="6.21" fill="#222" textLength="14.07" lengthAdjust="spacingAndGlyphs">100%</text>
<text x="220.5" y="470.3" text-anchor="middle" font-size="6.75" fill="#222" textLength="79.97" lengthAdjust="spacingAndGlyphs">Ligand-expressing (SOURCE)</text>
<text x="543.2" y="470.3" text-anchor="middle" font-size="6.75" fill="#222" textLength="79.97" lengthAdjust="spacingAndGlyphs">Ligand-expressing (SOURCE)</text>
<rect x="82" y="483" width="7" height="85" fill="#e3212b"/>
<rect x="91.4" y="483" width="7" height="5.71" fill="#e3e3e1"/>
<rect x="91.4" y="488.31" width="7" height="5.71" fill="#d9dad8"/>
<rect x="91.4" y="493.62" width="7" height="5.71" fill="#d2d3d1"/>
<rect x="91.4" y="498.94" width="7" height="5.71" fill="#bfc0be"/>
<rect x="91.4" y="504.25" width="7" height="5.71" fill="#b3b4b2"/>
<rect x="91.4" y="509.56" width="7" height="5.71" fill="#aaaba9"/>
<rect x="91.4" y="514.88" width="7" height="5.71" fill="#a2a3a1"/>
<rect x="91.4" y="520.19" width="7" height="5.71" fill="#9a9b99"/>
<rect x="91.4" y="525.5" width="7" height="5.71" fill="#848786"/>
<rect x="91.4" y="530.81" width="7" height="5.71" fill="#777a79"/>
<rect x="91.4" y="536.12" width="7" height="5.71" fill="#636766"/>
<rect x="91.4" y="541.44" width="7" height="5.71" fill="#585b5b"/>
<rect x="91.4" y="546.75" width="7" height="5.71" fill="#444747"/>
<rect x="91.4" y="552.06" width="7" height="5.71" fill="#3a3c3c"/>
<rect x="91.4" y="557.38" width="7" height="5.71" fill="#2f3131"/>
<rect x="91.4" y="562.69" width="7" height="5.31" fill="#262828"/>
<path d="M178.9 486.2h5.65M223.5 486.2h5.65M230.2 486.2h5.65M237.0 486.2h5.65M243.7 486.2h5.65M254.6 486.2h5.65M261.3 486.2h5.65M268.1 486.2h5.65M274.8 486.2h5.65M281.6 486.2h5.65M299.2 486.2h5.65M305.9 486.2h5.65M312.7 486.2h5.65M319.4 486.2h5.65M337.0 486.2h5.65M343.8 486.2h5.65M350.5 486.2h5.65M357.3 486.2h5.65M141.0 491.6h5.65M178.9 491.6h5.65M192.4 491.6h5.65M199.1 491.6h5.65M216.7 491.6h5.65M230.2 491.6h5.65M237.0 491.6h5.65M299.2 491.6h5.65M305.9 491.6h5.65M312.7 491.6h5.65M319.4 491.6h5.65M337.0 491.6h5.65M343.8 491.6h5.65M350.5 491.6h5.65M357.3 491.6h5.65M216.7 496.9h5.65M223.5 496.9h5.65M230.2 496.9h5.65M237.0 496.9h5.65M243.7 496.9h5.65M254.6 496.9h5.65M261.3 496.9h5.65M268.1 496.9h5.65M274.8 496.9h5.65M292.4 496.9h5.65M299.2 496.9h5.65M305.9 496.9h5.65M312.7 496.9h5.65M330.3 496.9h5.65M337.0 496.9h5.65M343.8 496.9h5.65M350.5 496.9h5.65M357.3 496.9h5.65M223.5 502.1h5.65M230.2 502.1h5.65M237.0 502.1h5.65M243.7 502.1h5.65M261.3 502.1h5.65M268.1 502.1h5.65M274.8 502.1h5.65M281.6 502.1h5.65M299.2 502.1h5.65M305.9 502.1h5.65M312.7 502.1h5.65M319.4 502.1h5.65M337.0 502.1h5.65M343.8 502.1h5.65M350.5 502.1h5.65M357.3 502.1h5.65M103.1 507.4h5.65M109.9 507.4h5.65M116.6 507.4h5.65M141.0 507.4h5.65M147.8 507.4h5.65M154.5 507.4h5.65M178.9 507.4h5.65M185.6 507.4h5.65M192.4 507.4h5.65M243.7 507.4h5.65M281.6 507.4h5.65M319.4 507.4h5.65M357.3 507.4h5.65M223.5 512.8h5.65M230.2 512.8h5.65M237.0 512.8h5.65M243.7 512.8h5.65M261.3 512.8h5.65M268.1 512.8h5.65M274.8 512.8h5.65M281.6 512.8h5.65M299.2 512.8h5.65M305.9 512.8h5.65M312.7 512.8h5.65M319.4 512.8h5.65M337.0 512.8h5.65M343.8 512.8h5.65M350.5 512.8h5.65M357.3 512.8h5.65M161.2 518.0h5.65M199.1 518.0h5.65M223.5 518.0h5.65M230.2 518.0h5.65M243.7 518.0h5.65M261.3 518.0h5.65M268.1 518.0h5.65M274.8 518.0h5.65M281.6 518.0h5.65M299.2 518.0h5.65M319.4 518.0h5.65M337.0 518.0h5.65M357.3 518.0h5.65M161.2 523.4h5.65M178.9 523.4h5.65M199.1 523.4h5.65M205.9 523.4h5.65M216.7 523.4h5.65M237.0 523.4h5.65M243.7 523.4h5.65M337.0 523.4h5.65M216.7 528.6h5.65M223.5 528.6h5.65M230.2 528.6h5.65M237.0 528.6h5.65M243.7 528.6h5.65M254.6 528.6h5.65M261.3 528.6h5.65M268.1 528.6h5.65M274.8 528.6h5.65M281.6 528.6h5.65M299.2 528.6h5.65M305.9 528.6h5.65M312.7 528.6h5.65M319.4 528.6h5.65M330.3 528.6h5.65M337.0 528.6h5.65M343.8 528.6h5.65M350.5 528.6h5.65M357.3 528.6h5.65M168.0 534.0h5.65M205.9 534.0h5.65M216.7 534.0h5.65M223.5 534.0h5.65M230.2 534.0h5.65M237.0 534.0h5.65M254.6 534.0h5.65M261.3 534.0h5.65M268.1 534.0h5.65M274.8 534.0h5.65M292.4 534.0h5.65M299.2 534.0h5.65M305.9 534.0h5.65M312.7 534.0h5.65M123.4 539.2h5.65M161.2 539.2h5.65M178.9 539.2h5.65M199.1 539.2h5.65M223.5 539.2h5.65M243.7 539.2h5.65M261.3 539.2h5.65M274.8 539.2h5.65M281.6 539.2h5.65M305.9 539.2h5.65M319.4 539.2h5.65M343.8 539.2h5.65M357.3 539.2h5.65M103.1 544.5h5.65M109.9 544.5h5.65M116.6 544.5h5.65M141.0 544.5h5.65M147.8 544.5h5.65M154.5 544.5h5.65M178.9 544.5h5.65M185.6 544.5h5.65M192.4 544.5h5.65M243.7 544.5h5.65M281.6 544.5h5.65M319.4 544.5h5.65M330.3 544.5h5.65M337.0 544.5h5.65M343.8 544.5h5.65M350.5 544.5h5.65M357.3 544.5h5.65M109.9 549.9h5.65M116.6 549.9h5.65M141.0 549.9h5.65M147.8 549.9h5.65M178.9 549.9h5.65M216.7 549.9h5.65M254.6 549.9h5.65M299.2 549.9h5.65M305.9 549.9h5.65M312.7 549.9h5.65M337.0 549.9h5.65M343.8 549.9h5.65M350.5 549.9h5.65M254.6 555.1h5.65M261.3 555.1h5.65M299.2 555.1h5.65M337.0 555.1h5.65M109.9 560.5h5.65M116.6 560.5h5.65M147.8 560.5h5.65M154.5 560.5h5.65M185.6 560.5h5.65M192.4 560.5h5.65M216.7 560.5h5.65M254.6 560.5h5.65M103.1 565.8h5.65M141.0 565.8h5.65M305.9 565.8h5.65M343.8 565.8h5.65" stroke="#e3e2f1" stroke-width="4.2"/>
<path d="M216.7 486.2h5.65M281.6 496.9h5.65M216.7 502.1h5.65M254.6 502.1h5.65M330.3 502.1h5.65M199.1 507.4h5.65M216.7 507.4h5.65M223.5 507.4h5.65M230.2 507.4h5.65M254.6 507.4h5.65M261.3 507.4h5.65M268.1 507.4h5.65M274.8 507.4h5.65M337.0 507.4h5.65M343.8 507.4h5.65M350.5 507.4h5.65M216.7 512.8h5.65M254.6 512.8h5.65M330.3 512.8h5.65M123.4 518.0h5.65M216.7 518.0h5.65M254.6 518.0h5.65M343.8 523.4h5.65M357.3 523.4h5.65M292.4 528.6h5.65M281.6 534.0h5.65M230.2 539.2h5.65M237.0 539.2h5.65M254.6 539.2h5.65M268.1 539.2h5.65M330.3 539.2h5.65M337.0 539.2h5.65M161.2 544.5h5.65M199.1 544.5h5.65M216.7 544.5h5.65M223.5 544.5h5.65M230.2 544.5h5.65M237.0 544.5h5.65M254.6 544.5h5.65M261.3 544.5h5.65M268.1 544.5h5.65M274.8 544.5h5.65M292.4 544.5h5.65M299.2 544.5h5.65M305.9 544.5h5.65M312.7 544.5h5.65M154.5 549.9h5.65M161.2 549.9h5.65M168.0 549.9h5.65M185.6 549.9h5.65M192.4 549.9h5.65M199.1 549.9h5.65M205.9 549.9h5.65M261.3 549.9h5.65M268.1 549.9h5.65M274.8 549.9h5.65M281.6 549.9h5.65M330.3 549.9h5.65M357.3 549.9h5.65M268.1 555.1h5.65M274.8 555.1h5.65M281.6 555.1h5.65M330.3 555.1h5.65M343.8 555.1h5.65M357.3 555.1h5.65M161.2 560.5h5.65M168.0 560.5h5.65M199.1 560.5h5.65M205.9 560.5h5.65M223.5 560.5h5.65M230.2 560.5h5.65M261.3 560.5h5.65M268.1 560.5h5.65M274.8 560.5h5.65M330.3 560.5h5.65M337.0 560.5h5.65M343.8 560.5h5.65M350.5 560.5h5.65M357.3 560.5h5.65M168.0 565.8h5.65M205.9 565.8h5.65M243.7 565.8h5.65M357.3 565.8h5.65" stroke="#d1d0e7" stroke-width="4.2"/>
<path d="M330.3 486.2h5.65M330.3 491.6h5.65M319.4 496.9h5.65M292.4 502.1h5.65M123.4 507.4h5.65M161.2 507.4h5.65M237.0 507.4h5.65M299.2 507.4h5.65M305.9 507.4h5.65M312.7 507.4h5.65M330.3 507.4h5.65M292.4 512.8h5.65M237.0 518.0h5.65M330.3 518.0h5.65M343.8 518.0h5.65M350.5 518.0h5.65M330.3 523.4h5.65M350.5 523.4h5.65M243.7 534.0h5.65M319.4 534.0h5.65M216.7 539.2h5.65M292.4 539.2h5.65M299.2 539.2h5.65M350.5 539.2h5.65M123.4 544.5h5.65M123.4 549.9h5.65M130.2 549.9h5.65M223.5 549.9h5.65M230.2 549.9h5.65M237.0 549.9h5.65M243.7 549.9h5.65M292.4 549.9h5.65M319.4 549.9h5.65M292.4 555.1h5.65M305.9 555.1h5.65M319.4 555.1h5.65M350.5 555.1h5.65M123.4 560.5h5.65M130.2 560.5h5.65M237.0 560.5h5.65M243.7 560.5h5.65M281.6 560.5h5.65M292.4 560.5h5.65M299.2 560.5h5.65M305.9 560.5h5.65M312.7 560.5h5.65M319.4 560.5h5.65M130.2 565.8h5.65M319.4 565.8h5.65M330.3 565.8h5.65" stroke="#bcbbdd" stroke-width="4.2"/>
<path d="M292.4 486.2h5.65M292.4 491.6h5.65M292.4 507.4h5.65M292.4 518.0h5.65M305.9 518.0h5.65M312.7 518.0h5.65M312.7 539.2h5.65M312.7 555.1h5.65" stroke="#a6a4d2" stroke-width="4.2"/>
<path d="M292.4 565.8h5.65" stroke="#8e8ac4" stroke-width="4.2"/>
<text x="80.2" y="487.66" text-anchor="end" font-size="6.04" fill="#222" textLength="51.99" lengthAdjust="spacingAndGlyphs">Lamp5|L1 A7C/CNC</text>
<text x="80.2" y="492.97" text-anchor="end" font-size="6.04" fill="#222" textLength="36.33" lengthAdjust="spacingAndGlyphs">Sncg|CCK BC</text>
<text x="80.2" y="498.28" text-anchor="end" font-size="6.04" fill="#222" textLength="41.12" lengthAdjust="spacingAndGlyphs">Pvalb|L2/3 CHC</text>
<text x="80.2" y="503.59" text-anchor="end" font-size="6.04" fill="#222" textLength="48.16" lengthAdjust="spacingAndGlyphs">Lamp5|L1-L5 NGC</text>
<text x="80.2" y="508.91" text-anchor="end" font-size="6.04" fill="#222" textLength="49.75" lengthAdjust="spacingAndGlyphs">Sst|L2/3-L5 fan-MC</text>
<text x="80.2" y="514.22" text-anchor="end" font-size="6.04" fill="#222" textLength="51.57" lengthAdjust="spacingAndGlyphs">Vip|L2/3-L4 BP/BTC</text>
<text x="80.2" y="519.53" text-anchor="end" font-size="6.04" fill="#222" textLength="53.91" lengthAdjust="spacingAndGlyphs">Pvalb|L2/3-L4 FS BC</text>
<text x="80.2" y="524.84" text-anchor="end" font-size="6.04" fill="#222" textLength="51.57" lengthAdjust="spacingAndGlyphs">Vip|Uncharacterized</text>
<text x="80.2" y="530.16" text-anchor="end" font-size="6.04" fill="#222" textLength="27.69" lengthAdjust="spacingAndGlyphs">Sst|FS-like</text>
<text x="80.2" y="535.47" text-anchor="end" font-size="6.04" fill="#222" textLength="51.57" lengthAdjust="spacingAndGlyphs">Vip|L2/3-L5 BP/BTC</text>
<text x="80.2" y="540.78" text-anchor="end" font-size="6.04" fill="#222" textLength="45.6" lengthAdjust="spacingAndGlyphs">Pvalb|L4/5 FS BC</text>
<text x="80.2" y="546.09" text-anchor="end" font-size="6.04" fill="#222" textLength="27.38" lengthAdjust="spacingAndGlyphs">Sst|L4 IVC</text>
<text x="80.2" y="551.41" text-anchor="end" font-size="6.04" fill="#222" textLength="31.74" lengthAdjust="spacingAndGlyphs">Sst|L5 T-MC</text>
<text x="80.2" y="556.72" text-anchor="end" font-size="6.04" fill="#222" textLength="45.6" lengthAdjust="spacingAndGlyphs">Pvalb|L5/6 FS BC</text>
<text x="80.2" y="562.03" text-anchor="end" font-size="6.04" fill="#222" textLength="38.88" lengthAdjust="spacingAndGlyphs">Sst|L5/L6 NMC</text>
<text x="80.2" y="567.34" text-anchor="end" font-size="6.04" fill="#222" textLength="37.61" lengthAdjust="spacingAndGlyphs">Sst Chodl|LPC</text>
<rect x="82" y="569.9" width="7" height="85.6" fill="#e3212b"/>
<rect x="91.4" y="569.9" width="7" height="5.75" fill="#e3e3e1"/>
<rect x="91.4" y="575.25" width="7" height="5.75" fill="#d9dad8"/>
<rect x="91.4" y="580.6" width="7" height="5.75" fill="#d2d3d1"/>
<rect x="91.4" y="585.95" width="7" height="5.75" fill="#bfc0be"/>
<rect x="91.4" y="591.3" width="7" height="5.75" fill="#b3b4b2"/>
<rect x="91.4" y="596.65" width="7" height="5.75" fill="#aaaba9"/>
<rect x="91.4" y="602" width="7" height="5.75" fill="#a2a3a1"/>
<rect x="91.4" y="607.35" width="7" height="5.75" fill="#9a9b99"/>
<rect x="91.4" y="612.7" width="7" height="5.75" fill="#848786"/>
<rect x="91.4" y="618.05" width="7" height="5.75" fill="#777a79"/>
<rect x="91.4" y="623.4" width="7" height="5.75" fill="#636766"/>
<rect x="91.4" y="628.75" width="7" height="5.75" fill="#585b5b"/>
<rect x="91.4" y="634.1" width="7" height="5.75" fill="#444747"/>
<rect x="91.4" y="639.45" width="7" height="5.75" fill="#3a3c3c"/>
<rect x="91.4" y="644.8" width="7" height="5.75" fill="#2f3131"/>
<rect x="91.4" y="650.15" width="7" height="5.35" fill="#262828"/>
<path d="M103.1 578.6h5.65M123.4 578.6h5.65M103.1 584.0h5.65M103.1 589.2h5.65M116.6 589.2h5.65M130.2 589.2h5.65M103.1 599.9h5.65M103.1 637.0h5.65" stroke="#f2f1f8" stroke-width="4.2"/>
<path d="M103.1 573.4h5.65M123.4 573.4h5.65M141.0 573.4h5.65M161.2 573.4h5.65M243.7 573.4h5.65M281.6 573.4h5.65M305.9 573.4h5.65M343.8 573.4h5.65M109.9 578.6h5.65M116.6 578.6h5.65M130.2 578.6h5.65M205.9 578.6h5.65M223.5 578.6h5.65M243.7 578.6h5.65M305.9 578.6h5.65M319.4 578.6h5.65M343.8 578.6h5.65M357.3 578.6h5.65M109.9 584.0h5.65M116.6 584.0h5.65M130.2 584.0h5.65M141.0 584.0h5.65M147.8 584.0h5.65M154.5 584.0h5.65M161.2 584.0h5.65M178.9 584.0h5.65M185.6 584.0h5.65M192.4 584.0h5.65M199.1 584.0h5.65M205.9 584.0h5.65M243.7 584.0h5.65M305.9 584.0h5.65M343.8 584.0h5.65M123.4 589.2h5.65M141.0 589.2h5.65M147.8 589.2h5.65M154.5 589.2h5.65M161.2 589.2h5.65M168.0 589.2h5.65M185.6 589.2h5.65M192.4 589.2h5.65M199.1 589.2h5.65M205.9 589.2h5.65M243.7 589.2h5.65M281.6 589.2h5.65M357.3 589.2h5.65M168.0 594.6h5.65M243.7 594.6h5.65M281.6 594.6h5.65M357.3 594.6h5.65M116.6 599.9h5.65M123.4 599.9h5.65M130.2 599.9h5.65M141.0 599.9h5.65M168.0 599.9h5.65M205.9 599.9h5.65M281.6 599.9h5.65M103.1 605.1h5.65M109.9 605.1h5.65M130.2 605.1h5.65M168.0 605.1h5.65M205.9 605.1h5.65M243.7 605.1h5.65M281.6 605.1h5.65M319.4 605.1h5.65M357.3 605.1h5.65M103.1 610.5h5.65M109.9 610.5h5.65M116.6 610.5h5.65M123.4 610.5h5.65M130.2 610.5h5.65M141.0 610.5h5.65M147.8 610.5h5.65M154.5 610.5h5.65M168.0 610.5h5.65M185.6 610.5h5.65M192.4 610.5h5.65M199.1 610.5h5.65M223.5 610.5h5.65M230.2 610.5h5.65M237.0 610.5h5.65M243.7 610.5h5.65M243.7 615.8h5.65M281.6 615.8h5.65M103.1 621.1h5.65M116.6 621.1h5.65M123.4 621.1h5.65M130.2 621.1h5.65M141.0 621.1h5.65M154.5 621.1h5.65M161.2 621.1h5.65M192.4 621.1h5.65M199.1 621.1h5.65M292.4 621.1h5.65M299.2 621.1h5.65M305.9 621.1h5.65M312.7 621.1h5.65M103.1 626.4h5.65M130.2 626.4h5.65M168.0 626.4h5.65M205.9 626.4h5.65M243.7 626.4h5.65M281.6 626.4h5.65M357.3 626.4h5.65M168.0 631.6h5.65M243.7 631.6h5.65M281.6 631.6h5.65M254.6 642.2h5.65M261.3 642.2h5.65M103.1 647.6h5.65M141.0 647.6h5.65M178.9 647.6h5.65M103.1 652.9h5.65M109.9 652.9h5.65M116.6 652.9h5.65M123.4 652.9h5.65M141.0 652.9h5.65M147.8 652.9h5.65M154.5 652.9h5.65M161.2 652.9h5.65M185.6 652.9h5.65M192.4 652.9h5.65M199.1 652.9h5.65M205.9 652.9h5.65M223.5 652.9h5.65M230.2 652.9h5.65M237.0 652.9h5.65M243.7 652.9h5.65M305.9 652.9h5.65M343.8 652.9h5.65" stroke="#e3e2f1" stroke-width="4.2"/>
<path d="M109.9 573.4h5.65M147.8 573.4h5.65M154.5 573.4h5.65M168.0 573.4h5.65M185.6 573.4h5.65M192.4 573.4h5.65M199.1 573.4h5.65M205.9 573.4h5.65M230.2 573.4h5.65M268.1 573.4h5.65M337.0 573.4h5.65M350.5 573.4h5.65M357.3 573.4h5.65M147.8 578.6h5.65M154.5 578.6h5.65M168.0 578.6h5.65M185.6 578.6h5.65M337.0 578.6h5.65M350.5 578.6h5.65M123.4 584.0h5.65M168.0 584.0h5.65M223.5 584.0h5.65M230.2 584.0h5.65M261.3 584.0h5.65M268.1 584.0h5.65M299.2 584.0h5.65M312.7 584.0h5.65M337.0 584.0h5.65M350.5 584.0h5.65M357.3 584.0h5.65M319.4 589.2h5.65M337.0 589.2h5.65M343.8 589.2h5.65M350.5 589.2h5.65M103.1 594.6h5.65M130.2 594.6h5.65M205.9 594.6h5.65M319.4 594.6h5.65M147.8 599.9h5.65M154.5 599.9h5.65M161.2 599.9h5.65M243.7 599.9h5.65M319.4 599.9h5.65M357.3 599.9h5.65M116.6 605.1h5.65M141.0 605.1h5.65M147.8 605.1h5.65M337.0 605.1h5.65M161.2 610.5h5.65M178.9 610.5h5.65M205.9 610.5h5.65M216.7 610.5h5.65M299.2 615.8h5.65M305.9 615.8h5.65M312.7 615.8h5.65M319.4 615.8h5.65M337.0 615.8h5.65M343.8 615.8h5.65M357.3 615.8h5.65M109.9 621.1h5.65M147.8 621.1h5.65M178.9 621.1h5.65M185.6 621.1h5.65M216.7 621.1h5.65M254.6 621.1h5.65M261.3 621.1h5.65M268.1 621.1h5.65M274.8 621.1h5.65M109.9 626.4h5.65M141.0 626.4h5.65M319.4 626.4h5.65M103.1 631.6h5.65M205.9 631.6h5.65M319.4 631.6h5.65M357.3 631.6h5.65M141.0 637.0h5.65M178.9 637.0h5.65M216.7 637.0h5.65M254.6 637.0h5.65M330.3 637.0h5.65M337.0 637.0h5.65M299.2 642.2h5.65M330.3 642.2h5.65M337.0 642.2h5.65M216.7 647.6h5.65M254.6 647.6h5.65M330.3 647.6h5.65M130.2 652.9h5.65M168.0 652.9h5.65M178.9 652.9h5.65M216.7 652.9h5.65M337.0 652.9h5.65M350.5 652.9h5.65" stroke="#d1d0e7" stroke-width="4.2"/>
<path d="M116.6 573.4h5.65M130.2 573.4h5.65M178.9 573.4h5.65M223.5 573.4h5.65M261.3 573.4h5.65M274.8 573.4h5.65M299.2 573.4h5.65M312.7 573.4h5.65M319.4 573.4h5.65M141.0 578.6h5.65M161.2 578.6h5.65M178.9 578.6h5.65M192.4 578.6h5.65M199.1 578.6h5.65M216.7 578.6h5.65M230.2 578.6h5.65M237.0 578.6h5.65M299.2 578.6h5.65M312.7 578.6h5.65M237.0 584.0h5.65M274.8 584.0h5.65M281.6 584.0h5.65M319.4 584.0h5.65M330.3 584.0h5.65M178.9 589.2h5.65M223.5 589.2h5.65M230.2 589.2h5.65M237.0 589.2h5.65M261.3 589.2h5.65M268.1 589.2h5.65M274.8 589.2h5.65M299.2 589.2h5.65M305.9 589.2h5.65M312.7 589.2h5.65M109.9 594.6h5.65M116.6 594.6h5.65M141.0 594.6h5.65M147.8 594.6h5.65M154.5 594.6h5.65M185.6 594.6h5.65M192.4 594.6h5.65M337.0 594.6h5.65M343.8 594.6h5.65M350.5 594.6h5.65M178.9 599.9h5.65M185.6 599.9h5.65M192.4 599.9h5.65M199.1 599.9h5.65M337.0 599.9h5.65M343.8 599.9h5.65M350.5 599.9h5.65M123.4 605.1h5.65M154.5 605.1h5.65M161.2 605.1h5.65M178.9 605.1h5.65M185.6 605.1h5.65M192.4 605.1h5.65M199.1 605.1h5.65M223.5 605.1h5.65M261.3 605.1h5.65M299.2 605.1h5.65M343.8 605.1h5.65M350.5 605.1h5.65M337.0 610.5h5.65M343.8 610.5h5.65M223.5 615.8h5.65M230.2 615.8h5.65M261.3 615.8h5.65M268.1 615.8h5.65M350.5 615.8h5.65M168.0 621.1h5.65M205.9 621.1h5.65M223.5 621.1h5.65M230.2 621.1h5.65M237.0 621.1h5.65M243.7 621.1h5.65M281.6 621.1h5.65M319.4 621.1h5.65M116.6 626.4h5.65M123.4 626.4h5.65M147.8 626.4h5.65M154.5 626.4h5.65M178.9 626.4h5.65M185.6 626.4h5.65M192.4 626.4h5.65M199.1 626.4h5.65M330.3 626.4h5.65M337.0 626.4h5.65M343.8 626.4h5.65M350.5 626.4h5.65M123.4 631.6h5.65M130.2 631.6h5.65M141.0 631.6h5.65M147.8 631.6h5.65M154.5 631.6h5.65M161.2 631.6h5.65M178.9 631.6h5.65M185.6 631.6h5.65M192.4 631.6h5.65M199.1 631.6h5.65M254.6 631.6h5.65M261.3 631.6h5.65M274.8 631.6h5.65M337.0 631.6h5.65M343.8 631.6h5.65M350.5 631.6h5.65M109.9 637.0h5.65M116.6 637.0h5.65M123.4 637.0h5.65M130.2 637.0h5.65M147.8 637.0h5.65M154.5 637.0h5.65M161.2 637.0h5.65M168.0 637.0h5.65M185.6 637.0h5.65M192.4 637.0h5.65M199.1 637.0h5.65M205.9 637.0h5.65M223.5 637.0h5.65M261.3 637.0h5.65M292.4 637.0h5.65M299.2 637.0h5.65M343.8 637.0h5.65M350.5 637.0h5.65M357.3 637.0h5.65M268.1 642.2h5.65M274.8 642.2h5.65M281.6 642.2h5.65M292.4 642.2h5.65M305.9 642.2h5.65M319.4 642.2h5.65M343.8 642.2h5.65M350.5 642.2h5.65M357.3 642.2h5.65M109.9 647.6h5.65M130.2 647.6h5.65M147.8 647.6h5.65M161.2 647.6h5.65M168.0 647.6h5.65M185.6 647.6h5.65M192.4 647.6h5.65M199.1 647.6h5.65M205.9 647.6h5.65M292.4 647.6h5.65M299.2 647.6h5.65M305.9 647.6h5.65M312.7 647.6h5.65M319.4 647.6h5.65M337.0 647.6h5.65M343.8 647.6h5.65M350.5 647.6h5.65M357.3 647.6h5.65M299.2 652.9h5.65M312.7 652.9h5.65M357.3 652.9h5.65" stroke="#bcbbdd" stroke-width="4.2"/>
<path d="M216.7 573.4h5.65M237.0 573.4h5.65M254.6 573.4h5.65M330.3 578.6h5.65M216.7 584.0h5.65M254.6 584.0h5.65M292.4 584.0h5.65M254.6 589.2h5.65M330.3 589.2h5.65M123.4 594.6h5.65M161.2 594.6h5.65M178.9 594.6h5.65M199.1 594.6h5.65M216.7 594.6h5.65M223.5 594.6h5.65M230.2 594.6h5.65M237.0 594.6h5.65M254.6 594.6h5.65M261.3 594.6h5.65M268.1 594.6h5.65M274.8 594.6h5.65M299.2 594.6h5.65M305.9 594.6h5.65M312.7 594.6h5.65M330.3 594.6h5.65M216.7 599.9h5.65M223.5 599.9h5.65M230.2 599.9h5.65M237.0 599.9h5.65M254.6 599.9h5.65M261.3 599.9h5.65M268.1 599.9h5.65M274.8 599.9h5.65M299.2 599.9h5.65M305.9 599.9h5.65M312.7 599.9h5.65M330.3 599.9h5.65M216.7 605.1h5.65M230.2 605.1h5.65M254.6 605.1h5.65M268.1 605.1h5.65M274.8 605.1h5.65M305.9 605.1h5.65M312.7 605.1h5.65M330.3 605.1h5.65M357.3 610.5h5.65M216.7 615.8h5.65M237.0 615.8h5.65M254.6 615.8h5.65M274.8 615.8h5.65M330.3 615.8h5.65M161.2 626.4h5.65M216.7 626.4h5.65M223.5 626.4h5.65M230.2 626.4h5.65M237.0 626.4h5.65M254.6 626.4h5.65M261.3 626.4h5.65M268.1 626.4h5.65M274.8 626.4h5.65M292.4 626.4h5.65M299.2 626.4h5.65M305.9 626.4h5.65M312.7 626.4h5.65M109.9 631.6h5.65M116.6 631.6h5.65M216.7 631.6h5.65M223.5 631.6h5.65M230.2 631.6h5.65M237.0 631.6h5.65M268.1 631.6h5.65M299.2 631.6h5.65M305.9 631.6h5.65M312.7 631.6h5.65M330.3 631.6h5.65M230.2 637.0h5.65M237.0 637.0h5.65M243.7 637.0h5.65M268.1 637.0h5.65M274.8 637.0h5.65M281.6 637.0h5.65M305.9 637.0h5.65M312.7 637.0h5.65M319.4 637.0h5.65M312.7 642.2h5.65M116.6 647.6h5.65M123.4 647.6h5.65M154.5 647.6h5.65M223.5 647.6h5.65M230.2 647.6h5.65M237.0 647.6h5.65M243.7 647.6h5.65M261.3 647.6h5.65M268.1 647.6h5.65M274.8 647.6h5.65M281.6 647.6h5.65M319.4 652.9h5.65M330.3 652.9h5.65" stroke="#a6a4d2" stroke-width="4.2"/>
<path d="M330.3 573.4h5.65M216.7 589.2h5.65M292.4 594.6h5.65M292.4 599.9h5.65M237.0 605.1h5.65M292.4 605.1h5.65M292.4 615.8h5.65M292.4 631.6h5.65" stroke="#8e8ac4" stroke-width="4.2"/>
<path d="M292.4 573.4h5.65M292.4 578.6h5.65M292.4 589.2h5.65M330.3 610.5h5.65M350.5 610.5h5.65M292.4 652.9h5.65" stroke="#7a70b6" stroke-width="4.2"/>
<text x="80.2" y="574.57" text-anchor="end" font-size="6.04" fill="#222" textLength="51.99" lengthAdjust="spacingAndGlyphs">Lamp5|L1 A7C/CNC</text>
<text x="80.2" y="579.92" text-anchor="end" font-size="6.04" fill="#222" textLength="36.33" lengthAdjust="spacingAndGlyphs">Sncg|CCK BC</text>
<text x="80.2" y="585.27" text-anchor="end" font-size="6.04" fill="#222" textLength="41.12" lengthAdjust="spacingAndGlyphs">Pvalb|L2/3 CHC</text>
<text x="80.2" y="590.62" text-anchor="end" font-size="6.04" fill="#222" textLength="48.16" lengthAdjust="spacingAndGlyphs">Lamp5|L1-L5 NGC</text>
<text x="80.2" y="595.97" text-anchor="end" font-size="6.04" fill="#222" textLength="49.75" lengthAdjust="spacingAndGlyphs">Sst|L2/3-L5 fan-MC</text>
<text x="80.2" y="601.32" text-anchor="end" font-size="6.04" fill="#222" textLength="51.57" lengthAdjust="spacingAndGlyphs">Vip|L2/3-L4 BP/BTC</text>
<text x="80.2" y="606.67" text-anchor="end" font-size="6.04" fill="#222" textLength="53.91" lengthAdjust="spacingAndGlyphs">Pvalb|L2/3-L4 FS BC</text>
<text x="80.2" y="612.02" text-anchor="end" font-size="6.04" fill="#222" textLength="51.57" lengthAdjust="spacingAndGlyphs">Vip|Uncharacterized</text>
<text x="80.2" y="617.38" text-anchor="end" font-size="6.04" fill="#222" textLength="27.69" lengthAdjust="spacingAndGlyphs">Sst|FS-like</text>
<text x="80.2" y="622.72" text-anchor="end" font-size="6.04" fill="#222" textLength="51.57" lengthAdjust="spacingAndGlyphs">Vip|L2/3-L5 BP/BTC</text>
<text x="80.2" y="628.07" text-anchor="end" font-size="6.04" fill="#222" textLength="45.6" lengthAdjust="spacingAndGlyphs">Pvalb|L4/5 FS BC</text>
<text x="80.2" y="633.42" text-anchor="end" font-size="6.04" fill="#222" textLength="27.38" lengthAdjust="spacingAndGlyphs">Sst|L4 IVC</text>
<text x="80.2" y="638.77" text-anchor="end" font-size="6.04" fill="#222" textLength="31.74" lengthAdjust="spacingAndGlyphs">Sst|L5 T-MC</text>
<text x="80.2" y="644.12" text-anchor="end" font-size="6.04" fill="#222" textLength="45.6" lengthAdjust="spacingAndGlyphs">Pvalb|L5/6 FS BC</text>
<text x="80.2" y="649.47" text-anchor="end" font-size="6.04" fill="#222" textLength="38.88" lengthAdjust="spacingAndGlyphs">Sst|L5/L6 NMC</text>
<text x="80.2" y="654.82" text-anchor="end" font-size="6.04" fill="#222" textLength="37.61" lengthAdjust="spacingAndGlyphs">Sst Chodl|LPC</text>
<rect x="102" y="655.9" width="6.9" height="6" fill="#e8e8e6"/>
<rect x="108.6" y="655.9" width="6.9" height="6" fill="#c0c1bf"/>
<rect x="115.2" y="655.9" width="6.9" height="6" fill="#4d4f4f"/>
<rect x="121.8" y="655.9" width="6.9" height="6" fill="#3b3d3d"/>
<rect x="128.4" y="655.9" width="6.6" height="6" fill="#2b2d2d"/>
<rect x="102" y="662" width="33" height="5.9" fill="#1547e0"/>
<text transform="translate(107.3 670) rotate(-90)" text-anchor="end" font-size="6.5" fill="#222" textLength="17.9" lengthAdjust="spacingAndGlyphs">L2/3 IT</text>
<text transform="translate(113.9 670) rotate(-90)" text-anchor="end" font-size="6.5" fill="#222" textLength="26.42" lengthAdjust="spacingAndGlyphs">L4 IT|SSC</text>
<text transform="translate(120.5 670) rotate(-90)" text-anchor="end" font-size="6.5" fill="#222" textLength="27.38" lengthAdjust="spacingAndGlyphs">L4/5 IT|PC</text>
<text transform="translate(127.1 670) rotate(-90)" text-anchor="end" font-size="6.5" fill="#222" textLength="11.51" lengthAdjust="spacingAndGlyphs">L5IT</text>
<text transform="translate(133.7 670) rotate(-90)" text-anchor="end" font-size="6.5" fill="#222" textLength="11.51" lengthAdjust="spacingAndGlyphs">L6IT</text>
<rect x="140.25" y="655.9" width="6.9" height="6" fill="#e8e8e6"/>
<rect x="146.85" y="655.9" width="6.9" height="6" fill="#c0c1bf"/>
<rect x="153.45" y="655.9" width="6.9" height="6" fill="#4d4f4f"/>
<rect x="160.05" y="655.9" width="6.9" height="6" fill="#3b3d3d"/>
<rect x="166.65" y="655.9" width="6.6" height="6" fill="#2b2d2d"/>
<rect x="140.25" y="662" width="33" height="5.9" fill="#1547e0"/>
<text transform="translate(145.55 670) rotate(-90)" text-anchor="end" font-size="6.5" fill="#222" textLength="17.9" lengthAdjust="spacingAndGlyphs">L2/3 IT</text>
<text transform="translate(152.15 670) rotate(-90)" text-anchor="end" font-size="6.5" fill="#222" textLength="26.42" lengthAdjust="spacingAndGlyphs">L4 IT|SSC</text>
<text transform="translate(158.75 670) rotate(-90)" text-anchor="end" font-size="6.5" fill="#222" textLength="27.38" lengthAdjust="spacingAndGlyphs">L4/5 IT|PC</text>
<text transform="translate(165.35 670) rotate(-90)" text-anchor="end" font-size="6.5" fill="#222" textLength="11.51" lengthAdjust="spacingAndGlyphs">L5IT</text>
<text transform="translate(171.95 670) rotate(-90)" text-anchor="end" font-size="6.5" fill="#222" textLength="11.51" lengthAdjust="spacingAndGlyphs">L6IT</text>
<rect x="178.5" y="655.9" width="6.9" height="6" fill="#e8e8e6"/>
<rect x="185.1" y="655.9" width="6.9" height="6" fill="#c0c1bf"/>
<rect x="191.7" y="655.9" width="6.9" height="6" fill="#4d4f4f"/>
<rect x="198.3" y="655.9" width="6.9" height="6" fill="#3b3d3d"/>
<rect x="204.9" y="655.9" width="6.6" height="6" fill="#2b2d2d"/>
<rect x="178.5" y="662" width="33" height="5.9" fill="#1547e0"/>
<text transform="translate(183.8 670) rotate(-90)" text-anchor="end" font-size="6.5" fill="#222" textLength="17.9" lengthAdjust="spacingAndGlyphs">L2/3 IT</text>
<text transform="translate(190.4 670) rotate(-90)" text-anchor="end" font-size="6.5" fill="#222" textLength="26.42" lengthAdjust="spacingAndGlyphs">L4 IT|SSC</text>
<text transform="translate(197 670) rotate(-90)" text-anchor="end" font-size="6.5" fill="#222" textLength="27.38" lengthAdjust="spacingAndGlyphs">L4/5 IT|PC</text>
<text transform="translate(203.6 670) rotate(-90)" text-anchor="end" font-size="6.5" fill="#222" textLength="11.51" lengthAdjust="spacingAndGlyphs">L5IT</text>
<text transform="translate(210.2 670) rotate(-90)" text-anchor="end" font-size="6.5" fill="#222" textLength="11.51" lengthAdjust="spacingAndGlyphs">L6IT</text>
<rect x="216.75" y="655.9" width="6.9" height="6" fill="#e8e8e6"/>
<rect x="223.35" y="655.9" width="6.9" height="6" fill="#c0c1bf"/>
<rect x="229.95" y="655.9" width="6.9" height="6" fill="#4d4f4f"/>
<rect x="236.55" y="655.9" width="6.9" height="6" fill="#3b3d3d"/>
<rect x="243.15" y="655.9" width="6.6" height="6" fill="#2b2d2d"/>
<rect x="216.75" y="662" width="33" height="5.9" fill="#1547e0"/>
<text transform="translate(222.05 670) rotate(-90)" text-anchor="end" font-size="6.5" fill="#222" textLength="17.9" lengthAdjust="spacingAndGlyphs">L2/3 IT</text>
<text transform="translate(228.65 670) rotate(-90)" text-anchor="end" font-size="6.5" fill="#222" textLength="26.42" lengthAdjust="spacingAndGlyphs">L4 IT|SSC</text>
<text transform="translate(235.25 670) rotate(-90)" text-anchor="end" font-size="6.5" fill="#222" textLength="27.38" lengthAdjust="spacingAndGlyphs">L4/5 IT|PC</text>
<text transform="translate(241.85 670) rotate(-90)" text-anchor="end" font-size="6.5" fill="#222" textLength="11.51" lengthAdjust="spacingAndGlyphs">L5IT</text>
<text transform="translate(248.45 670) rotate(-90)" text-anchor="end" font-size="6.5" fill="#222" textLength="11.51" lengthAdjust="spacingAndGlyphs">L6IT</text>
<rect x="255" y="655.9" width="6.9" height="6" fill="#e8e8e6"/>
<rect x="261.6" y="655.9" width="6.9" height="6" fill="#c0c1bf"/>
<rect x="268.2" y="655.9" width="6.9" height="6" fill="#4d4f4f"/>
<rect x="274.8" y="655.9" width="6.9" height="6" fill="#3b3d3d"/>
<rect x="281.4" y="655.9" width="6.6" height="6" fill="#2b2d2d"/>
<rect x="255" y="662" width="33" height="5.9" fill="#1547e0"/>
<text transform="translate(260.3 670) rotate(-90)" text-anchor="end" font-size="6.5" fill="#222" textLength="17.9" lengthAdjust="spacingAndGlyphs">L2/3 IT</text>
<text transform="translate(266.9 670) rotate(-90)" text-anchor="end" font-size="6.5" fill="#222" textLength="26.42" lengthAdjust="spacingAndGlyphs">L4 IT|SSC</text>
<text transform="translate(273.5 670) rotate(-90)" text-anchor="end" font-size="6.5" fill="#222" textLength="27.38" lengthAdjust="spacingAndGlyphs">L4/5 IT|PC</text>
<text transform="translate(280.1 670) rotate(-90)" text-anchor="end" font-size="6.5" fill="#222" textLength="11.51" lengthAdjust="spacingAndGlyphs">L5IT</text>
<text transform="translate(286.7 670) rotate(-90)" text-anchor="end" font-size="6.5" fill="#222" textLength="11.51" lengthAdjust="spacingAndGlyphs">L6IT</text>
<rect x="293.25" y="655.9" width="6.9" height="6" fill="#e8e8e6"/>
<rect x="299.85" y="655.9" width="6.9" height="6" fill="#c0c1bf"/>
<rect x="306.45" y="655.9" width="6.9" height="6" fill="#4d4f4f"/>
<rect x="313.05" y="655.9" width="6.9" height="6" fill="#3b3d3d"/>
<rect x="319.65" y="655.9" width="6.6" height="6" fill="#2b2d2d"/>
<rect x="293.25" y="662" width="33" height="5.9" fill="#1547e0"/>
<text transform="translate(298.55 670) rotate(-90)" text-anchor="end" font-size="6.5" fill="#222" textLength="17.9" lengthAdjust="spacingAndGlyphs">L2/3 IT</text>
<text transform="translate(305.15 670) rotate(-90)" text-anchor="end" font-size="6.5" fill="#222" textLength="26.42" lengthAdjust="spacingAndGlyphs">L4 IT|SSC</text>
<text transform="translate(311.75 670) rotate(-90)" text-anchor="end" font-size="6.5" fill="#222" textLength="27.38" lengthAdjust="spacingAndGlyphs">L4/5 IT|PC</text>
<text transform="translate(318.35 670) rotate(-90)" text-anchor="end" font-size="6.5" fill="#222" textLength="11.51" lengthAdjust="spacingAndGlyphs">L5IT</text>
<text transform="translate(324.95 670) rotate(-90)" text-anchor="end" font-size="6.5" fill="#222" textLength="11.51" lengthAdjust="spacingAndGlyphs">L6IT</text>
<rect x="331.5" y="655.9" width="6.9" height="6" fill="#e8e8e6"/>
<rect x="338.1" y="655.9" width="6.9" height="6" fill="#c0c1bf"/>
<rect x="344.7" y="655.9" width="6.9" height="6" fill="#4d4f4f"/>
<rect x="351.3" y="655.9" width="6.9" height="6" fill="#3b3d3d"/>
<rect x="357.9" y="655.9" width="6.6" height="6" fill="#2b2d2d"/>
<rect x="331.5" y="662" width="33" height="5.9" fill="#1547e0"/>
<text transform="translate(336.8 670) rotate(-90)" text-anchor="end" font-size="6.5" fill="#222" textLength="17.9" lengthAdjust="spacingAndGlyphs">L2/3 IT</text>
<text transform="translate(343.4 670) rotate(-90)" text-anchor="end" font-size="6.5" fill="#222" textLength="26.42" lengthAdjust="spacingAndGlyphs">L4 IT|SSC</text>
<text transform="translate(350 670) rotate(-90)" text-anchor="end" font-size="6.5" fill="#222" textLength="27.38" lengthAdjust="spacingAndGlyphs">L4/5 IT|PC</text>
<text transform="translate(356.6 670) rotate(-90)" text-anchor="end" font-size="6.5" fill="#222" textLength="11.51" lengthAdjust="spacingAndGlyphs">L5IT</text>
<text transform="translate(363.2 670) rotate(-90)" text-anchor="end" font-size="6.5" fill="#222" textLength="11.51" lengthAdjust="spacingAndGlyphs">L6IT</text>
<text transform="translate(367.7 521.3) rotate(90)" text-anchor="middle" font-size="6.67" fill="#222" textLength="11.8" lengthAdjust="spacingAndGlyphs">SCZ</text>
<text transform="translate(367.7 600) rotate(90)" text-anchor="middle" font-size="6.67" fill="#222" textLength="5.9" lengthAdjust="spacingAndGlyphs">ID</text>
<text transform="translate(20 576.5) rotate(-90)" text-anchor="middle" font-size="6.38" fill="#222" textLength="79.96" lengthAdjust="spacingAndGlyphs">Receptor-expressing (TARGET)</text>
<rect x="395.6" y="484" width="7" height="5.71" fill="#e3e3e1"/>
<rect x="395.6" y="489.31" width="7" height="5.71" fill="#d9dad8"/>
<rect x="395.6" y="494.62" width="7" height="5.71" fill="#d2d3d1"/>
<rect x="395.6" y="499.94" width="7" height="5.71" fill="#bfc0be"/>
<rect x="395.6" y="505.25" width="7" height="5.71" fill="#b3b4b2"/>
<rect x="395.6" y="510.56" width="7" height="5.71" fill="#aaaba9"/>
<rect x="395.6" y="515.88" width="7" height="5.71" fill="#a2a3a1"/>
<rect x="395.6" y="521.19" width="7" height="5.71" fill="#9a9b99"/>
<rect x="395.6" y="526.5" width="7" height="5.71" fill="#848786"/>
<rect x="395.6" y="531.81" width="7" height="5.71" fill="#777a79"/>
<rect x="395.6" y="537.12" width="7" height="5.71" fill="#636766"/>
<rect x="395.6" y="542.44" width="7" height="5.71" fill="#585b5b"/>
<rect x="395.6" y="547.75" width="7" height="5.71" fill="#444747"/>
<rect x="395.6" y="553.06" width="7" height="5.71" fill="#3a3c3c"/>
<rect x="395.6" y="558.38" width="7" height="5.71" fill="#2f3131"/>
<rect x="395.6" y="563.69" width="7" height="5.31" fill="#262828"/>
<path d="M446.8 487.2h5.65M446.8 497.7h5.65M473.8 503.0h5.65M408.9 518.7h5.65M446.8 524.0h5.65M542.9 524.0h5.65M446.8 534.5h5.65M408.9 566.0h5.65" stroke="#e3e2f1" stroke-width="4.15"/>
<path d="M549.6 487.2h5.65M587.5 487.2h5.65M649.8 487.2h5.65M649.8 492.5h5.65M511.8 497.7h5.65M649.8 497.7h5.65M453.6 524.0h5.65M460.3 524.0h5.65M529.4 524.0h5.65M536.1 524.0h5.65M549.6 524.0h5.65M453.6 534.5h5.65M460.3 534.5h5.65M587.5 545.0h5.65M529.4 566.0h5.65M536.1 566.0h5.65M649.8 566.0h5.65" stroke="#cccbe5" stroke-width="4.15"/>
<path d="M415.7 487.2h5.65M429.2 487.2h5.65M453.6 487.2h5.65M467.1 487.2h5.65M491.5 487.2h5.65M505.0 487.2h5.65M574.0 487.2h5.65M611.9 487.2h5.65M415.7 492.5h5.65M422.4 492.5h5.65M435.9 492.5h5.65M473.8 492.5h5.65M511.8 492.5h5.65M549.6 492.5h5.65M611.9 492.5h5.65M415.7 497.7h5.65M422.4 497.7h5.65M429.2 497.7h5.65M435.9 497.7h5.65M453.6 497.7h5.65M460.3 497.7h5.65M467.1 497.7h5.65M473.8 497.7h5.65M484.8 497.7h5.65M491.5 497.7h5.65M498.2 497.7h5.65M505.0 497.7h5.65M549.6 497.7h5.65M611.9 497.7h5.65M453.6 503.0h5.65M460.3 503.0h5.65M467.1 503.0h5.65M511.8 503.0h5.65M549.6 503.0h5.65M587.5 503.0h5.65M663.3 503.0h5.65M408.9 508.2h5.65M422.4 513.5h5.65M435.9 513.5h5.65M446.8 513.5h5.65M453.6 513.5h5.65M473.8 513.5h5.65M549.6 513.5h5.65M587.5 513.5h5.65M663.3 513.5h5.65M415.7 518.7h5.65M435.9 518.7h5.65M587.5 518.7h5.65M643.1 518.7h5.65M415.7 524.0h5.65M422.4 524.0h5.65M429.2 524.0h5.65M435.9 524.0h5.65M467.1 524.0h5.65M473.8 524.0h5.65M491.5 524.0h5.65M498.2 524.0h5.65M505.0 524.0h5.65M511.8 524.0h5.65M522.6 524.0h5.65M549.6 529.2h5.65M587.5 529.2h5.65M625.4 529.2h5.65M643.1 529.2h5.65M656.6 529.2h5.65M415.7 534.5h5.65M422.4 534.5h5.65M587.5 539.7h5.65M408.9 545.0h5.65M549.6 545.0h5.65M560.5 555.5h5.65M567.3 555.5h5.65M587.5 555.5h5.65M636.3 555.5h5.65M663.3 555.5h5.65M446.8 560.7h5.65M415.7 566.0h5.65M422.4 566.0h5.65M429.2 566.0h5.65M446.8 566.0h5.65M453.6 566.0h5.65M491.5 566.0h5.65M498.2 566.0h5.65M505.0 566.0h5.65M549.6 566.0h5.65M611.9 566.0h5.65M643.1 566.0h5.65" stroke="#b2b0d8" stroke-width="4.15"/>
<path d="M435.9 487.2h5.65M460.3 487.2h5.65M473.8 487.2h5.65M484.8 487.2h5.65M498.2 487.2h5.65M511.8 487.2h5.65M536.1 487.2h5.65M580.8 487.2h5.65M625.4 487.2h5.65M643.1 487.2h5.65M656.6 487.2h5.65M446.8 492.5h5.65M453.6 492.5h5.65M460.3 492.5h5.65M467.1 492.5h5.65M491.5 492.5h5.65M529.4 492.5h5.65M542.9 492.5h5.65M643.1 492.5h5.65M656.6 492.5h5.65M529.4 497.7h5.65M536.1 497.7h5.65M567.3 497.7h5.65M574.0 497.7h5.65M580.8 497.7h5.65M587.5 497.7h5.65M643.1 497.7h5.65M656.6 497.7h5.65M663.3 497.7h5.65M491.5 503.0h5.65M498.2 503.0h5.65M505.0 503.0h5.65M542.9 503.0h5.65M580.8 503.0h5.65M625.4 503.0h5.65M643.1 503.0h5.65M649.8 503.0h5.65M656.6 503.0h5.65M435.9 508.2h5.65M446.8 508.2h5.65M473.8 508.2h5.65M549.6 508.2h5.65M587.5 508.2h5.65M625.4 508.2h5.65M643.1 508.2h5.65M656.6 508.2h5.65M467.1 513.5h5.65M625.4 513.5h5.65M429.2 518.7h5.65M446.8 518.7h5.65M453.6 518.7h5.65M473.8 518.7h5.65M549.6 518.7h5.65M625.4 518.7h5.65M656.6 518.7h5.65M484.8 524.0h5.65M649.8 524.0h5.65M663.3 524.0h5.65M542.9 529.2h5.65M605.2 529.2h5.65M618.7 529.2h5.65M649.8 529.2h5.65M473.8 534.5h5.65M484.8 534.5h5.65M498.2 534.5h5.65M505.0 534.5h5.65M522.6 534.5h5.65M536.1 534.5h5.65M542.9 534.5h5.65M549.6 534.5h5.65M560.5 534.5h5.65M574.0 534.5h5.65M580.8 534.5h5.65M587.5 534.5h5.65M598.4 534.5h5.65M625.4 534.5h5.65M415.7 539.7h5.65M435.9 539.7h5.65M511.8 539.7h5.65M549.6 539.7h5.65M625.4 539.7h5.65M636.3 539.7h5.65M643.1 539.7h5.65M656.6 539.7h5.65M446.8 545.0h5.65M473.8 545.0h5.65M511.8 545.0h5.65M567.3 545.0h5.65M580.8 545.0h5.65M625.4 545.0h5.65M643.1 545.0h5.65M656.6 545.0h5.65M446.8 550.2h5.65M542.9 550.2h5.65M549.6 550.2h5.65M587.5 550.2h5.65M636.3 550.2h5.65M663.3 550.2h5.65M580.8 555.5h5.65M598.4 555.5h5.65M643.1 555.5h5.65M656.6 555.5h5.65M587.5 560.7h5.65M636.3 560.7h5.65M435.9 566.0h5.65M460.3 566.0h5.65M467.1 566.0h5.65M473.8 566.0h5.65M511.8 566.0h5.65M522.6 566.0h5.65M542.9 566.0h5.65M656.6 566.0h5.65M663.3 566.0h5.65" stroke="#9592c9" stroke-width="4.15"/>
<path d="M422.4 487.2h5.65M529.4 487.2h5.65M542.9 487.2h5.65M560.5 487.2h5.65M605.2 487.2h5.65M618.7 487.2h5.65M522.6 492.5h5.65M536.1 492.5h5.65M605.2 492.5h5.65M618.7 492.5h5.65M542.9 497.7h5.65M605.2 497.7h5.65M618.7 497.7h5.65M625.4 497.7h5.65M484.8 503.0h5.65M529.4 503.0h5.65M536.1 503.0h5.65M567.3 503.0h5.65M574.0 503.0h5.65M618.7 503.0h5.65M511.8 508.2h5.65M542.9 508.2h5.65M580.8 508.2h5.65M636.3 508.2h5.65M649.8 508.2h5.65M460.3 513.5h5.65M484.8 513.5h5.65M511.8 513.5h5.65M542.9 513.5h5.65M580.8 513.5h5.65M636.3 513.5h5.65M643.1 513.5h5.65M649.8 513.5h5.65M656.6 513.5h5.65M422.4 518.7h5.65M511.8 518.7h5.65M567.3 518.7h5.65M580.8 518.7h5.65M605.2 518.7h5.65M636.3 518.7h5.65M643.1 524.0h5.65M529.4 529.2h5.65M567.3 529.2h5.65M580.8 529.2h5.65M611.9 529.2h5.65M636.3 529.2h5.65M491.5 534.5h5.65M511.8 534.5h5.65M529.4 534.5h5.65M567.3 534.5h5.65M605.2 534.5h5.65M611.9 534.5h5.65M618.7 534.5h5.65M446.8 539.7h5.65M473.8 539.7h5.65M542.9 539.7h5.65M580.8 539.7h5.65M435.9 545.0h5.65M542.9 545.0h5.65M574.0 545.0h5.65M636.3 545.0h5.65M435.9 550.2h5.65M473.8 550.2h5.65M522.6 550.2h5.65M560.5 550.2h5.65M580.8 550.2h5.65M598.4 550.2h5.65M625.4 550.2h5.65M643.1 550.2h5.65M656.6 550.2h5.65M574.0 555.5h5.65M605.2 555.5h5.65M618.7 555.5h5.65M625.4 555.5h5.65M484.8 560.7h5.65M522.6 560.7h5.65M542.9 560.7h5.65M549.6 560.7h5.65M560.5 560.7h5.65M567.3 560.7h5.65M580.8 560.7h5.65M598.4 560.7h5.65M625.4 560.7h5.65M643.1 560.7h5.65M656.6 560.7h5.65M663.3 560.7h5.65M484.8 566.0h5.65M605.2 566.0h5.65M618.7 566.0h5.65" stroke="#7e76ba" stroke-width="4.15"/>
<path d="M522.6 487.2h5.65M567.3 487.2h5.65M636.3 487.2h5.65M484.8 492.5h5.65M498.2 492.5h5.65M505.0 492.5h5.65M636.3 492.5h5.65M636.3 497.7h5.65M605.2 503.0h5.65M611.9 503.0h5.65M636.3 503.0h5.65M415.7 508.2h5.65M422.4 508.2h5.65M429.2 508.2h5.65M453.6 508.2h5.65M460.3 508.2h5.65M491.5 508.2h5.65M529.4 508.2h5.65M567.3 508.2h5.65M598.4 508.2h5.65M605.2 508.2h5.65M618.7 508.2h5.65M491.5 513.5h5.65M498.2 513.5h5.65M505.0 513.5h5.65M529.4 513.5h5.65M567.3 513.5h5.65M605.2 513.5h5.65M618.7 513.5h5.65M460.3 518.7h5.65M467.1 518.7h5.65M491.5 518.7h5.65M529.4 518.7h5.65M618.7 518.7h5.65M649.8 518.7h5.65M536.1 529.2h5.65M574.0 529.2h5.65M598.4 529.2h5.65M422.4 539.7h5.65M429.2 539.7h5.65M529.4 539.7h5.65M567.3 539.7h5.65M598.4 539.7h5.65M605.2 539.7h5.65M618.7 539.7h5.65M649.8 539.7h5.65M429.2 545.0h5.65M453.6 545.0h5.65M460.3 545.0h5.65M467.1 545.0h5.65M484.8 545.0h5.65M491.5 545.0h5.65M498.2 545.0h5.65M505.0 545.0h5.65M529.4 545.0h5.65M536.1 545.0h5.65M560.5 545.0h5.65M605.2 545.0h5.65M618.7 545.0h5.65M649.8 545.0h5.65M415.7 550.2h5.65M422.4 550.2h5.65M429.2 550.2h5.65M453.6 550.2h5.65M460.3 550.2h5.65M467.1 550.2h5.65M484.8 550.2h5.65M491.5 550.2h5.65M498.2 550.2h5.65M505.0 550.2h5.65M511.8 550.2h5.65M529.4 550.2h5.65M567.3 550.2h5.65M605.2 550.2h5.65M618.7 550.2h5.65M649.8 550.2h5.65M649.8 555.5h5.65M435.9 560.7h5.65M453.6 560.7h5.65M473.8 560.7h5.65M529.4 560.7h5.65M574.0 560.7h5.65M618.7 560.7h5.65M649.8 560.7h5.65M625.4 566.0h5.65" stroke="#6a56a8" stroke-width="4.15"/>
<path d="M522.6 497.7h5.65M560.5 497.7h5.65M598.4 497.7h5.65M522.6 503.0h5.65M560.5 503.0h5.65M467.1 508.2h5.65M484.8 508.2h5.65M498.2 508.2h5.65M505.0 508.2h5.65M522.6 508.2h5.65M560.5 508.2h5.65M574.0 508.2h5.65M611.9 508.2h5.65M522.6 513.5h5.65M536.1 513.5h5.65M560.5 513.5h5.65M574.0 513.5h5.65M598.4 513.5h5.65M611.9 513.5h5.65M484.8 518.7h5.65M498.2 518.7h5.65M505.0 518.7h5.65M542.9 518.7h5.65M560.5 518.7h5.65M574.0 518.7h5.65M598.4 518.7h5.65M656.6 524.0h5.65M522.6 529.2h5.65M560.5 529.2h5.65M453.6 539.7h5.65M460.3 539.7h5.65M467.1 539.7h5.65M484.8 539.7h5.65M491.5 539.7h5.65M505.0 539.7h5.65M522.6 539.7h5.65M536.1 539.7h5.65M560.5 539.7h5.65M574.0 539.7h5.65M415.7 545.0h5.65M422.4 545.0h5.65M522.6 545.0h5.65M598.4 545.0h5.65M611.9 545.0h5.65M536.1 550.2h5.65M574.0 550.2h5.65M611.9 555.5h5.65M415.7 560.7h5.65M460.3 560.7h5.65M467.1 560.7h5.65M491.5 560.7h5.65M498.2 560.7h5.65M505.0 560.7h5.65M511.8 560.7h5.65M536.1 560.7h5.65M605.2 560.7h5.65M636.3 566.0h5.65" stroke="#5a3699" stroke-width="4.15"/>
<path d="M598.4 487.2h5.65M598.4 492.5h5.65M598.4 503.0h5.65M536.1 508.2h5.65M522.6 518.7h5.65M536.1 518.7h5.65M611.9 518.7h5.65M636.3 524.0h5.65M498.2 539.7h5.65M611.9 539.7h5.65M611.9 550.2h5.65M422.4 560.7h5.65M429.2 560.7h5.65M611.9 560.7h5.65M598.4 566.0h5.65" stroke="#4b168c" stroke-width="4.15"/>
<rect x="395.6" y="570.8" width="7" height="5.72" fill="#e3e3e1"/>
<rect x="395.6" y="576.12" width="7" height="5.72" fill="#d9dad8"/>
<rect x="395.6" y="581.44" width="7" height="5.72" fill="#d2d3d1"/>
<rect x="395.6" y="586.76" width="7" height="5.72" fill="#bfc0be"/>
<rect x="395.6" y="592.07" width="7" height="5.72" fill="#b3b4b2"/>
<rect x="395.6" y="597.39" width="7" height="5.72" fill="#aaaba9"/>
<rect x="395.6" y="602.71" width="7" height="5.72" fill="#a2a3a1"/>
<rect x="395.6" y="608.03" width="7" height="5.72" fill="#9a9b99"/>
<rect x="395.6" y="613.35" width="7" height="5.72" fill="#848786"/>
<rect x="395.6" y="618.67" width="7" height="5.72" fill="#777a79"/>
<rect x="395.6" y="623.99" width="7" height="5.72" fill="#636766"/>
<rect x="395.6" y="629.31" width="7" height="5.72" fill="#585b5b"/>
<rect x="395.6" y="634.62" width="7" height="5.72" fill="#444747"/>
<rect x="395.6" y="639.94" width="7" height="5.72" fill="#3a3c3c"/>
<rect x="395.6" y="645.26" width="7" height="5.72" fill="#2f3131"/>
<rect x="395.6" y="650.58" width="7" height="5.32" fill="#262828"/>
<path d="M408.9 574.5h5.65M422.4 574.5h5.65M446.8 574.5h5.65M453.6 574.5h5.65M460.3 574.5h5.65M491.5 574.5h5.65M498.2 574.5h5.65M505.0 574.5h5.65M511.8 574.5h5.65M536.1 574.5h5.65M549.6 574.5h5.65M574.0 574.5h5.65M587.5 574.5h5.65M611.9 574.5h5.65M649.8 574.5h5.65M663.3 574.5h5.65M408.9 579.8h5.65M429.2 579.8h5.65M435.9 579.8h5.65M460.3 579.8h5.65M473.8 579.8h5.65M511.8 579.8h5.65M529.4 579.8h5.65M549.6 579.8h5.65M611.9 579.8h5.65M649.8 579.8h5.65M663.3 579.8h5.65M408.9 585.0h5.65M429.2 585.0h5.65M435.9 585.0h5.65M446.8 585.0h5.65M453.6 585.0h5.65M467.1 585.0h5.65M473.8 585.0h5.65M491.5 585.0h5.65M498.2 585.0h5.65M505.0 585.0h5.65M511.8 585.0h5.65M611.9 585.0h5.65M649.8 585.0h5.65M408.9 590.3h5.65M429.2 590.3h5.65M435.9 590.3h5.65M446.8 590.3h5.65M453.6 590.3h5.65M460.3 590.3h5.65M467.1 590.3h5.65M473.8 590.3h5.65M491.5 590.3h5.65M498.2 590.3h5.65M505.0 590.3h5.65M511.8 590.3h5.65M649.8 590.3h5.65M435.9 595.5h5.65M663.3 595.5h5.65M408.9 600.8h5.65M429.2 600.8h5.65M435.9 600.8h5.65M453.6 600.8h5.65M473.8 600.8h5.65M415.7 606.0h5.65M435.9 606.0h5.65M663.3 606.0h5.65M408.9 611.3h5.65M429.2 611.3h5.65M435.9 611.3h5.65M446.8 611.3h5.65M453.6 611.3h5.65M460.3 611.3h5.65M473.8 611.3h5.65M491.5 611.3h5.65M498.2 611.3h5.65M529.4 611.3h5.65M536.1 611.3h5.65M663.3 611.3h5.65M643.1 616.5h5.65M663.3 616.5h5.65M408.9 621.8h5.65M415.7 621.8h5.65M429.2 621.8h5.65M435.9 621.8h5.65M446.8 621.8h5.65M453.6 621.8h5.65M460.3 621.8h5.65M467.1 621.8h5.65M498.2 621.8h5.65M505.0 621.8h5.65M598.4 621.8h5.65M611.9 621.8h5.65M408.9 627.0h5.65M415.7 627.0h5.65M435.9 627.0h5.65M473.8 627.0h5.65M511.8 627.0h5.65M663.3 627.0h5.65M663.3 632.3h5.65M636.3 637.5h5.65M636.3 642.8h5.65M643.1 642.8h5.65M408.9 648.0h5.65M636.3 648.0h5.65M429.2 653.3h5.65M453.6 653.3h5.65M460.3 653.3h5.65M467.1 653.3h5.65M491.5 653.3h5.65M498.2 653.3h5.65M505.0 653.3h5.65M529.4 653.3h5.65M536.1 653.3h5.65M542.9 653.3h5.65M611.9 653.3h5.65M649.8 653.3h5.65" stroke="#f2f1f8" stroke-width="4.15"/>
<path d="M435.9 574.5h5.65M473.8 574.5h5.65M529.4 574.5h5.65M542.9 574.5h5.65M567.3 574.5h5.65M580.8 574.5h5.65M605.2 574.5h5.65M625.4 574.5h5.65M643.1 574.5h5.65M656.6 574.5h5.65M453.6 579.8h5.65M467.1 579.8h5.65M491.5 579.8h5.65M605.2 579.8h5.65M625.4 579.8h5.65M643.1 579.8h5.65M656.6 579.8h5.65M529.4 585.0h5.65M536.1 585.0h5.65M542.9 585.0h5.65M549.6 585.0h5.65M567.3 585.0h5.65M574.0 585.0h5.65M580.8 585.0h5.65M605.2 585.0h5.65M643.1 585.0h5.65M656.6 585.0h5.65M529.4 590.3h5.65M536.1 590.3h5.65M542.9 590.3h5.65M549.6 590.3h5.65M567.3 590.3h5.65M574.0 590.3h5.65M580.8 590.3h5.65M587.5 590.3h5.65M605.2 590.3h5.65M611.9 590.3h5.65M643.1 590.3h5.65M656.6 590.3h5.65M663.3 590.3h5.65M473.8 595.5h5.65M511.8 595.5h5.65M549.6 595.5h5.65M587.5 595.5h5.65M625.4 595.5h5.65M511.8 600.8h5.65M549.6 600.8h5.65M587.5 600.8h5.65M625.4 600.8h5.65M663.3 600.8h5.65M453.6 606.0h5.65M473.8 606.0h5.65M511.8 606.0h5.65M549.6 606.0h5.65M567.3 606.0h5.65M587.5 606.0h5.65M605.2 606.0h5.65M625.4 606.0h5.65M643.1 606.0h5.65M649.8 611.3h5.65M529.4 616.5h5.65M549.6 616.5h5.65M567.3 616.5h5.65M587.5 616.5h5.65M605.2 616.5h5.65M625.4 616.5h5.65M484.8 621.8h5.65M491.5 621.8h5.65M522.6 621.8h5.65M529.4 621.8h5.65M536.1 621.8h5.65M542.9 621.8h5.65M560.5 621.8h5.65M567.3 621.8h5.65M574.0 621.8h5.65M580.8 621.8h5.65M605.2 621.8h5.65M618.7 621.8h5.65M549.6 627.0h5.65M587.5 627.0h5.65M435.9 632.3h5.65M473.8 632.3h5.65M511.8 632.3h5.65M549.6 632.3h5.65M587.5 632.3h5.65M625.4 632.3h5.65M522.6 637.5h5.65M560.5 637.5h5.65M598.4 637.5h5.65M560.5 642.8h5.65M567.3 642.8h5.65M598.4 642.8h5.65M446.8 648.0h5.65M484.8 648.0h5.65M522.6 648.0h5.65M560.5 648.0h5.65M598.4 648.0h5.65M643.1 653.3h5.65M656.6 653.3h5.65" stroke="#e3e2f1" stroke-width="4.15"/>
<path d="M618.7 574.5h5.65M618.7 579.8h5.65M618.7 585.0h5.65M618.7 590.3h5.65M625.4 590.3h5.65M643.1 611.3h5.65M625.4 627.0h5.65M605.2 642.8h5.65M605.2 653.3h5.65M618.7 653.3h5.65" stroke="#cccbe5" stroke-width="4.15"/>
<path d="M536.1 579.8h5.65M542.9 579.8h5.65M484.8 585.0h5.65M587.5 585.0h5.65M636.3 585.0h5.65M663.3 585.0h5.65M408.9 595.5h5.65M446.8 600.8h5.65M460.3 600.8h5.65M467.1 600.8h5.65M422.4 606.0h5.65M467.1 611.3h5.65M484.8 611.3h5.65M505.0 611.3h5.65M522.6 611.3h5.65M542.9 611.3h5.65M549.6 611.3h5.65M636.3 616.5h5.65M649.8 616.5h5.65M656.6 616.5h5.65M636.3 627.0h5.65M643.1 627.0h5.65M408.9 632.3h5.65M636.3 632.3h5.65M643.1 632.3h5.65M643.1 637.5h5.65M663.3 637.5h5.65M663.3 648.0h5.65M408.9 653.3h5.65M446.8 653.3h5.65M522.6 653.3h5.65M549.6 653.3h5.65" stroke="#9592c9" stroke-width="4.15"/>
<path d="M484.8 574.5h5.65M560.5 574.5h5.65M636.3 574.5h5.65M446.8 579.8h5.65M498.2 579.8h5.65M505.0 579.8h5.65M522.6 579.8h5.65M636.3 579.8h5.65M522.6 585.0h5.65M598.4 585.0h5.65M625.4 585.0h5.65M484.8 590.3h5.65M636.3 590.3h5.65M415.7 595.5h5.65M422.4 595.5h5.65M446.8 595.5h5.65M453.6 595.5h5.65M460.3 595.5h5.65M491.5 595.5h5.65M636.3 595.5h5.65M643.1 595.5h5.65M649.8 595.5h5.65M656.6 595.5h5.65M484.8 600.8h5.65M491.5 600.8h5.65M498.2 600.8h5.65M505.0 600.8h5.65M567.3 600.8h5.65M636.3 600.8h5.65M643.1 600.8h5.65M649.8 600.8h5.65M656.6 600.8h5.65M408.9 606.0h5.65M429.2 606.0h5.65M446.8 606.0h5.65M460.3 606.0h5.65M491.5 606.0h5.65M529.4 606.0h5.65M636.3 606.0h5.65M649.8 606.0h5.65M656.6 606.0h5.65M511.8 611.3h5.65M542.9 616.5h5.65M560.5 616.5h5.65M580.8 616.5h5.65M598.4 616.5h5.65M473.8 621.8h5.65M511.8 621.8h5.65M587.5 621.8h5.65M625.4 621.8h5.65M422.4 627.0h5.65M429.2 627.0h5.65M446.8 627.0h5.65M453.6 627.0h5.65M460.3 627.0h5.65M467.1 627.0h5.65M491.5 627.0h5.65M498.2 627.0h5.65M649.8 627.0h5.65M656.6 627.0h5.65M560.5 632.3h5.65M567.3 632.3h5.65M580.8 632.3h5.65M649.8 632.3h5.65M656.6 632.3h5.65M446.8 637.5h5.65M484.8 637.5h5.65M567.3 637.5h5.65M649.8 637.5h5.65M656.6 637.5h5.65M574.0 642.8h5.65M580.8 642.8h5.65M587.5 642.8h5.65M649.8 642.8h5.65M656.6 642.8h5.65M663.3 642.8h5.65M453.6 648.0h5.65M491.5 648.0h5.65M643.1 648.0h5.65M649.8 648.0h5.65M656.6 648.0h5.65M435.9 653.3h5.65M473.8 653.3h5.65M484.8 653.3h5.65M511.8 653.3h5.65M636.3 653.3h5.65M663.3 653.3h5.65" stroke="#7e76ba" stroke-width="4.15"/>
<path d="M522.6 574.5h5.65M598.4 574.5h5.65M484.8 579.8h5.65M598.4 579.8h5.65M560.5 585.0h5.65M522.6 590.3h5.65M560.5 590.3h5.65M598.4 590.3h5.65M429.2 595.5h5.65M467.1 595.5h5.65M484.8 595.5h5.65M498.2 595.5h5.65M505.0 595.5h5.65M560.5 595.5h5.65M567.3 595.5h5.65M580.8 595.5h5.65M598.4 595.5h5.65M529.4 600.8h5.65M560.5 600.8h5.65M574.0 600.8h5.65M580.8 600.8h5.65M598.4 600.8h5.65M467.1 606.0h5.65M484.8 606.0h5.65M498.2 606.0h5.65M505.0 606.0h5.65M560.5 606.0h5.65M580.8 606.0h5.65M598.4 606.0h5.65M522.6 616.5h5.65M536.1 616.5h5.65M574.0 616.5h5.65M611.9 616.5h5.65M618.7 616.5h5.65M549.6 621.8h5.65M484.8 627.0h5.65M505.0 627.0h5.65M542.9 627.0h5.65M560.5 627.0h5.65M567.3 627.0h5.65M574.0 627.0h5.65M580.8 627.0h5.65M598.4 627.0h5.65M415.7 632.3h5.65M429.2 632.3h5.65M446.8 632.3h5.65M453.6 632.3h5.65M460.3 632.3h5.65M467.1 632.3h5.65M484.8 632.3h5.65M491.5 632.3h5.65M498.2 632.3h5.65M505.0 632.3h5.65M529.4 632.3h5.65M542.9 632.3h5.65M574.0 632.3h5.65M598.4 632.3h5.65M605.2 632.3h5.65M415.7 637.5h5.65M422.4 637.5h5.65M429.2 637.5h5.65M435.9 637.5h5.65M453.6 637.5h5.65M460.3 637.5h5.65M467.1 637.5h5.65M473.8 637.5h5.65M491.5 637.5h5.65M498.2 637.5h5.65M505.0 637.5h5.65M511.8 637.5h5.65M529.4 637.5h5.65M542.9 637.5h5.65M574.0 637.5h5.65M580.8 637.5h5.65M587.5 637.5h5.65M625.4 637.5h5.65M415.7 648.0h5.65M422.4 648.0h5.65M429.2 648.0h5.65M435.9 648.0h5.65M460.3 648.0h5.65M467.1 648.0h5.65M473.8 648.0h5.65M498.2 648.0h5.65M505.0 648.0h5.65M567.3 648.0h5.65M574.0 648.0h5.65M580.8 648.0h5.65M587.5 648.0h5.65" stroke="#6a56a8" stroke-width="4.15"/>
<path d="M522.6 595.5h5.65M529.4 595.5h5.65M536.1 595.5h5.65M542.9 595.5h5.65M574.0 595.5h5.65M605.2 595.5h5.65M611.9 595.5h5.65M618.7 595.5h5.65M522.6 600.8h5.65M536.1 600.8h5.65M542.9 600.8h5.65M605.2 600.8h5.65M611.9 600.8h5.65M618.7 600.8h5.65M522.6 606.0h5.65M536.1 606.0h5.65M542.9 606.0h5.65M574.0 606.0h5.65M618.7 606.0h5.65M636.3 611.3h5.65M656.6 611.3h5.65M522.6 627.0h5.65M529.4 627.0h5.65M536.1 627.0h5.65M605.2 627.0h5.65M618.7 627.0h5.65M422.4 632.3h5.65M522.6 632.3h5.65M536.1 632.3h5.65M611.9 632.3h5.65M618.7 632.3h5.65M536.1 637.5h5.65M549.6 637.5h5.65M605.2 637.5h5.65M611.9 637.5h5.65M618.7 637.5h5.65M611.9 642.8h5.65M618.7 642.8h5.65M625.4 642.8h5.65M511.8 648.0h5.65M529.4 648.0h5.65M536.1 648.0h5.65M542.9 648.0h5.65M549.6 648.0h5.65M605.2 648.0h5.65M611.9 648.0h5.65M618.7 648.0h5.65M625.4 648.0h5.65M598.4 653.3h5.65M625.4 653.3h5.65" stroke="#5a3699" stroke-width="4.15"/>
<path d="M611.9 606.0h5.65M611.9 627.0h5.65" stroke="#4b168c" stroke-width="4.15"/>
<rect x="407.7" y="655.9" width="6.9" height="6" fill="#e8e8e6"/>
<rect x="414.3" y="655.9" width="6.9" height="6" fill="#c0c1bf"/>
<rect x="420.9" y="655.9" width="6.9" height="6" fill="#4d4f4f"/>
<rect x="427.5" y="655.9" width="6.9" height="6" fill="#3b3d3d"/>
<rect x="434.1" y="655.9" width="6.6" height="6" fill="#2b2d2d"/>
<rect x="407.7" y="662" width="33" height="5.9" fill="#1547e0"/>
<text transform="translate(413 670) rotate(-90)" text-anchor="end" font-size="6.5" fill="#222" textLength="17.9" lengthAdjust="spacingAndGlyphs">L2/3 IT</text>
<text transform="translate(419.6 670) rotate(-90)" text-anchor="end" font-size="6.5" fill="#222" textLength="26.42" lengthAdjust="spacingAndGlyphs">L4 IT|SSC</text>
<text transform="translate(426.2 670) rotate(-90)" text-anchor="end" font-size="6.5" fill="#222" textLength="27.38" lengthAdjust="spacingAndGlyphs">L4/5 IT|PC</text>
<text transform="translate(432.8 670) rotate(-90)" text-anchor="end" font-size="6.5" fill="#222" textLength="11.51" lengthAdjust="spacingAndGlyphs">L5IT</text>
<text transform="translate(439.4 670) rotate(-90)" text-anchor="end" font-size="6.5" fill="#222" textLength="11.51" lengthAdjust="spacingAndGlyphs">L6IT</text>
<rect x="445.95" y="655.9" width="6.9" height="6" fill="#e8e8e6"/>
<rect x="452.55" y="655.9" width="6.9" height="6" fill="#c0c1bf"/>
<rect x="459.15" y="655.9" width="6.9" height="6" fill="#4d4f4f"/>
<rect x="465.75" y="655.9" width="6.9" height="6" fill="#3b3d3d"/>
<rect x="472.35" y="655.9" width="6.6" height="6" fill="#2b2d2d"/>
<rect x="445.95" y="662" width="33" height="5.9" fill="#1547e0"/>
<text transform="translate(451.25 670) rotate(-90)" text-anchor="end" font-size="6.5" fill="#222" textLength="17.9" lengthAdjust="spacingAndGlyphs">L2/3 IT</text>
<text transform="translate(457.85 670) rotate(-90)" text-anchor="end" font-size="6.5" fill="#222" textLength="26.42" lengthAdjust="spacingAndGlyphs">L4 IT|SSC</text>
<text transform="translate(464.45 670) rotate(-90)" text-anchor="end" font-size="6.5" fill="#222" textLength="27.38" lengthAdjust="spacingAndGlyphs">L4/5 IT|PC</text>
<text transform="translate(471.05 670) rotate(-90)" text-anchor="end" font-size="6.5" fill="#222" textLength="11.51" lengthAdjust="spacingAndGlyphs">L5IT</text>
<text transform="translate(477.65 670) rotate(-90)" text-anchor="end" font-size="6.5" fill="#222" textLength="11.51" lengthAdjust="spacingAndGlyphs">L6IT</text>
<rect x="484.2" y="655.9" width="6.9" height="6" fill="#e8e8e6"/>
<rect x="490.8" y="655.9" width="6.9" height="6" fill="#c0c1bf"/>
<rect x="497.4" y="655.9" width="6.9" height="6" fill="#4d4f4f"/>
<rect x="504" y="655.9" width="6.9" height="6" fill="#3b3d3d"/>
<rect x="510.6" y="655.9" width="6.6" height="6" fill="#2b2d2d"/>
<rect x="484.2" y="662" width="33" height="5.9" fill="#1547e0"/>
<text transform="translate(489.5 670) rotate(-90)" text-anchor="end" font-size="6.5" fill="#222" textLength="17.9" lengthAdjust="spacingAndGlyphs">L2/3 IT</text>
<text transform="translate(496.1 670) rotate(-90)" text-anchor="end" font-size="6.5" fill="#222" textLength="26.42" lengthAdjust="spacingAndGlyphs">L4 IT|SSC</text>
<text transform="translate(502.7 670) rotate(-90)" text-anchor="end" font-size="6.5" fill="#222" textLength="27.38" lengthAdjust="spacingAndGlyphs">L4/5 IT|PC</text>
<text transform="translate(509.3 670) rotate(-90)" text-anchor="end" font-size="6.5" fill="#222" textLength="11.51" lengthAdjust="spacingAndGlyphs">L5IT</text>
<text transform="translate(515.9 670) rotate(-90)" text-anchor="end" font-size="6.5" fill="#222" textLength="11.51" lengthAdjust="spacingAndGlyphs">L6IT</text>
<rect x="522.45" y="655.9" width="6.9" height="6" fill="#e8e8e6"/>
<rect x="529.05" y="655.9" width="6.9" height="6" fill="#c0c1bf"/>
<rect x="535.65" y="655.9" width="6.9" height="6" fill="#4d4f4f"/>
<rect x="542.25" y="655.9" width="6.9" height="6" fill="#3b3d3d"/>
<rect x="548.85" y="655.9" width="6.6" height="6" fill="#2b2d2d"/>
<rect x="522.45" y="662" width="33" height="5.9" fill="#1547e0"/>
<text transform="translate(527.75 670) rotate(-90)" text-anchor="end" font-size="6.5" fill="#222" textLength="17.9" lengthAdjust="spacingAndGlyphs">L2/3 IT</text>
<text transform="translate(534.35 670) rotate(-90)" text-anchor="end" font-size="6.5" fill="#222" textLength="26.42" lengthAdjust="spacingAndGlyphs">L4 IT|SSC</text>
<text transform="translate(540.95 670) rotate(-90)" text-anchor="end" font-size="6.5" fill="#222" textLength="27.38" lengthAdjust="spacingAndGlyphs">L4/5 IT|PC</text>
<text transform="translate(547.55 670) rotate(-90)" text-anchor="end" font-size="6.5" fill="#222" textLength="11.51" lengthAdjust="spacingAndGlyphs">L5IT</text>
<text transform="translate(554.15 670) rotate(-90)" text-anchor="end" font-size="6.5" fill="#222" textLength="11.51" lengthAdjust="spacingAndGlyphs">L6IT</text>
<rect x="560.7" y="655.9" width="6.9" height="6" fill="#e8e8e6"/>
<rect x="567.3" y="655.9" width="6.9" height="6" fill="#c0c1bf"/>
<rect x="573.9" y="655.9" width="6.9" height="6" fill="#4d4f4f"/>
<rect x="580.5" y="655.9" width="6.9" height="6" fill="#3b3d3d"/>
<rect x="587.1" y="655.9" width="6.6" height="6" fill="#2b2d2d"/>
<rect x="560.7" y="662" width="33" height="5.9" fill="#1547e0"/>
<text transform="translate(566 670) rotate(-90)" text-anchor="end" font-size="6.5" fill="#222" textLength="17.9" lengthAdjust="spacingAndGlyphs">L2/3 IT</text>
<text transform="translate(572.6 670) rotate(-90)" text-anchor="end" font-size="6.5" fill="#222" textLength="26.42" lengthAdjust="spacingAndGlyphs">L4 IT|SSC</text>
<text transform="translate(579.2 670) rotate(-90)" text-anchor="end" font-size="6.5" fill="#222" textLength="27.38" lengthAdjust="spacingAndGlyphs">L4/5 IT|PC</text>
<text transform="translate(585.8 670) rotate(-90)" text-anchor="end" font-size="6.5" fill="#222" textLength="11.51" lengthAdjust="spacingAndGlyphs">L5IT</text>
<text transform="translate(592.4 670) rotate(-90)" text-anchor="end" font-size="6.5" fill="#222" textLength="11.51" lengthAdjust="spacingAndGlyphs">L6IT</text>
<rect x="598.95" y="655.9" width="6.9" height="6" fill="#e8e8e6"/>
<rect x="605.55" y="655.9" width="6.9" height="6" fill="#c0c1bf"/>
<rect x="612.15" y="655.9" width="6.9" height="6" fill="#4d4f4f"/>
<rect x="618.75" y="655.9" width="6.9" height="6" fill="#3b3d3d"/>
<rect x="625.35" y="655.9" width="6.6" height="6" fill="#2b2d2d"/>
<rect x="598.95" y="662" width="33" height="5.9" fill="#1547e0"/>
<text transform="translate(604.25 670) rotate(-90)" text-anchor="end" font-size="6.5" fill="#222" textLength="17.9" lengthAdjust="spacingAndGlyphs">L2/3 IT</text>
<text transform="translate(610.85 670) rotate(-90)" text-anchor="end" font-size="6.5" fill="#222" textLength="26.42" lengthAdjust="spacingAndGlyphs">L4 IT|SSC</text>
<text transform="translate(617.45 670) rotate(-90)" text-anchor="end" font-size="6.5" fill="#222" textLength="27.38" lengthAdjust="spacingAndGlyphs">L4/5 IT|PC</text>
<text transform="translate(624.05 670) rotate(-90)" text-anchor="end" font-size="6.5" fill="#222" textLength="11.51" lengthAdjust="spacingAndGlyphs">L5IT</text>
<text transform="translate(630.65 670) rotate(-90)" text-anchor="end" font-size="6.5" fill="#222" textLength="11.51" lengthAdjust="spacingAndGlyphs">L6IT</text>
<rect x="637.2" y="655.9" width="6.9" height="6" fill="#e8e8e6"/>
<rect x="643.8" y="655.9" width="6.9" height="6" fill="#c0c1bf"/>
<rect x="650.4" y="655.9" width="6.9" height="6" fill="#4d4f4f"/>
<rect x="657" y="655.9" width="6.9" height="6" fill="#3b3d3d"/>
<rect x="663.6" y="655.9" width="6.6" height="6" fill="#2b2d2d"/>
<rect x="637.2" y="662" width="33" height="5.9" fill="#1547e0"/>
<text transform="translate(642.5 670) rotate(-90)" text-anchor="end" font-size="6.5" fill="#222" textLength="17.9" lengthAdjust="spacingAndGlyphs">L2/3 IT</text>
<text transform="translate(649.1 670) rotate(-90)" text-anchor="end" font-size="6.5" fill="#222" textLength="26.42" lengthAdjust="spacingAndGlyphs">L4 IT|SSC</text>
<text transform="translate(655.7 670) rotate(-90)" text-anchor="end" font-size="6.5" fill="#222" textLength="27.38" lengthAdjust="spacingAndGlyphs">L4/5 IT|PC</text>
<text transform="translate(662.3 670) rotate(-90)" text-anchor="end" font-size="6.5" fill="#222" textLength="11.51" lengthAdjust="spacingAndGlyphs">L5IT</text>
<text transform="translate(668.9 670) rotate(-90)" text-anchor="end" font-size="6.5" fill="#222" textLength="11.51" lengthAdjust="spacingAndGlyphs">L6IT</text>
<text transform="translate(674.2 519.5) rotate(90)" text-anchor="middle" font-size="6.67" fill="#222" textLength="22.3" lengthAdjust="spacingAndGlyphs">Epilepsy</text>
<text transform="translate(674.2 603.9) rotate(90)" text-anchor="middle" font-size="6.67" fill="#222" textLength="18.03" lengthAdjust="spacingAndGlyphs">Autism</text>
<text transform="translate(388.5 576.9) rotate(-90)" text-anchor="middle" font-size="6.38" fill="#222" textLength="79.96" lengthAdjust="spacingAndGlyphs">Receptor-expressing (TARGET)</text>
<text x="20.4" y="663.8" font-size="6.67" fill="#111" textLength="59.03" lengthAdjust="spacingAndGlyphs">% of total LR Ontology</text>
<text x="20.4" y="670.6" font-size="6.67" fill="#111" textLength="50.5" lengthAdjust="spacingAndGlyphs">Norm by Dev stage</text>
<rect x="9.2" y="673" width="72.9" height="5.3" fill="url(#gpur)"/>
<line x1="16.49" y1="673" x2="16.49" y2="674" stroke="#ffffff" stroke-width="0.5"/>
<line x1="16.49" y1="677.3" x2="16.49" y2="678.3" stroke="#ffffff" stroke-width="0.5"/>
<text transform="translate(16.09 679.2) rotate(90)" font-size="6.21" fill="#222" textLength="11.01" lengthAdjust="spacingAndGlyphs">10%</text>
<line x1="23.78" y1="673" x2="23.78" y2="674" stroke="#ffffff" stroke-width="0.5"/>
<line x1="23.78" y1="677.3" x2="23.78" y2="678.3" stroke="#ffffff" stroke-width="0.5"/>
<text transform="translate(23.38 679.2) rotate(90)" font-size="6.21" fill="#222" textLength="11.01" lengthAdjust="spacingAndGlyphs">20%</text>
<line x1="31.07" y1="673" x2="31.07" y2="674" stroke="#ffffff" stroke-width="0.5"/>
<line x1="31.07" y1="677.3" x2="31.07" y2="678.3" stroke="#ffffff" stroke-width="0.5"/>
<text transform="translate(30.67 679.2) rotate(90)" font-size="6.21" fill="#222" textLength="11.01" lengthAdjust="spacingAndGlyphs">30%</text>
<line x1="38.36" y1="673" x2="38.36" y2="674" stroke="#ffffff" stroke-width="0.5"/>
<line x1="38.36" y1="677.3" x2="38.36" y2="678.3" stroke="#ffffff" stroke-width="0.5"/>
<text transform="translate(37.96 679.2) rotate(90)" font-size="6.21" fill="#222" textLength="11.01" lengthAdjust="spacingAndGlyphs">40%</text>
<line x1="52.94" y1="673" x2="52.94" y2="674" stroke="#ffffff" stroke-width="0.5"/>
<line x1="52.94" y1="677.3" x2="52.94" y2="678.3" stroke="#ffffff" stroke-width="0.5"/>
<text transform="translate(52.54 679.2) rotate(90)" font-size="6.21" fill="#222" textLength="11.01" lengthAdjust="spacingAndGlyphs">60%</text>
<line x1="67.52" y1="673" x2="67.52" y2="674" stroke="#ffffff" stroke-width="0.5"/>
<line x1="67.52" y1="677.3" x2="67.52" y2="678.3" stroke="#ffffff" stroke-width="0.5"/>
<text transform="translate(67.12 679.2) rotate(90)" font-size="6.21" fill="#222" textLength="11.01" lengthAdjust="spacingAndGlyphs">80%</text>
<text transform="translate(81.7 679.2) rotate(90)" font-size="6.21" fill="#222" textLength="14.07" lengthAdjust="spacingAndGlyphs">100%</text>
<text x="220.5" y="703" text-anchor="middle" font-size="6.75" fill="#222" textLength="79.97" lengthAdjust="spacingAndGlyphs">Ligand-expressing (SOURCE)</text>
<text x="542.5" y="703" text-anchor="middle" font-size="6.75" fill="#222" textLength="79.97" lengthAdjust="spacingAndGlyphs">Ligand-expressing (SOURCE)</text>
<rect x="87.6" y="837.2" width="108.4" height="43.8" fill="#e3e3e3"/>
<line x1="93.1" y1="754.2" x2="93.1" y2="834.5" stroke="#222" stroke-width="0.7"/>
<line x1="93.1" y1="834.4" x2="196" y2="834.4" stroke="#222" stroke-width="0.7"/>
<line x1="91.3" y1="758.9" x2="93.1" y2="758.9" stroke="#222" stroke-width="0.6"/>
<text x="90.5" y="760.7" text-anchor="end" font-size="5.76" fill="#333" textLength="8.51" lengthAdjust="spacingAndGlyphs">150</text>
<line x1="91.3" y1="783.8" x2="93.1" y2="783.8" stroke="#222" stroke-width="0.6"/>
<text x="90.5" y="785.6" text-anchor="end" font-size="5.76" fill="#333" textLength="8.51" lengthAdjust="spacingAndGlyphs">100</text>
<line x1="91.3" y1="810" x2="93.1" y2="810" stroke="#222" stroke-width="0.6"/>
<text x="90.5" y="811.8" text-anchor="end" font-size="5.76" fill="#333" textLength="5.67" lengthAdjust="spacingAndGlyphs">50</text>
<line x1="91.3" y1="834.4" x2="93.1" y2="834.4" stroke="#222" stroke-width="0.6"/>
<text x="90.5" y="836.2" text-anchor="end" font-size="5.76" fill="#333" textLength="2.84" lengthAdjust="spacingAndGlyphs">0</text>
<text transform="translate(75.6 794.4) rotate(-90)" text-anchor="middle" font-size="6.55" fill="#222" textLength="41.91" lengthAdjust="spacingAndGlyphs">Intersection size</text>
<rect x="100" y="764.8" width="3.8" height="69.6" fill="#111"/>
<rect x="109.7" y="772.6" width="3.8" height="61.8" fill="#111"/>
<rect x="119.4" y="815.9" width="3.8" height="18.5" fill="#111"/>
<rect x="129" y="826.7" width="3.8" height="7.7" fill="#111"/>
<rect x="138.8" y="829.8" width="3.8" height="4.6" fill="#111"/>
<rect x="148.6" y="830.5" width="3.8" height="3.9" fill="#111"/>
<rect x="158.4" y="833" width="3.8" height="1.4" fill="#111"/>
<rect x="168.3" y="833.3" width="3.8" height="1.1" fill="#111"/>
<rect x="175.8" y="833.4" width="3.8" height="1" fill="#111"/>
<rect x="185.2" y="833.4" width="3.8" height="1" fill="#111"/>
<circle cx="101.9" cy="842.9" r="1.05" fill="#111"/>
<circle cx="111.6" cy="877.6" r="1.05" fill="#111"/>
<circle cx="121.3" cy="855" r="1.05" fill="#111"/>
<line x1="130.9" y1="842.9" x2="130.9" y2="866" stroke="#222" stroke-width="0.7"/>
<circle cx="130.9" cy="842.9" r="1.05" fill="#111"/>
<circle cx="130.9" cy="866" r="1.05" fill="#111"/>
<circle cx="140.7" cy="866" r="1.05" fill="#111"/>
<line x1="150.5" y1="842.9" x2="150.5" y2="877.6" stroke="#222" stroke-width="0.7"/>
<circle cx="150.5" cy="842.9" r="1.05" fill="#111"/>
<circle cx="150.5" cy="877.6" r="1.05" fill="#111"/>
<line x1="160.3" y1="842.9" x2="160.3" y2="877.6" stroke="#222" stroke-width="0.7"/>
<circle cx="160.3" cy="842.9" r="1.05" fill="#111"/>
<circle cx="160.3" cy="866" r="1.05" fill="#111"/>
<circle cx="160.3" cy="877.6" r="1.05" fill="#111"/>
<line x1="170.2" y1="866" x2="170.2" y2="877.6" stroke="#222" stroke-width="0.7"/>
<circle cx="170.2" cy="866" r="1.05" fill="#111"/>
<circle cx="170.2" cy="877.6" r="1.05" fill="#111"/>
<line x1="177.7" y1="855" x2="177.7" y2="877.6" stroke="#222" stroke-width="0.7"/>
<circle cx="177.7" cy="855" r="1.05" fill="#111"/>
<circle cx="177.7" cy="877.6" r="1.05" fill="#111"/>
<line x1="187.1" y1="855" x2="187.1" y2="877.6" stroke="#222" stroke-width="0.7"/>
<circle cx="187.1" cy="855" r="1.05" fill="#111"/>
<circle cx="187.1" cy="866" r="1.05" fill="#111"/>
<circle cx="187.1" cy="877.6" r="1.05" fill="#111"/>
<text x="84.2" y="844.7" text-anchor="end" font-size="5.88" fill="#444" textLength="5.2" lengthAdjust="spacingAndGlyphs">ID</text>
<text x="84.2" y="856.8" text-anchor="end" font-size="5.88" fill="#444" textLength="10.4" lengthAdjust="spacingAndGlyphs">SCZ</text>
<text x="84.2" y="867.8" text-anchor="end" font-size="5.88" fill="#444" textLength="19.66" lengthAdjust="spacingAndGlyphs">Epilepsy</text>
<text x="84.2" y="879.4" text-anchor="end" font-size="5.88" fill="#444" textLength="15.89" lengthAdjust="spacingAndGlyphs">Autism</text>
<rect x="11.4" y="838.3" width="50.6" height="5.1" fill="#050505"/>
<rect x="50.1" y="850.4" width="11.9" height="5.1" fill="#050505"/>
<rect x="51.5" y="861.4" width="10.5" height="5.1" fill="#050505"/>
<rect x="19" y="873" width="43" height="5.1" fill="#050505"/>
<line x1="14.6" y1="880" x2="63" y2="880" stroke="#222" stroke-width="0.6"/>
<line x1="17.5" y1="880" x2="17.5" y2="881.4" stroke="#222" stroke-width="0.6"/>
<text x="17.5" y="888" text-anchor="middle" font-size="5.76" fill="#333" textLength="8.51" lengthAdjust="spacingAndGlyphs">150</text>
<line x1="38" y1="880" x2="38" y2="881.4" stroke="#222" stroke-width="0.6"/>
<text x="38" y="888" text-anchor="middle" font-size="5.76" fill="#333" textLength="5.67" lengthAdjust="spacingAndGlyphs">75</text>
<line x1="62.3" y1="880" x2="62.3" y2="881.4" stroke="#222" stroke-width="0.6"/>
<text x="62.3" y="888" text-anchor="middle" font-size="5.76" fill="#333" textLength="2.84" lengthAdjust="spacingAndGlyphs">0</text>
<text x="35.8" y="899.8" text-anchor="middle" font-size="5.88" fill="#333" textLength="19.37" lengthAdjust="spacingAndGlyphs">Set Size</text>
<text x="505.4" y="730.4" font-size="6.67" font-weight="bold" fill="#111" textLength="79.24" lengthAdjust="spacingAndGlyphs">Top 20 Biological processes</text>
<text x="638.5" y="732" text-anchor="middle" font-size="6.33" fill="#222" textLength="30.81" lengthAdjust="spacingAndGlyphs">-log10(FDR)</text>
<line x1="596.8" y1="743.2" x2="685" y2="743.2" stroke="#222" stroke-width="0.7"/>
<line x1="597.3" y1="741.4" x2="597.3" y2="743.2" stroke="#222" stroke-width="0.6"/>
<text x="597.3" y="740.2" text-anchor="middle" font-size="6.33" fill="#222" textLength="3.11" lengthAdjust="spacingAndGlyphs">0</text>
<line x1="617.15" y1="741.4" x2="617.15" y2="743.2" stroke="#222" stroke-width="0.6"/>
<text x="617.15" y="740.2" text-anchor="middle" font-size="6.33" fill="#222" textLength="6.23" lengthAdjust="spacingAndGlyphs">10</text>
<line x1="637" y1="741.4" x2="637" y2="743.2" stroke="#222" stroke-width="0.6"/>
<text x="637" y="740.2" text-anchor="middle" font-size="6.33" fill="#222" textLength="6.23" lengthAdjust="spacingAndGlyphs">20</text>
<line x1="656.85" y1="741.4" x2="656.85" y2="743.2" stroke="#222" stroke-width="0.6"/>
<text x="656.85" y="740.2" text-anchor="middle" font-size="6.33" fill="#222" textLength="6.23" lengthAdjust="spacingAndGlyphs">30</text>
<line x1="676.7" y1="741.4" x2="676.7" y2="743.2" stroke="#222" stroke-width="0.6"/>
<text x="676.7" y="740.2" text-anchor="middle" font-size="6.33" fill="#222" textLength="6.23" lengthAdjust="spacingAndGlyphs">40</text>
<rect x="596.8" y="745.7" width="52.3" height="5" fill="#050505"/>
<text x="593.2" y="750.2" text-anchor="end" font-size="6.44" fill="#222" textLength="56.72" lengthAdjust="spacingAndGlyphs">Generation of neurons</text>
<rect x="596.8" y="754.11" width="52.3" height="5" fill="#050505"/>
<text x="593.2" y="758.61" text-anchor="end" font-size="6.44" fill="#222" textLength="79.22" lengthAdjust="spacingAndGlyphs">Neuron projection development</text>
<rect x="596.8" y="762.52" width="52.3" height="5" fill="#050505"/>
<text x="593.2" y="767.02" text-anchor="end" font-size="6.44" fill="#222" textLength="54.4" lengthAdjust="spacingAndGlyphs">Neuron differentiation</text>
<rect x="596.8" y="770.93" width="52.9" height="5" fill="#050505"/>
<text x="593.2" y="775.43" text-anchor="end" font-size="6.44" fill="#222" textLength="56.71" lengthAdjust="spacingAndGlyphs">Cell junction assembly</text>
<rect x="596.8" y="779.34" width="52.9" height="5" fill="#050505"/>
<text x="593.2" y="783.84" text-anchor="end" font-size="6.44" fill="#222" textLength="52.92" lengthAdjust="spacingAndGlyphs">Neuron development</text>
<rect x="596.8" y="787.75" width="54.4" height="5" fill="#050505"/>
<text x="593.2" y="792.25" text-anchor="end" font-size="6.44" fill="#222" textLength="114.37" lengthAdjust="spacingAndGlyphs">Modulation of chemical synaptic transmission</text>
<rect x="596.8" y="796.16" width="56.2" height="5" fill="#050505"/>
<text x="593.2" y="800.66" text-anchor="end" font-size="6.44" fill="#222" textLength="92.51" lengthAdjust="spacingAndGlyphs">Anatomical structure morphogenesis</text>
<rect x="596.8" y="804.57" width="56.2" height="5" fill="#050505"/>
<text x="593.2" y="809.07" text-anchor="end" font-size="6.44" fill="#222" textLength="47.84" lengthAdjust="spacingAndGlyphs">Synapse assembly</text>
<rect x="596.8" y="812.98" width="56.8" height="5" fill="#050505"/>
<text x="593.2" y="817.48" text-anchor="end" font-size="6.44" fill="#222" textLength="61.25" lengthAdjust="spacingAndGlyphs">Trans-synaptic signaling</text>
<rect x="596.8" y="821.39" width="56.8" height="5" fill="#050505"/>
<text x="593.2" y="825.89" text-anchor="end" font-size="6.44" fill="#222" textLength="85.56" lengthAdjust="spacingAndGlyphs">Regulation of membrane potential</text>
<rect x="596.8" y="829.8" width="57.7" height="5" fill="#050505"/>
<text x="593.2" y="834.3" text-anchor="end" font-size="6.44" fill="#222" textLength="102.97" lengthAdjust="spacingAndGlyphs">Cell-cell adhesion via plasma-membrane</text>
<rect x="596.8" y="838.21" width="57.7" height="5" fill="#050505"/>
<text x="593.2" y="842.71" text-anchor="end" font-size="6.44" fill="#222" textLength="35.17" lengthAdjust="spacingAndGlyphs">Neurogenesis</text>
<rect x="596.8" y="846.62" width="57.7" height="5" fill="#050505"/>
<text x="593.2" y="851.12" text-anchor="end" font-size="6.44" fill="#222" textLength="50.38" lengthAdjust="spacingAndGlyphs">Cell morphogenesis</text>
<rect x="596.8" y="855.03" width="58.6" height="5" fill="#050505"/>
<text x="593.2" y="859.53" text-anchor="end" font-size="6.44" fill="#222" textLength="86.18" lengthAdjust="spacingAndGlyphs">Anatomical structure development</text>
<rect x="596.8" y="863.44" width="61" height="5" fill="#050505"/>
<text x="593.2" y="867.94" text-anchor="end" font-size="6.44" fill="#222" textLength="54.82" lengthAdjust="spacingAndGlyphs">Synapse organization</text>
<rect x="596.8" y="871.85" width="62.2" height="5" fill="#050505"/>
<text x="593.2" y="876.35" text-anchor="end" font-size="6.44" fill="#222" textLength="44.99" lengthAdjust="spacingAndGlyphs">Cell-cell adhesion</text>
<rect x="596.8" y="880.26" width="62.5" height="5" fill="#050505"/>
<text x="593.2" y="884.76" text-anchor="end" font-size="6.44" fill="#222" textLength="34.54" lengthAdjust="spacingAndGlyphs">Cell adhesion</text>
<rect x="596.8" y="888.67" width="62.5" height="5" fill="#050505"/>
<text x="593.2" y="893.17" text-anchor="end" font-size="6.44" fill="#222" textLength="53.23" lengthAdjust="spacingAndGlyphs">System development</text>
<rect x="596.8" y="897.08" width="63.4" height="5" fill="#050505"/>
<text x="593.2" y="901.58" text-anchor="end" font-size="6.44" fill="#222" textLength="89.34" lengthAdjust="spacingAndGlyphs">Multicellular organism development</text>
<rect x="596.8" y="905.49" width="65.8" height="5" fill="#050505"/>
<text x="593.2" y="909.99" text-anchor="end" font-size="6.44" fill="#222" textLength="63.69" lengthAdjust="spacingAndGlyphs">Cell junction organization</text>
<rect x="596.8" y="913.9" width="80.7" height="5" fill="#050505"/>
<text x="593.2" y="918.4" text-anchor="end" font-size="6.44" fill="#222" textLength="75.08" lengthAdjust="spacingAndGlyphs">Nervous system development</text>
<path d="M273.0 781.4L266.9 731.5M273.0 781.4L256.9 733.2M273.0 781.4L275.8 735.1M273.0 781.4L246.9 734.4M273.0 781.4L248.4 743.0M273.0 781.4L236.7 740.5M273.0 781.4L264.7 741.3M273.0 781.4L258.3 749.7M273.0 781.4L223.1 753.4M273.0 781.4L244.7 752.2M273.0 781.4L262.0 754.0M273.0 781.4L234.5 756.2M273.0 781.4L218.5 762.0M273.0 781.4L227.7 765.4M273.0 781.4L250.6 762.0M273.0 781.4L239.3 767.1M273.0 781.4L216.0 771.2M273.0 781.4L229.1 776.0M273.0 781.4L218.2 779.2M273.0 781.4L241.1 780.0M273.0 781.4L250.4 781.7M273.0 781.4L216.0 788.2M273.0 781.4L228.0 786.8M273.0 781.4L244.5 791.9M273.0 781.4L232.0 796.3M273.0 781.4L219.9 796.7M273.0 781.4L225.8 805.0M273.0 781.4L241.1 803.6M273.0 781.4L252.8 807.7M273.0 781.4L259.9 814.1M273.0 781.4L233.8 811.6M273.0 781.4L245.2 815.3M324.4 776.0L335.5 732.5M324.4 776.0L346.0 737.3M273.0 781.4L296.0 747.8M324.4 776.0L296.0 747.8M273.0 781.4L304.7 748.3M324.4 776.0L304.7 748.3M273.0 781.4L309.2 754.7M324.4 776.0L309.2 754.7M324.4 776.0L323.2 756.9M273.0 781.4L289.1 754.4M324.4 776.0L289.1 754.4M273.0 781.4L298.6 755.1M324.4 776.0L298.6 755.1M273.0 781.4L307.3 762.9M324.4 776.0L307.3 762.9M273.0 781.4L287.9 763.2M324.4 776.0L287.9 763.2M273.0 781.4L297.4 763.6M324.4 776.0L297.4 763.6M273.0 781.4L290.1 773.1M324.4 776.0L290.1 773.1M273.0 781.4L300.3 773.1M324.4 776.0L300.3 773.1M273.0 781.4L293.6 782.9M324.4 776.0L293.6 782.9M324.4 776.0L341.8 793.5M390.5 856.7L341.8 793.5M324.4 776.0L338.3 802.6M390.5 856.7L338.3 802.6M324.4 776.0L367.9 803.4M390.5 856.7L367.9 803.4M273.0 781.4L329.8 806.6M390.5 856.7L329.8 806.6M324.4 776.0L335.4 805.1M390.5 856.7L335.4 805.1M273.0 781.4L327.0 811.4M390.5 856.7L327.0 811.4M324.4 776.0L333.9 809.9M390.5 856.7L333.9 809.9M324.4 776.0L363.1 807.4M390.5 856.7L363.1 807.4M390.5 856.7L334.6 819.1M324.4 776.0L358.7 812.8M390.5 856.7L358.7 812.8M273.0 781.4L323.0 821.6M390.5 856.7L323.0 821.6M273.0 781.4L329.2 820.6M390.5 856.7L329.2 820.6M390.5 856.7L323.2 827.4M390.5 856.7L328.5 826.7M390.5 856.7L318.9 830.4M390.5 856.7L376.2 840.1M390.5 856.7L401.6 811.8M390.5 856.7L413.7 811.4M390.5 856.7L423.0 814.4M390.5 856.7L402.2 821.3M390.5 856.7L414.1 821.7M390.5 856.7L430.7 819.7M390.5 856.7L434.0 817.2M390.5 856.7L452.1 821.8M390.5 856.7L421.5 828.5M390.5 856.7L439.4 823.6M390.5 856.7L431.5 831.1M390.5 856.7L444.3 832.5M390.5 856.7L396.9 832.3M390.5 856.7L413.7 837.0M390.5 856.7L400.3 839.0M390.5 856.7L439.9 840.3M390.5 856.7L449.9 841.0M390.5 856.7L458.6 843.9M390.5 856.7L406.7 847.4M390.5 856.7L411.8 857.8M390.5 856.7L422.6 849.5M390.5 856.7L451.9 850.2M390.5 856.7L444.9 856.8M390.5 856.7L438.4 848.9M390.5 856.7L452.2 862.0M390.5 856.7L422.7 866.7M390.5 856.7L439.7 866.0M390.5 856.7L450.7 870.3M390.5 856.7L412.0 857.6M390.5 856.7L432.4 873.7M390.5 856.7L433.0 872.8M390.5 856.7L444.9 876.6M390.5 856.7L417.1 876.9M390.5 856.7L402.2 874.0M390.5 856.7L431.0 883.9M390.5 856.7L442.7 883.5M390.5 856.7L420.8 886.4M390.5 856.7L438.7 892.2M390.5 856.7L429.5 894.4M390.5 856.7L414.9 894.7M390.5 856.7L441.0 899.8M390.5 856.7L423.7 901.4M390.5 856.7L413.9 904.9M390.5 856.7L400.8 908.3M390.5 856.7L389.1 908.3M390.5 856.7L394.5 898.1M390.5 856.7L405.4 898.8M390.5 856.7L361.3 851.8M390.5 856.7L356.2 865.3M390.5 856.7L368.6 862.8M390.5 856.7L346.0 866.8M390.5 856.7L346.0 877.7M390.5 856.7L358.4 877.0M390.5 856.7L376.2 874.8M390.5 856.7L366.4 884.3M390.5 856.7L379.6 887.2M390.5 856.7L392.0 885.0M390.5 856.7L350.8 885.3M390.5 856.7L352.6 894.5M390.5 856.7L362.0 894.5M390.5 856.7L373.0 896.4M390.5 856.7L371.4 895.6M390.5 856.7L365.7 903.7M390.5 856.7L377.1 907.2M390.5 856.7L384.4 898.9M390.5 856.7L388.8 908.4M390.5 856.7L388.9 915.6M270.4 888.3L321.9 901.1M390.5 856.7L321.9 901.1M270.4 888.3L320.1 909.9M390.5 856.7L320.1 909.9M270.4 888.3L252.9 857.1M270.4 888.3L244.1 866.5M270.4 888.3L247.8 877.4M270.4 888.3L238.2 883.4M270.4 888.3L239.7 895.4M270.4 888.3L240.2 908.1" stroke="#dcdcdc" stroke-width="0.35" fill="none"/>
<text x="273.9" y="725.2" text-anchor="middle" font-size="5.4" font-style="italic" fill="#2a2a2a" textLength="20.9" lengthAdjust="spacingAndGlyphs">Pdgfb_Igf1r</text>
<text x="244" y="729.5" text-anchor="middle" font-size="5.4" font-style="italic" fill="#2a2a2a" textLength="22.47" lengthAdjust="spacingAndGlyphs">Pdgfb_Ntrk2</text>
<text x="283.4" y="733.5" text-anchor="middle" font-size="5.4" font-style="italic" fill="#2a2a2a" textLength="16.85" lengthAdjust="spacingAndGlyphs">Bdnf_Ret</text>
<text x="235.3" y="737.1" text-anchor="middle" font-size="5.4" font-style="italic" fill="#2a2a2a" textLength="20" lengthAdjust="spacingAndGlyphs">Fgf12_Egfr</text>
<text x="257.2" y="738.6" text-anchor="middle" font-size="5.4" font-style="italic" fill="#2a2a2a" textLength="20.22" lengthAdjust="spacingAndGlyphs">Pdgfb_Egfr</text>
<text x="217.7" y="743.4" text-anchor="middle" font-size="5.4" font-style="italic" fill="#2a2a2a" textLength="29.66" lengthAdjust="spacingAndGlyphs">Nectin1_Nectin1</text>
<text x="274.7" y="745.2" text-anchor="middle" font-size="5.4" font-style="italic" fill="#2a2a2a" textLength="28.09" lengthAdjust="spacingAndGlyphs">Adam17_Erbb4</text>
<text x="252.8" y="748.1" text-anchor="middle" font-size="5.4" font-style="italic" fill="#2a2a2a" textLength="20.22" lengthAdjust="spacingAndGlyphs">Bdnf_Ntrk2</text>
<text x="212.6" y="752.2" text-anchor="middle" font-size="5.4" font-style="italic" fill="#2a2a2a" textLength="18.65" lengthAdjust="spacingAndGlyphs">Bdnf_Fgf2</text>
<text x="234.5" y="752.9" text-anchor="middle" font-size="5.4" font-style="italic" fill="#2a2a2a" textLength="22.25" lengthAdjust="spacingAndGlyphs">Pdgfb_Fgfr2</text>
<text x="274.7" y="753.2" text-anchor="middle" font-size="5.4" font-style="italic" fill="#2a2a2a" textLength="23.6" lengthAdjust="spacingAndGlyphs">Pdgfb_Erbb4</text>
<text x="250.6" y="758" text-anchor="middle" font-size="5.4" font-style="italic" fill="#2a2a2a" textLength="20.22" lengthAdjust="spacingAndGlyphs">Bdnf_Sort1</text>
<text x="207.5" y="763.4" text-anchor="middle" font-size="5.4" font-style="italic" fill="#2a2a2a" textLength="20.45" lengthAdjust="spacingAndGlyphs">Agrn_Dag1</text>
<text x="230.1" y="761.2" text-anchor="middle" font-size="5.4" font-style="italic" fill="#2a2a2a" textLength="18.42" lengthAdjust="spacingAndGlyphs">Igf1r_Fgf1</text>
<text x="263" y="762" text-anchor="middle" font-size="5.4" font-style="italic" fill="#2a2a2a" textLength="20.22" lengthAdjust="spacingAndGlyphs">Bdnf_Gnas</text>
<text x="253.5" y="767.8" text-anchor="middle" font-size="5.4" font-style="italic" fill="#2a2a2a" textLength="21.8" lengthAdjust="spacingAndGlyphs">Bdnf_Gabrb</text>
<text x="204.6" y="772.6" text-anchor="middle" font-size="5.4" font-style="italic" fill="#2a2a2a" textLength="18.87" lengthAdjust="spacingAndGlyphs">Igf1r_Gja1</text>
<text x="239.6" y="774.7" text-anchor="middle" font-size="5.4" font-style="italic" fill="#2a2a2a" textLength="17.98" lengthAdjust="spacingAndGlyphs">Bdnf_Egfr</text>
<text x="208.2" y="780.2" text-anchor="middle" font-size="5.4" font-style="italic" fill="#2a2a2a" textLength="17.75" lengthAdjust="spacingAndGlyphs">Igf1r_Egfr</text>
<text x="229.4" y="784.1" text-anchor="middle" font-size="5.4" font-style="italic" fill="#2a2a2a" textLength="18.65" lengthAdjust="spacingAndGlyphs">Bdnf_Igf1r</text>
<text x="256.4" y="780.9" text-anchor="middle" font-size="5.4" font-style="italic" fill="#2a2a2a" textLength="19.77" lengthAdjust="spacingAndGlyphs">Fgf2_Fgfr1</text>
<text x="202.4" y="789.9" text-anchor="middle" font-size="5.4" font-style="italic" fill="#2a2a2a" textLength="29.88" lengthAdjust="spacingAndGlyphs">Adamts2_Cdsn1</text>
<text x="233.1" y="795.1" text-anchor="middle" font-size="5.4" font-style="italic" fill="#2a2a2a" textLength="19.99" lengthAdjust="spacingAndGlyphs">Fgf2_Ntrk1</text>
<text x="261.5" y="796.5" text-anchor="middle" font-size="5.4" font-style="italic" fill="#2a2a2a" textLength="20.67" lengthAdjust="spacingAndGlyphs">Fgf12_Fgf2</text>
<text x="209" y="801.6" text-anchor="middle" font-size="5.4" font-style="italic" fill="#2a2a2a" textLength="22.02" lengthAdjust="spacingAndGlyphs">Fgf12_Fgfr1</text>
<text x="217" y="811.1" text-anchor="middle" font-size="5.4" font-style="italic" fill="#2a2a2a" textLength="23.6" lengthAdjust="spacingAndGlyphs">Agrn_Atp1a3</text>
<text x="246.9" y="808.9" text-anchor="middle" font-size="5.4" font-style="italic" fill="#2a2a2a" textLength="24.05" lengthAdjust="spacingAndGlyphs">Bdnf_Gabrb3</text>
<text x="265.9" y="813.3" text-anchor="middle" font-size="5.4" font-style="italic" fill="#2a2a2a" textLength="21.79" lengthAdjust="spacingAndGlyphs">Fgf4_Cdss1</text>
<text x="228" y="819.1" text-anchor="middle" font-size="5.4" font-style="italic" fill="#2a2a2a" textLength="20.67" lengthAdjust="spacingAndGlyphs">Fgf13_Fgf2</text>
<text x="250.6" y="822.5" text-anchor="middle" font-size="5.4" font-style="italic" fill="#2a2a2a" textLength="18.65" lengthAdjust="spacingAndGlyphs">Bdnf_Fgf1</text>
<text x="338" y="729.8" text-anchor="middle" font-size="5.4" font-style="italic" fill="#2a2a2a" textLength="14.6" lengthAdjust="spacingAndGlyphs">Rai_Vdr</text>
<text x="357" y="739.8" text-anchor="middle" font-size="5.4" font-style="italic" fill="#2a2a2a" textLength="24.95" lengthAdjust="spacingAndGlyphs">Lgi1_Adam22</text>
<text x="299.3" y="743.3" text-anchor="middle" font-size="5.4" font-style="italic" fill="#2a2a2a" textLength="24.05" lengthAdjust="spacingAndGlyphs">Fgf13_Scn9a</text>
<text x="319" y="745.2" text-anchor="middle" font-size="5.4" font-style="italic" fill="#2a2a2a" textLength="24.05" lengthAdjust="spacingAndGlyphs">Fgf12_Scn9a</text>
<text x="308" y="752.5" text-anchor="middle" font-size="5.4" font-style="italic" fill="#2a2a2a" textLength="29.44" lengthAdjust="spacingAndGlyphs">Pcdh19_Gabra2</text>
<text x="329.2" y="756.1" text-anchor="middle" font-size="5.4" font-style="italic" fill="#2a2a2a" textLength="29.44" lengthAdjust="spacingAndGlyphs">Pcdh19_Gabra1</text>
<text x="286.2" y="759.5" text-anchor="middle" font-size="5.4" font-style="italic" fill="#2a2a2a" textLength="24.05" lengthAdjust="spacingAndGlyphs">Fgf12_Scn1a</text>
<text x="319" y="763.1" text-anchor="middle" font-size="5.4" font-style="italic" fill="#2a2a2a" textLength="24.05" lengthAdjust="spacingAndGlyphs">Fgf12_Scn8a</text>
<text x="284.7" y="769.3" text-anchor="middle" font-size="5.4" font-style="italic" fill="#2a2a2a" textLength="22.69" lengthAdjust="spacingAndGlyphs">Nrxn1_Dag1</text>
<text x="306.6" y="768.5" text-anchor="middle" font-size="5.4" font-style="italic" fill="#2a2a2a" textLength="24.05" lengthAdjust="spacingAndGlyphs">Fgf12_Scn2a</text>
<text x="286.2" y="779.5" text-anchor="middle" font-size="5.4" font-style="italic" fill="#2a2a2a" textLength="26.51" lengthAdjust="spacingAndGlyphs">Nrxn1_Gabrb2</text>
<text x="312.4" y="777" text-anchor="middle" font-size="5.4" font-style="italic" fill="#2a2a2a" textLength="24.27" lengthAdjust="spacingAndGlyphs">Lama2_Dag1</text>
<text x="297.4" y="790.7" text-anchor="middle" font-size="5.4" font-style="italic" fill="#2a2a2a" textLength="29.44" lengthAdjust="spacingAndGlyphs">Pcdh19_Gabra5</text>
<text x="347.8" y="792.7" text-anchor="middle" font-size="5.4" font-style="italic" fill="#2a2a2a" textLength="24.71" lengthAdjust="spacingAndGlyphs">Nrxn2_Adgrl1</text>
<text x="345.6" y="799.2" text-anchor="middle" font-size="5.4" font-style="italic" fill="#2a2a2a" textLength="29.67" lengthAdjust="spacingAndGlyphs">Pcdh19_Pcdh19</text>
<text x="375.5" y="796.3" text-anchor="middle" font-size="5.4" font-style="italic" fill="#2a2a2a" textLength="24.94" lengthAdjust="spacingAndGlyphs">Rph3a_Nrxn1</text>
<text x="318.6" y="804.3" text-anchor="middle" font-size="5.4" font-style="italic" fill="#2a2a2a" textLength="24.05" lengthAdjust="spacingAndGlyphs">Fgf13_Scn4a</text>
<text x="343.4" y="809.1" text-anchor="middle" font-size="5.4" font-style="italic" fill="#2a2a2a" textLength="24.05" lengthAdjust="spacingAndGlyphs">Fgf13_Scn8a</text>
<text x="315.7" y="813.1" text-anchor="middle" font-size="5.4" font-style="italic" fill="#2a2a2a" textLength="24.05" lengthAdjust="spacingAndGlyphs">Fgf13_Scn1a</text>
<text x="375.5" y="810.9" text-anchor="middle" font-size="5.4" font-style="italic" fill="#2a2a2a" textLength="29.44" lengthAdjust="spacingAndGlyphs">Pcdh19_Gabra3</text>
<text x="343.4" y="816.7" text-anchor="middle" font-size="5.4" font-style="italic" fill="#2a2a2a" textLength="24.49" lengthAdjust="spacingAndGlyphs">Dcc_Cntnap5</text>
<text x="372.6" y="818.9" text-anchor="middle" font-size="5.4" font-style="italic" fill="#2a2a2a" textLength="29.44" lengthAdjust="spacingAndGlyphs">Pcdh19_Gabra4</text>
<text x="312" y="823.7" text-anchor="middle" font-size="5.4" font-style="italic" fill="#2a2a2a" textLength="22.02" lengthAdjust="spacingAndGlyphs">Fgf13_Fgfr1</text>
<text x="341.9" y="824.8" text-anchor="middle" font-size="5.4" font-style="italic" fill="#2a2a2a" textLength="21.57" lengthAdjust="spacingAndGlyphs">Gnas_Gnas</text>
<text x="315.7" y="827.7" text-anchor="middle" font-size="5.4" font-style="italic" fill="#2a2a2a" textLength="25.47" lengthAdjust="spacingAndGlyphs">Cdh11_Cdh11</text>
<text x="335.4" y="833.1" text-anchor="middle" font-size="5.4" font-style="italic" fill="#2a2a2a" textLength="22.01" lengthAdjust="spacingAndGlyphs">Grm7_Gnas</text>
<text x="320.8" y="837.2" text-anchor="middle" font-size="5.4" font-style="italic" fill="#2a2a2a" textLength="24.49" lengthAdjust="spacingAndGlyphs">Dcc_Cntnap2</text>
<text x="383.8" y="839.3" text-anchor="middle" font-size="5.4" font-style="italic" fill="#2a2a2a" textLength="20.22" lengthAdjust="spacingAndGlyphs">Ldlr_Lrrc4c</text>
<text x="404" y="804.8" text-anchor="middle" font-size="5.4" font-style="italic" fill="#2a2a2a" textLength="17.08" lengthAdjust="spacingAndGlyphs">Ldlr_Lrp1</text>
<text x="424" y="804.8" text-anchor="middle" font-size="5.4" font-style="italic" fill="#2a2a2a" textLength="23.82" lengthAdjust="spacingAndGlyphs">Cdh10_Cdh9</text>
<text x="435.1" y="810.5" text-anchor="middle" font-size="5.4" font-style="italic" fill="#2a2a2a" textLength="24.04" lengthAdjust="spacingAndGlyphs">Nlgn1_Lrrc4c</text>
<text x="403.5" y="818.9" text-anchor="middle" font-size="5.4" font-style="italic" fill="#2a2a2a" textLength="23.59" lengthAdjust="spacingAndGlyphs">Nrxn1_Nlgn1</text>
<text x="406" y="822.3" text-anchor="middle" font-size="5.4" font-style="italic" fill="#2a2a2a" textLength="23.81" lengthAdjust="spacingAndGlyphs">Nrxn2_Nrxn1</text>
<text x="421" y="818.4" text-anchor="middle" font-size="5.4" font-style="italic" fill="#2a2a2a" textLength="28.31" lengthAdjust="spacingAndGlyphs">Cadm1_Cadm1</text>
<text x="440" y="816.4" text-anchor="middle" font-size="5.4" font-style="italic" fill="#2a2a2a" textLength="24.26" lengthAdjust="spacingAndGlyphs">Ncam1_Sdc3</text>
<text x="458.1" y="821" text-anchor="middle" font-size="5.4" font-style="italic" fill="#2a2a2a" textLength="28.31" lengthAdjust="spacingAndGlyphs">Cadm2_Cadm1</text>
<text x="428.5" y="827.2" text-anchor="middle" font-size="5.4" font-style="italic" fill="#2a2a2a" textLength="21.57" lengthAdjust="spacingAndGlyphs">Cdh9_Cdh8</text>
<text x="438.4" y="830" text-anchor="middle" font-size="5.4" font-style="italic" fill="#2a2a2a" textLength="22.92" lengthAdjust="spacingAndGlyphs">Ntng1_Grin1</text>
<text x="464" y="831.9" text-anchor="middle" font-size="5.4" font-style="italic" fill="#2a2a2a" textLength="22.24" lengthAdjust="spacingAndGlyphs">Lrrc4c_Nrg1</text>
<text x="402.9" y="831.5" text-anchor="middle" font-size="5.4" font-style="italic" fill="#2a2a2a" textLength="23.59" lengthAdjust="spacingAndGlyphs">Nrxn2_Nlgn3</text>
<text x="421.3" y="838.1" text-anchor="middle" font-size="5.4" font-style="italic" fill="#2a2a2a" textLength="23.52" lengthAdjust="spacingAndGlyphs">Cdh11_Cdh8</text>
<text x="407.5" y="840.7" text-anchor="middle" font-size="5.4" font-style="italic" fill="#2a2a2a" textLength="24.71" lengthAdjust="spacingAndGlyphs">Nrxn2_Adgrl1</text>
<text x="433.1" y="842" text-anchor="middle" font-size="5.4" font-style="italic" fill="#2a2a2a" textLength="24.26" lengthAdjust="spacingAndGlyphs">Lrrc4c_Ntng1</text>
<text x="450.2" y="839.4" text-anchor="middle" font-size="5.4" font-style="italic" fill="#2a2a2a" textLength="23.59" lengthAdjust="spacingAndGlyphs">Nlgn3_Nrxn1</text>
<text x="464.6" y="843.1" text-anchor="middle" font-size="5.4" font-style="italic" fill="#2a2a2a" textLength="23.59" lengthAdjust="spacingAndGlyphs">Nlgn2_Nrxn2</text>
<text x="412.7" y="846.6" text-anchor="middle" font-size="5.4" font-style="italic" fill="#2a2a2a" textLength="24.04" lengthAdjust="spacingAndGlyphs">Nlgn2_Lrrc4c</text>
<text x="407.5" y="853.5" text-anchor="middle" font-size="5.4" font-style="italic" fill="#2a2a2a" textLength="25.17" lengthAdjust="spacingAndGlyphs">Pcdh8_Pcdh8</text>
<text x="437" y="851.6" text-anchor="middle" font-size="5.4" font-style="italic" fill="#2a2a2a" textLength="23.59" lengthAdjust="spacingAndGlyphs">Nlgn2_Nrxn3</text>
<text x="468.6" y="851.6" text-anchor="middle" font-size="5.4" font-style="italic" fill="#2a2a2a" textLength="22.47" lengthAdjust="spacingAndGlyphs">Ephb2_Gln1</text>
<text x="438.4" y="857.4" text-anchor="middle" font-size="5.4" font-style="italic" fill="#2a2a2a" textLength="23.59" lengthAdjust="spacingAndGlyphs">Nlgn3_Nrxn3</text>
<text x="460.7" y="856.5" text-anchor="middle" font-size="5.4" font-style="italic" fill="#2a2a2a" textLength="23.37" lengthAdjust="spacingAndGlyphs">Pcdh8_Cdh8</text>
<text x="469.7" y="860.3" text-anchor="middle" font-size="5.4" font-style="italic" fill="#2a2a2a" textLength="20.89" lengthAdjust="spacingAndGlyphs">Unc5d_Dcc</text>
<text x="428.1" y="864" text-anchor="middle" font-size="5.4" font-style="italic" fill="#2a2a2a" textLength="24.05" lengthAdjust="spacingAndGlyphs">Fgf14_Scn8a</text>
<text x="454.3" y="866.9" text-anchor="middle" font-size="5.4" font-style="italic" fill="#2a2a2a" textLength="24.05" lengthAdjust="spacingAndGlyphs">Fgf13_Scn9a</text>
<text x="468.2" y="870.6" text-anchor="middle" font-size="5.4" font-style="italic" fill="#2a2a2a" textLength="23.52" lengthAdjust="spacingAndGlyphs">Cdh11_Cdh2</text>
<text x="406.2" y="869.1" text-anchor="middle" font-size="5.4" font-style="italic" fill="#2a2a2a" textLength="23.59" lengthAdjust="spacingAndGlyphs">Nrxn3_Nlgn2</text>
<text x="418.6" y="874.2" text-anchor="middle" font-size="5.4" font-style="italic" fill="#2a2a2a" textLength="23.59" lengthAdjust="spacingAndGlyphs">Nlgn1_Nrxn2</text>
<text x="439" y="872" text-anchor="middle" font-size="5.4" font-style="italic" fill="#2a2a2a" textLength="24.04" lengthAdjust="spacingAndGlyphs">Nlgn2_Lrrc4c</text>
<text x="456.5" y="879.3" text-anchor="middle" font-size="5.4" font-style="italic" fill="#2a2a2a" textLength="23.59" lengthAdjust="spacingAndGlyphs">Nlgn1_Nrxn3</text>
<text x="406.9" y="882.7" text-anchor="middle" font-size="5.4" font-style="italic" fill="#2a2a2a" textLength="23.52" lengthAdjust="spacingAndGlyphs">Cdh2_Cdh11</text>
<text x="434.6" y="883.7" text-anchor="middle" font-size="5.4" font-style="italic" fill="#2a2a2a" textLength="19.1" lengthAdjust="spacingAndGlyphs">Mdk_Sdc2</text>
<text x="450.7" y="885.2" text-anchor="middle" font-size="5.4" font-style="italic" fill="#2a2a2a" textLength="16.4" lengthAdjust="spacingAndGlyphs">Ptn_Fgf1</text>
<text x="428" y="887.3" text-anchor="middle" font-size="5.4" font-style="italic" fill="#2a2a2a" textLength="24.5" lengthAdjust="spacingAndGlyphs">Ephb2_Efnb2</text>
<text x="460.9" y="892.9" text-anchor="middle" font-size="5.4" font-style="italic" fill="#2a2a2a" textLength="23.52" lengthAdjust="spacingAndGlyphs">Cdh8_Cdh11</text>
<text x="422.2" y="893.9" text-anchor="middle" font-size="5.4" font-style="italic" fill="#2a2a2a" textLength="18.42" lengthAdjust="spacingAndGlyphs">Mdk_Cyr1</text>
<text x="447" y="899" text-anchor="middle" font-size="5.4" font-style="italic" fill="#2a2a2a" textLength="23.59" lengthAdjust="spacingAndGlyphs">Nlgn2_Nrxn2</text>
<text x="439.7" y="904.6" text-anchor="middle" font-size="5.4" font-style="italic" fill="#2a2a2a" textLength="21.57" lengthAdjust="spacingAndGlyphs">Cdh2_Cdh4</text>
<text x="422.2" y="909.5" text-anchor="middle" font-size="5.4" font-style="italic" fill="#2a2a2a" textLength="24.49" lengthAdjust="spacingAndGlyphs">Dcc_Cntnap5</text>
<text x="400" y="915.1" text-anchor="middle" font-size="5.4" font-style="italic" fill="#2a2a2a" textLength="23.59" lengthAdjust="spacingAndGlyphs">Nrxn1_Nlgn2</text>
<text x="418" y="915.1" text-anchor="middle" font-size="5.4" font-style="italic" fill="#2a2a2a" textLength="23.59" lengthAdjust="spacingAndGlyphs">Nrxn2_Nlgn2</text>
<text x="396.7" y="903.3" text-anchor="middle" font-size="5.4" font-style="italic" fill="#2a2a2a" textLength="28.31" lengthAdjust="spacingAndGlyphs">Cadm1_Cadm2</text>
<text x="404" y="896.8" text-anchor="middle" font-size="5.4" font-style="italic" fill="#2a2a2a" textLength="23.59" lengthAdjust="spacingAndGlyphs">Nrxn3_Nlgn3</text>
<text x="368.6" y="854.1" text-anchor="middle" font-size="5.4" font-style="italic" fill="#2a2a2a" textLength="23.15" lengthAdjust="spacingAndGlyphs">Ephb2_Sdc2</text>
<text x="348.2" y="860.2" text-anchor="middle" font-size="5.4" font-style="italic" fill="#2a2a2a" textLength="33.11" lengthAdjust="spacingAndGlyphs">Pcdh11x_Pcdh11x</text>
<text x="378.1" y="859" text-anchor="middle" font-size="5.4" font-style="italic" fill="#2a2a2a" textLength="23.59" lengthAdjust="spacingAndGlyphs">Nrxn1_Nlgn1</text>
<text x="336.5" y="868.5" text-anchor="middle" font-size="5.4" font-style="italic" fill="#2a2a2a" textLength="26.07" lengthAdjust="spacingAndGlyphs">Ephb2_Grin2b</text>
<text x="345.3" y="874.8" text-anchor="middle" font-size="5.4" font-style="italic" fill="#2a2a2a" textLength="24.05" lengthAdjust="spacingAndGlyphs">Fgf14_Scn8a</text>
<text x="367.9" y="873.3" text-anchor="middle" font-size="5.4" font-style="italic" fill="#2a2a2a" textLength="29.67" lengthAdjust="spacingAndGlyphs">Pcdh10_Pcdh10</text>
<text x="382.5" y="870.7" text-anchor="middle" font-size="5.4" font-style="italic" fill="#2a2a2a" textLength="21.79" lengthAdjust="spacingAndGlyphs">Dcc_Dscam</text>
<text x="367.9" y="881.6" text-anchor="middle" font-size="5.4" font-style="italic" fill="#2a2a2a" textLength="19.32" lengthAdjust="spacingAndGlyphs">Ptprt_Ptprt</text>
<text x="383.2" y="884.5" text-anchor="middle" font-size="5.4" font-style="italic" fill="#2a2a2a" textLength="23.81" lengthAdjust="spacingAndGlyphs">Nrxn1_Nrxn1</text>
<text x="350.4" y="889.7" text-anchor="middle" font-size="5.4" font-style="italic" fill="#2a2a2a" textLength="29.67" lengthAdjust="spacingAndGlyphs">Pcdh15_Pcdh15</text>
<text x="350.4" y="899.9" text-anchor="middle" font-size="5.4" font-style="italic" fill="#2a2a2a" textLength="24.71" lengthAdjust="spacingAndGlyphs">Nrxn2_Adgrl1</text>
<text x="370.8" y="898.4" text-anchor="middle" font-size="5.4" font-style="italic" fill="#2a2a2a" textLength="21.57" lengthAdjust="spacingAndGlyphs">Cdh8_Cdh8</text>
<text x="377.4" y="894.8" text-anchor="middle" font-size="5.4" font-style="italic" fill="#2a2a2a" textLength="24.49" lengthAdjust="spacingAndGlyphs">Cntnap2_Dcc</text>
<text x="365" y="907.2" text-anchor="middle" font-size="5.4" font-style="italic" fill="#2a2a2a" textLength="21.57" lengthAdjust="spacingAndGlyphs">Cdh2_Cdh2</text>
<text x="392" y="902.8" text-anchor="middle" font-size="5.4" font-style="italic" fill="#2a2a2a" textLength="28.31" lengthAdjust="spacingAndGlyphs">Cadm1_Cadm2</text>
<text x="378.1" y="915.9" text-anchor="middle" font-size="5.4" font-style="italic" fill="#2a2a2a" textLength="22.01" lengthAdjust="spacingAndGlyphs">Grm5_Gnas</text>
<text x="394.9" y="914.8" text-anchor="middle" font-size="5.4" font-style="italic" fill="#2a2a2a" textLength="23.59" lengthAdjust="spacingAndGlyphs">Nrxn1_Nlgn1</text>
<text x="321.9" y="893.3" text-anchor="middle" font-size="5.4" font-style="italic" fill="#2a2a2a" textLength="26.07" lengthAdjust="spacingAndGlyphs">Cdh13_Cdh13</text>
<text x="319" y="915.9" text-anchor="middle" font-size="5.4" font-style="italic" fill="#2a2a2a" textLength="26.07" lengthAdjust="spacingAndGlyphs">Cdh22_Cdh22</text>
<text x="255" y="853.3" text-anchor="middle" font-size="5.4" font-style="italic" fill="#2a2a2a" textLength="24.35" lengthAdjust="spacingAndGlyphs">Vegfb_Ephb1</text>
<text x="236.5" y="863.2" text-anchor="middle" font-size="5.4" font-style="italic" fill="#2a2a2a" textLength="29.44" lengthAdjust="spacingAndGlyphs">Sema7a_Plxnc1</text>
<text x="234.3" y="875.2" text-anchor="middle" font-size="5.4" font-style="italic" fill="#2a2a2a" textLength="29.44" lengthAdjust="spacingAndGlyphs">Plxnc1_Sema7a</text>
<text x="225.5" y="886.6" text-anchor="middle" font-size="5.4" font-style="italic" fill="#2a2a2a" textLength="26.51" lengthAdjust="spacingAndGlyphs">L1cam_L1cam</text>
<text x="228.8" y="897.5" text-anchor="middle" font-size="5.4" font-style="italic" fill="#2a2a2a" textLength="22.02" lengthAdjust="spacingAndGlyphs">Slit2_Robo2</text>
<text x="231" y="915.7" text-anchor="middle" font-size="5.4" font-style="italic" fill="#2a2a2a" textLength="23.52" lengthAdjust="spacingAndGlyphs">Cdh11_Cdh7</text>
<g fill="#ef3e51"><circle cx="266.9" cy="731.5" r="1.3"/><circle cx="256.9" cy="733.2" r="1.3"/><circle cx="275.8" cy="735.1" r="1.3"/><circle cx="246.9" cy="734.4" r="1.3"/><circle cx="248.4" cy="743.0" r="1.3"/><circle cx="236.7" cy="740.5" r="1.3"/><circle cx="264.7" cy="741.3" r="1.3"/><circle cx="258.3" cy="749.7" r="1.3"/><circle cx="223.1" cy="753.4" r="1.3"/><circle cx="244.7" cy="752.2" r="1.3"/><circle cx="262.0" cy="754.0" r="1.3"/><circle cx="234.5" cy="756.2" r="1.3"/><circle cx="218.5" cy="762.0" r="1.3"/><circle cx="227.7" cy="765.4" r="1.3"/><circle cx="250.6" cy="762.0" r="1.3"/><circle cx="239.3" cy="767.1" r="1.3"/><circle cx="216.0" cy="771.2" r="1.3"/><circle cx="229.1" cy="776.0" r="1.3"/><circle cx="218.2" cy="779.2" r="1.3"/><circle cx="241.1" cy="780.0" r="1.3"/><circle cx="250.4" cy="781.7" r="1.3"/><circle cx="216.0" cy="788.2" r="1.3"/><circle cx="228.0" cy="786.8" r="1.3"/><circle cx="244.5" cy="791.9" r="1.3"/><circle cx="232.0" cy="796.3" r="1.3"/><circle cx="219.9" cy="796.7" r="1.3"/><circle cx="225.8" cy="805.0" r="1.3"/><circle cx="241.1" cy="803.6" r="1.3"/><circle cx="252.8" cy="807.7" r="1.3"/><circle cx="259.9" cy="814.1" r="1.3"/><circle cx="233.8" cy="811.6" r="1.3"/><circle cx="245.2" cy="815.3" r="1.3"/><circle cx="335.5" cy="732.5" r="1.3"/><circle cx="346.0" cy="737.3" r="1.3"/><circle cx="296.0" cy="747.8" r="1.3"/><circle cx="304.7" cy="748.3" r="1.3"/><circle cx="309.2" cy="754.7" r="1.3"/><circle cx="323.2" cy="756.9" r="1.3"/><circle cx="289.1" cy="754.4" r="1.3"/><circle cx="298.6" cy="755.1" r="1.3"/><circle cx="307.3" cy="762.9" r="1.3"/><circle cx="287.9" cy="763.2" r="1.3"/><circle cx="297.4" cy="763.6" r="1.3"/><circle cx="290.1" cy="773.1" r="1.3"/><circle cx="300.3" cy="773.1" r="1.3"/><circle cx="293.6" cy="782.9" r="1.3"/><circle cx="341.8" cy="793.5" r="1.3"/><circle cx="338.3" cy="802.6" r="1.3"/><circle cx="367.9" cy="803.4" r="1.3"/><circle cx="329.8" cy="806.6" r="1.3"/><circle cx="335.4" cy="805.1" r="1.3"/><circle cx="327.0" cy="811.4" r="1.3"/><circle cx="333.9" cy="809.9" r="1.3"/><circle cx="363.1" cy="807.4" r="1.3"/><circle cx="334.6" cy="819.1" r="1.3"/><circle cx="358.7" cy="812.8" r="1.3"/><circle cx="323.0" cy="821.6" r="1.3"/><circle cx="329.2" cy="820.6" r="1.3"/><circle cx="323.2" cy="827.4" r="1.3"/><circle cx="328.5" cy="826.7" r="1.3"/><circle cx="318.9" cy="830.4" r="1.3"/><circle cx="376.2" cy="840.1" r="1.3"/><circle cx="401.6" cy="811.8" r="1.3"/><circle cx="413.7" cy="811.4" r="1.3"/><circle cx="423.0" cy="814.4" r="1.3"/><circle cx="402.2" cy="821.3" r="1.3"/><circle cx="414.1" cy="821.7" r="1.3"/><circle cx="430.7" cy="819.7" r="1.3"/><circle cx="434.0" cy="817.2" r="1.3"/><circle cx="452.1" cy="821.8" r="1.3"/><circle cx="421.5" cy="828.5" r="1.3"/><circle cx="439.4" cy="823.6" r="1.3"/><circle cx="431.5" cy="831.1" r="1.3"/><circle cx="444.3" cy="832.5" r="1.3"/><circle cx="396.9" cy="832.3" r="1.3"/><circle cx="413.7" cy="837.0" r="1.3"/><circle cx="400.3" cy="839.0" r="1.3"/><circle cx="439.9" cy="840.3" r="1.3"/><circle cx="449.9" cy="841.0" r="1.3"/><circle cx="458.6" cy="843.9" r="1.3"/><circle cx="406.7" cy="847.4" r="1.3"/><circle cx="411.8" cy="857.8" r="1.3"/><circle cx="422.6" cy="849.5" r="1.3"/><circle cx="451.9" cy="850.2" r="1.3"/><circle cx="444.9" cy="856.8" r="1.3"/><circle cx="438.4" cy="848.9" r="1.3"/><circle cx="452.2" cy="862.0" r="1.3"/><circle cx="422.7" cy="866.7" r="1.3"/><circle cx="439.7" cy="866.0" r="1.3"/><circle cx="450.7" cy="870.3" r="1.3"/><circle cx="412.0" cy="857.6" r="1.3"/><circle cx="432.4" cy="873.7" r="1.3"/><circle cx="433.0" cy="872.8" r="1.3"/><circle cx="444.9" cy="876.6" r="1.3"/><circle cx="417.1" cy="876.9" r="1.3"/><circle cx="402.2" cy="874.0" r="1.3"/><circle cx="431.0" cy="883.9" r="1.3"/><circle cx="442.7" cy="883.5" r="1.3"/><circle cx="420.8" cy="886.4" r="1.3"/><circle cx="438.7" cy="892.2" r="1.3"/><circle cx="429.5" cy="894.4" r="1.3"/><circle cx="414.9" cy="894.7" r="1.3"/><circle cx="441.0" cy="899.8" r="1.3"/><circle cx="423.7" cy="901.4" r="1.3"/><circle cx="413.9" cy="904.9" r="1.3"/><circle cx="400.8" cy="908.3" r="1.3"/><circle cx="389.1" cy="908.3" r="1.3"/><circle cx="394.5" cy="898.1" r="1.3"/><circle cx="405.4" cy="898.8" r="1.3"/><circle cx="361.3" cy="851.8" r="1.3"/><circle cx="356.2" cy="865.3" r="1.3"/><circle cx="368.6" cy="862.8" r="1.3"/><circle cx="346.0" cy="866.8" r="1.3"/><circle cx="346.0" cy="877.7" r="1.3"/><circle cx="358.4" cy="877.0" r="1.3"/><circle cx="376.2" cy="874.8" r="1.3"/><circle cx="366.4" cy="884.3" r="1.3"/><circle cx="379.6" cy="887.2" r="1.3"/><circle cx="392.0" cy="885.0" r="1.3"/><circle cx="350.8" cy="885.3" r="1.3"/><circle cx="352.6" cy="894.5" r="1.3"/><circle cx="362.0" cy="894.5" r="1.3"/><circle cx="373.0" cy="896.4" r="1.3"/><circle cx="371.4" cy="895.6" r="1.3"/><circle cx="365.7" cy="903.7" r="1.3"/><circle cx="377.1" cy="907.2" r="1.3"/><circle cx="384.4" cy="898.9" r="1.3"/><circle cx="388.8" cy="908.4" r="1.3"/><circle cx="388.9" cy="915.6" r="1.3"/><circle cx="321.9" cy="901.1" r="1.3"/><circle cx="320.1" cy="909.9" r="1.3"/><circle cx="252.9" cy="857.1" r="1.3"/><circle cx="244.1" cy="866.5" r="1.3"/><circle cx="247.8" cy="877.4" r="1.3"/><circle cx="238.2" cy="883.4" r="1.3"/><circle cx="239.7" cy="895.4" r="1.3"/><circle cx="240.2" cy="908.1" r="1.3"/></g>
<circle cx="273.0" cy="781.4" r="2.5" fill="#3dbdb5"/>
<circle cx="324.4" cy="776.0" r="2.5" fill="#3dbdb5"/>
<circle cx="390.5" cy="856.7" r="2.5" fill="#3dbdb5"/>
<circle cx="270.4" cy="888.3" r="2.5" fill="#3dbdb5"/>
<text x="286.4" y="812" text-anchor="middle" font-size="7.46" font-weight="bold" fill="#222" textLength="7.2" lengthAdjust="spacingAndGlyphs" letter-spacing="0.3">ID</text>
<text x="359.3" y="780.8" text-anchor="middle" font-size="7.23" font-weight="bold" fill="#222" textLength="29.92" lengthAdjust="spacingAndGlyphs" letter-spacing="0.45">Epilepsy</text>
<text x="367" y="850.6" text-anchor="middle" font-size="7.34" font-weight="bold" fill="#222" textLength="23.23" lengthAdjust="spacingAndGlyphs" letter-spacing="0.2">Autism</text>
<text x="283.1" y="908.6" text-anchor="middle" font-size="7.23" font-weight="bold" fill="#222" textLength="14.3" lengthAdjust="spacingAndGlyphs" letter-spacing="0.5">SCZ</text>
</svg>
</body></html>
